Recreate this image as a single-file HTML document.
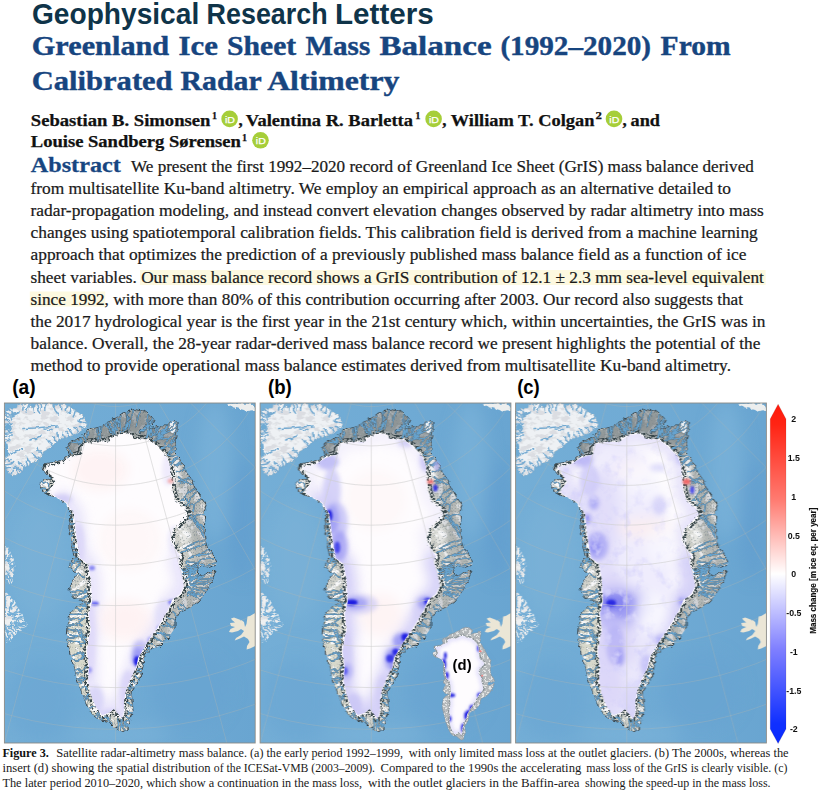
<!DOCTYPE html>
<html lang="en"><head><meta charset="utf-8"><title>Greenland Ice Sheet Mass Balance</title>
<style>html,body{margin:0;padding:0;background:#fff}body{width:820px;height:793px;overflow:hidden}svg{display:block}</style>
</head><body>
<svg width="820" height="793" viewBox="0 0 820 793">

<defs>
<linearGradient id="ocean" x1="0" y1="0" x2="1" y2="0"><stop offset="0" stop-color="#74aed6"/><stop offset="0.6" stop-color="#6faad4"/><stop offset="1" stop-color="#69a5d1"/></linearGradient>
<linearGradient id="cbar" x1="0" y1="0" x2="0" y2="1">
<stop offset="0" stop-color="#ff1a0a"/><stop offset="0.06" stop-color="#ff2414"/><stop offset="0.28" stop-color="#ff7a70"/><stop offset="0.5" stop-color="#ffffff"/><stop offset="0.72" stop-color="#8080ff"/><stop offset="0.94" stop-color="#1030ff"/><stop offset="1" stop-color="#0a2cff"/></linearGradient>
<filter id="blur3" x="-50%" y="-50%" width="200%" height="200%"><feGaussianBlur stdDeviation="2.2"/></filter>
<filter id="blur1" x="-50%" y="-50%" width="200%" height="200%"><feGaussianBlur stdDeviation="0.9"/></filter>
<filter id="blur4" x="-50%" y="-50%" width="200%" height="200%"><feGaussianBlur stdDeviation="3.2"/></filter>
<filter id="blur6" x="-50%" y="-50%" width="200%" height="200%"><feGaussianBlur stdDeviation="6"/></filter>
<filter id="mottle" x="0" y="0" width="100%" height="100%"><feTurbulence type="fractalNoise" baseFrequency="0.09" numOctaves="3" seed="8"/><feColorMatrix type="matrix" values="0 0 0 0 0.66  0 0 0 0 0.64  0 0 0 0 0.96  3.4 0 0 0 -1.75"/></filter>
<filter id="blur8" x="-50%" y="-50%" width="200%" height="200%"><feGaussianBlur stdDeviation="8"/></filter>
<filter id="rough" x="-5%" y="-5%" width="110%" height="110%"><feTurbulence type="fractalNoise" baseFrequency="0.25" numOctaves="2" seed="3" result="n"/><feDisplacementMap in="SourceGraphic" in2="n" scale="5" xChannelSelector="R" yChannelSelector="G"/></filter>
<filter id="veins" x="0" y="0" width="100%" height="100%"><feTurbulence type="turbulence" baseFrequency="0.33" numOctaves="2" seed="7"/><feColorMatrix type="matrix" values="0 0 0 0 0.2  0 0 0 0 0.25  0 0 0 0 0.28  -9 0 0 0 1.3"/></filter>
<filter id="patches" x="0" y="0" width="100%" height="100%"><feTurbulence type="fractalNoise" baseFrequency="0.16" numOctaves="3" seed="11"/><feColorMatrix type="matrix" values="0 0 0 0 0.95  0 0 0 0 0.95  0 0 0 0 0.96  8 0 0 0 -4.1"/></filter>
<filter id="roughice" x="-5%" y="-5%" width="110%" height="110%"><feTurbulence type="fractalNoise" baseFrequency="0.3" numOctaves="2" seed="9" result="n"/><feDisplacementMap in="SourceGraphic" in2="n" scale="6" xChannelSelector="R" yChannelSelector="G"/><feGaussianBlur stdDeviation="0.45"/></filter>
<filter id="rough3" x="-10%" y="-10%" width="120%" height="120%"><feTurbulence type="fractalNoise" baseFrequency="0.4" numOctaves="1" seed="2" result="n"/><feDisplacementMap in="SourceGraphic" in2="n" scale="1.5" xChannelSelector="R" yChannelSelector="G"/></filter>
<filter id="rough2" x="-5%" y="-5%" width="110%" height="110%"><feTurbulence type="fractalNoise" baseFrequency="0.2" numOctaves="2" seed="21" result="n"/><feDisplacementMap in="SourceGraphic" in2="n" scale="4" xChannelSelector="R" yChannelSelector="G"/></filter>
<filter id="speckle" x="-5%" y="-5%" width="110%" height="110%"><feTurbulence type="fractalNoise" baseFrequency="0.45" numOctaves="2" seed="5" result="n"/><feColorMatrix in="n" type="matrix" values="0 0 0 0 0  0 0 0 0 0  0 0 0 0 0  12 0 0 0 -5.6" result="m"/><feComposite in="SourceGraphic" in2="m" operator="in"/></filter>
<filter id="shade" x="0" y="0" width="100%" height="100%"><feTurbulence type="fractalNoise" baseFrequency="0.12 0.2" numOctaves="3" seed="4"/><feColorMatrix type="matrix" values="0 0 0 0 0.68  0 0 0 0 0.70  0 0 0 0 0.73  7 0 0 0 -3.3"/></filter>
<filter id="iceblur" x="-5%" y="-5%" width="110%" height="110%"><feGaussianBlur stdDeviation="0.8"/></filter>
<linearGradient id="mgrad" x1="0" y1="1" x2="1" y2="0"><stop offset="0" stop-color="#fff"/><stop offset="0.45" stop-color="#ddd"/><stop offset="0.75" stop-color="#555"/><stop offset="1" stop-color="#333"/></linearGradient>
<mask id="mmask" maskUnits="userSpaceOnUse" x="40" y="430" width="150" height="300"><rect x="40" y="430" width="150" height="300" fill="url(#mgrad)"/></mask>
<clipPath id="clipa"><rect x="4.4" y="403.0" width="250.8" height="340.0"/></clipPath>
<clipPath id="clipb"><rect x="260.1" y="403.0" width="250.8" height="340.0"/></clipPath>
<clipPath id="clipc"><rect x="515.6" y="403.0" width="250.8" height="340.0"/></clipPath>
<clipPath id="outerclip"><path d="M75.0 558.0 L72.0 548.0 L70.4 536.0 L70.0 524.0 L71.0 514.0 L67.0 504.0 L60.0 498.0 L50.0 496.0 L43.0 492.0 L40.0 484.0 L43.0 480.0 L52.0 479.0 L48.0 475.0 L43.0 469.0 L44.0 464.0 L54.0 462.4 L64.0 460.0 L70.0 455.0 L67.0 448.0 L69.0 443.0 L78.0 439.0 L84.0 436.0 L88.0 430.0 L100.0 427.0 L108.0 422.0 L116.0 419.0 L124.0 413.0 L134.0 409.6 L144.0 411.0 L152.0 417.0 L154.0 420.0 L152.0 424.0 L146.0 430.0 L153.0 428.0 L160.0 426.0 L168.0 426.0 L170.0 421.0 L177.0 422.0 L177.0 430.0 L175.0 440.0 L176.0 448.0 L174.0 453.0 L179.0 458.0 L183.0 466.0 L188.0 474.0 L192.0 482.0 L198.0 494.0 L206.0 504.0 L204.0 512.0 L205.0 520.0 L204.0 530.0 L205.0 540.0 L208.0 550.0 L212.0 552.0 L217.0 564.0 L208.0 567.0 L200.0 565.0 L196.0 572.0 L200.0 576.0 L216.0 571.0 L212.0 580.0 L206.0 592.0 L198.0 602.0 L188.0 609.0 L180.0 612.0 L175.0 620.0 L175.0 628.0 L168.0 638.0 L160.0 646.0 L152.0 649.0 L144.0 655.0 L143.0 666.0 L141.0 676.0 L136.0 684.0 L131.0 692.0 L132.0 701.0 L133.0 711.0 L129.0 721.0 L128.0 729.0 L122.0 732.0 L114.0 727.0 L108.0 721.0 L100.0 720.0 L93.0 715.0 L87.0 705.0 L82.0 693.0 L77.0 679.0 L74.0 665.0 L70.0 651.0 L67.0 640.0 L68.0 626.0 L70.0 614.0 L76.0 607.0 L86.0 602.0 L75.0 598.0 L69.0 590.0 L73.0 580.0 L78.0 574.0 L70.0 568.0 L72.0 560.0 Z"/></clipPath>
<clipPath id="bafclip"><path d="M4.4 546.0 L8.0 548.0 L11.0 553.0 L14.0 560.0 L14.4 570.0 L12.0 576.0 L13.0 583.0 L9.0 584.0 L6.0 580.0 L4.4 578.0 Z M4.4 592.0 L7.0 593.0 L11.0 598.0 L16.0 604.0 L20.0 612.0 L25.0 620.0 L28.0 625.0 L23.0 628.0 L18.0 631.0 L14.0 636.0 L10.0 641.0 L7.6 643.0 L5.5 638.0 L4.4 636.0 Z"/></clipPath>
<clipPath id="ellclip"><path d="M4.4 411.0 L9.0 410.0 L16.0 409.0 L18.0 405.0 L24.0 404.0 L30.0 404.0 L31.0 408.0 L35.0 407.0 L37.0 404.0 L52.0 404.0 L54.0 408.0 L56.0 404.5 L67.0 405.0 L70.0 408.0 L75.0 410.0 L80.0 414.0 L84.0 418.0 L87.0 424.0 L85.0 428.0 L78.0 433.0 L68.0 437.0 L58.0 440.0 L51.0 447.0 L43.0 452.0 L40.0 458.0 L34.0 462.0 L24.0 466.0 L22.0 472.0 L16.0 475.0 L11.0 475.0 L7.0 469.0 L5.0 463.0 L4.4 460.0 Z"/></clipPath>
<clipPath id="iceclip"><path d="M80.0 558.0 L77.0 540.0 L75.0 524.0 L74.0 514.0 L66.0 502.0 L56.0 497.0 L49.0 492.0 L56.0 482.0 L50.0 472.0 L46.0 467.0 L60.0 464.0 L70.0 458.0 L82.0 454.0 L83.0 444.0 L96.0 442.0 L108.0 442.0 L118.0 435.0 L128.0 434.0 L136.0 439.0 L148.0 440.0 L156.0 446.0 L166.0 456.0 L170.0 466.0 L171.0 480.0 L172.0 492.0 L176.0 502.0 L184.0 508.0 L188.0 514.0 L180.0 522.0 L172.0 530.0 L170.0 540.0 L176.0 550.0 L180.0 556.0 L178.0 562.0 L182.0 574.0 L184.0 586.0 L180.0 594.0 L172.0 600.0 L168.0 610.0 L162.0 620.0 L156.0 630.0 L150.0 638.0 L144.0 648.0 L138.0 658.0 L136.0 668.0 L130.0 680.0 L126.0 690.0 L124.0 701.0 L124.0 711.0 L122.0 719.0 L119.0 715.0 L114.0 709.0 L108.0 713.0 L102.0 715.0 L96.0 707.0 L91.0 695.0 L88.0 681.0 L89.0 667.0 L87.0 651.0 L89.0 638.0 L91.0 630.0 L89.0 614.0 L92.0 602.0 L91.0 580.0 L88.0 564.0 Z"/></clipPath>
<g id="oceanfx" filter="url(#blur8)">
<ellipse cx="40" cy="560" rx="30" ry="60" fill="#82b8db" opacity="0.35"/>
<ellipse cx="215" cy="470" rx="18" ry="70" fill="#7fb5da" opacity="0.6"/>
<ellipse cx="242" cy="520" rx="14" ry="60" fill="#609dce" opacity="0.6"/>
<ellipse cx="190" cy="690" rx="40" ry="40" fill="#68a4d1" opacity="0.6"/>
<ellipse cx="40" cy="700" rx="35" ry="40" fill="#69a5d2" opacity="0.6"/>
<ellipse cx="120" cy="735" rx="50" ry="10" fill="#7fb5da" opacity="0.6"/>
</g>
<g id="lands">
<g filter="url(#rough)">
<path d="M4.4 411.0 L9.0 410.0 L16.0 409.0 L18.0 405.0 L24.0 404.0 L30.0 404.0 L31.0 408.0 L35.0 407.0 L37.0 404.0 L52.0 404.0 L54.0 408.0 L56.0 404.5 L67.0 405.0 L70.0 408.0 L75.0 410.0 L80.0 414.0 L84.0 418.0 L87.0 424.0 L85.0 428.0 L78.0 433.0 L68.0 437.0 L58.0 440.0 L51.0 447.0 L43.0 452.0 L40.0 458.0 L34.0 462.0 L24.0 466.0 L22.0 472.0 L16.0 475.0 L11.0 475.0 L7.0 469.0 L5.0 463.0 L4.4 460.0 Z" fill="#eef1f4" stroke="#b4bcc3" stroke-width="0.6"/>
<path d="M4.4 546.0 L8.0 548.0 L11.0 553.0 L14.0 560.0 L14.4 570.0 L12.0 576.0 L13.0 583.0 L9.0 584.0 L6.0 580.0 L4.4 578.0 Z" fill="#eceeef"/><path d="M4.4 592.0 L7.0 593.0 L11.0 598.0 L16.0 604.0 L20.0 612.0 L25.0 620.0 L28.0 625.0 L23.0 628.0 L18.0 631.0 L14.0 636.0 L10.0 641.0 L7.6 643.0 L5.5 638.0 L4.4 636.0 Z" fill="#eef0f1"/>
<path d="M228.0 404.0 L240.0 403.6 L254.0 404.0 L255.0 410.0 L248.0 411.0 L240.0 409.0 L232.0 407.0 Z" fill="#eceeee"/>
</g>
<path d="M231.0 618.5 L234.0 617.5 L238.0 619.0 L242.0 620.5 L244.0 622.0 L245.0 627.0 L246.5 624.0 L247.5 616.5 L250.0 616.0 L252.5 614.5 L255.2 613.0 L255.2 646.0 L250.0 648.5 L246.6 649.5 L247.0 646.0 L249.5 642.0 L248.0 639.0 L244.0 636.5 L240.0 638.5 L234.7 640.5 L236.0 638.0 L241.0 635.0 L244.0 631.0 L241.0 629.0 L238.0 631.0 L232.0 632.5 L229.0 632.0 L230.5 629.0 L235.0 627.0 L231.0 626.0 L230.0 623.0 L235.0 622.5 L232.0 620.0 Z" fill="#ebe6d6" filter="url(#rough3)"/>
<g clip-path="url(#ellclip)"><rect x="0" y="400" width="95" height="80" filter="url(#shade)" opacity="0.85"/></g>
<g clip-path="url(#bafclip)"><rect x="0" y="540" width="32" height="108" filter="url(#shade)" opacity="0.7"/></g>
<g filter="url(#rough2)">
<path d="M7.9 408.8 L10.5 410.9 L11.9 412.1 L12.3 413.7 M22.1 402.8 L21.8 406.3 L23.1 408.1 L22.8 410.1 M30.4 402.7 L28.5 406.6 L27.5 409.4 L26.2 412.0 M33.6 405.8 L33.0 409.2 L33.3 410.8 L33.8 412.3 M36.3 402.7 L37.6 407.2 L37.9 410.6 L39.8 413.1 M40.8 402.5 L41.6 405.9 L41.3 407.9 L40.6 409.9 M46.0 402.5 L46.8 405.8 L44.7 407.5 L44.9 409.3 M53.3 406.4 L55.2 410.4 L56.9 412.5 L58.4 414.9 M60.2 403.2 L59.7 406.4 L61.8 407.9 L61.6 409.6 M68.1 404.1 L66.5 407.6 L65.3 409.5 L65.7 412.3 M71.5 407.0 L70.6 410.1 L70.5 411.9 L67.8 412.7 M75.9 408.8 L74.8 412.6 L74.1 414.8 L73.2 416.9 M83.5 415.4 L81.9 418.5 L79.8 419.1 L79.0 421.0 M87.6 422.0 L83.8 421.5 L81.7 422.4 L79.4 421.3 M85.6 429.3 L82.7 427.8 L81.4 426.8 L79.5 426.6 M79.1 434.1 L77.2 430.8 L76.4 428.6 L73.9 427.5 M74.0 436.2 L71.5 433.2 L71.0 431.0 L69.1 429.3 M68.9 438.3 L67.3 435.7 L68.0 433.7 L66.9 432.5 M64.5 439.6 L63.8 436.3 L62.9 434.6 L62.7 432.6 M59.9 441.0 L58.8 437.3 L58.0 435.0 L58.1 432.5 M57.5 442.6 L54.7 440.0 L54.4 437.1 L52.4 435.8 M52.9 447.2 L50.9 443.4 L48.7 441.9 L47.3 439.7 M43.6 454.1 L40.8 451.1 L38.2 450.9 L36.9 448.3 M40.0 459.8 L36.2 457.6 L34.6 455.5 L32.4 454.0 M30.5 465.0 L29.8 461.6 L28.0 460.2 L27.4 458.4 M27.5 466.2 L26.3 462.2 L26.8 459.1 L26.4 456.4 M25.4 466.6 L22.1 464.8 L19.9 464.2 L18.5 461.9 M23.3 472.3 L20.0 469.8 L17.7 468.4 L14.8 467.7 M18.7 475.3 L17.5 471.0 L17.2 467.9 L15.6 465.3 M10.9 476.4 L11.8 472.1 L12.5 469.3 L14.6 467.0 M5.2 468.3 L9.0 467.5 L11.4 467.4 L13.6 466.6 M4.1 465.0 L8.6 464.6 L11.4 463.8 L13.7 461.6 M3.2 461.7 L6.7 459.9 L9.2 461.3 L11.1 459.5 M2.9 454.1 L6.1 454.2 L7.9 453.0 L9.6 454.7 M2.9 440.4 L6.2 440.0 L8.0 440.8 L9.8 439.2 M2.9 436.6 L6.8 435.2 L9.1 435.9 L11.5 436.0 M2.9 433.3 L6.5 433.3 L8.7 433.0 L10.8 432.6 M2.9 429.7 L6.7 429.2 L8.9 430.6 L11.2 428.8 M2.9 424.4 L7.0 423.9 L9.6 423.8 L12.3 423.1 M2.9 420.1 L6.4 419.4 L8.4 419.9 L10.4 421.7 M3.1 413.1 L5.9 415.3 L7.4 417.0 L9.8 416.8 M3.2 410.0 L7.1 413.3 L10.0 415.3 L11.6 418.9 M10.0 415.3 L15.1 413.6" fill="none" stroke="#74aad1" stroke-width="1.5" stroke-linecap="round"/>
<path d="M10.3 549.6 L8.6 553.1 L9.0 555.9 L8.7 558.3 M11.8 551.9 L9.8 556.0 L8.9 558.9 L7.7 561.7 M8.9 558.9 L9.1 562.3 M13.5 555.5 L10.1 557.7 L8.4 559.4 L6.1 560.6 M15.4 560.3 L12.9 561.9 L11.6 562.6 L10.4 563.5 M15.7 565.4 L12.0 565.6 L9.8 564.7 L7.5 563.0 M15.8 568.0 L13.0 567.4 L11.8 566.3 L10.5 565.8 M14.8 572.9 L12.1 570.4 L10.7 568.7 L9.8 566.2 M13.4 582.1 L11.4 577.5 L8.5 575.1 L6.4 572.2 M8.5 575.1 L10.5 568.4 M13.7 584.3 L12.3 580.6 L10.7 578.6 L10.3 576.1 M10.9 585.1 L9.8 580.7 L8.2 578.0 L6.7 575.4 M8.2 578.0 L4.7 576.0 M8.8 584.7 L6.9 580.0 L4.3 576.9 L2.9 573.5 M7.0 582.6 L5.5 579.3 L5.2 577.4 L5.5 575.3 M4.4 578.8 L4.7 575.7 L4.2 574.0 L4.0 572.4 M4.4 574.4 L4.6 571.8 L3.4 570.7 L2.9 569.6 M4.4 560.0 L4.5 562.1 L4.6 562.7 L3.5 563.3 M4.4 557.5 L4.0 560.0 L5.0 561.0 L3.6 562.0 M4.4 554.1 L4.4 557.3 L5.3 559.1 L5.3 560.8 M4.4 551.8 L4.1 555.2 L5.9 557.0 L5.9 558.9 M4.4 549.7 L4.5 554.4 L3.8 557.6 L4.0 560.8 M4.4 545.7 L5.1 549.5 L4.6 551.9 L4.7 554.2 M4.4 544.5 L4.9 549.6 L3.8 553.1 L4.3 556.7 M8.2 592.7 L6.0 599.4 L5.3 604.8 L3.1 610.0 M5.3 604.8 L1.7 609.5 M12.3 597.6 L11.3 603.1 L9.6 606.9 L9.3 611.1 M13.9 599.4 L12.4 603.4 L11.1 605.7 L10.7 608.6 M17.0 603.0 L14.5 605.9 L12.7 607.4 L10.4 608.5 M19.4 607.6 L16.5 611.2 L14.1 613.0 L12.0 615.4 M14.1 613.0 L14.1 619.5 M21.0 610.7 L16.3 613.0 L12.3 613.3 L8.6 614.3 M12.3 613.3 L8.3 612.2 M23.4 614.7 L17.9 614.7 L13.8 614.2 L10.0 614.4 M24.7 617.0 L20.8 616.7 L18.4 617.7 L16.1 618.5 M26.7 620.4 L21.4 619.1 L17.5 618.5 L13.6 617.9 M17.5 618.5 L13.8 623.2 M28.1 623.0 L22.5 623.5 L18.5 623.2 L14.3 623.8 M18.5 623.2 L15.0 617.5 M29.4 625.5 L24.8 624.3 L21.4 624.8 L18.4 623.7 M21.4 624.8 L16.0 626.3 M26.5 627.3 L21.9 626.1 L18.5 625.9 L15.6 624.5 M22.6 629.8 L17.7 627.4 L13.8 626.3 L10.5 624.1 M13.8 626.3 L6.8 626.4 M18.9 632.2 L15.3 628.6 L12.9 625.9 L10.3 623.4 M12.9 625.9 L11.8 622.4 M17.3 634.2 L13.8 631.2 L11.1 629.4 L8.8 627.4 M11.1 629.4 L12.0 624.0 M14.9 637.1 L12.3 633.8 L9.9 632.1 L7.6 630.3 M11.9 640.6 L9.0 635.3 L7.9 631.0 L5.1 627.2 M7.9 631.0 L3.9 629.2 M9.1 643.4 L8.3 638.4 L8.7 634.6 L6.9 631.3 M7.5 643.9 L6.8 639.0 L5.3 635.8 L3.4 632.6 M5.3 635.8 L2.3 632.3 M6.6 641.8 L5.2 636.0 L2.6 631.8 L2.0 627.4 M2.6 631.8 L6.3 627.1 M5.3 639.0 L4.8 634.7 L4.5 632.0 L3.2 629.2 M4.4 636.7 L4.1 632.8 L4.0 630.5 L4.3 628.2 M4.4 633.5 L4.0 630.3 L4.9 628.6 L4.2 626.9 M4.4 630.4 L4.6 626.7 L3.2 624.5 L2.6 622.2 M4.4 627.1 L4.9 624.3 L3.4 623.0 L4.2 621.8 M4.4 611.5 L4.0 614.2 L4.6 615.5 L4.6 616.7 M4.4 608.5 L4.5 611.4 L5.3 612.9 L5.2 614.3 M4.4 604.1 L4.6 607.3 L3.9 608.9 L3.8 610.6 M4.4 599.7 L4.4 603.4 L5.1 605.6 L5.8 607.8 M4.4 596.8 L2.6 602.5 L2.2 606.7 L1.6 610.9 M2.2 606.7 L-1.9 610.0 M4.4 592.6 L4.8 598.1 L3.6 602.1 L3.4 606.1 M3.6 602.1 L0.5 604.0 M4.4 590.5 L3.6 597.0 L2.6 602.1 L-0.1 607.1" fill="none" stroke="#74aed6" stroke-width="1.3" stroke-linecap="round"/>
<path d="M23 428.5 L35 428 L46 427 L57 426 M44 429 L52 430.5 M11 453 L22 449 M12 416 L20 412 M30 440 L42 436" fill="none" stroke="#74aad1" stroke-width="1.7" stroke-linecap="round"/>
<ellipse cx="8" cy="427" rx="3.5" ry="2.2" fill="#6eaad3"/><ellipse cx="6" cy="450" rx="2" ry="8" fill="#6eaad3"/>
</g>
</g>
<g id="gl">
<path d="M75.0 558.0 L72.0 548.0 L70.4 536.0 L70.0 524.0 L71.0 514.0 L67.0 504.0 L60.0 498.0 L50.0 496.0 L43.0 492.0 L40.0 484.0 L43.0 480.0 L52.0 479.0 L48.0 475.0 L43.0 469.0 L44.0 464.0 L54.0 462.4 L64.0 460.0 L70.0 455.0 L67.0 448.0 L69.0 443.0 L78.0 439.0 L84.0 436.0 L88.0 430.0 L100.0 427.0 L108.0 422.0 L116.0 419.0 L124.0 413.0 L134.0 409.6 L144.0 411.0 L152.0 417.0 L154.0 420.0 L152.0 424.0 L146.0 430.0 L153.0 428.0 L160.0 426.0 L168.0 426.0 L170.0 421.0 L177.0 422.0 L177.0 430.0 L175.0 440.0 L176.0 448.0 L174.0 453.0 L179.0 458.0 L183.0 466.0 L188.0 474.0 L192.0 482.0 L198.0 494.0 L206.0 504.0 L204.0 512.0 L205.0 520.0 L204.0 530.0 L205.0 540.0 L208.0 550.0 L212.0 552.0 L217.0 564.0 L208.0 567.0 L200.0 565.0 L196.0 572.0 L200.0 576.0 L216.0 571.0 L212.0 580.0 L206.0 592.0 L198.0 602.0 L188.0 609.0 L180.0 612.0 L175.0 620.0 L175.0 628.0 L168.0 638.0 L160.0 646.0 L152.0 649.0 L144.0 655.0 L143.0 666.0 L141.0 676.0 L136.0 684.0 L131.0 692.0 L132.0 701.0 L133.0 711.0 L129.0 721.0 L128.0 729.0 L122.0 732.0 L114.0 727.0 L108.0 721.0 L100.0 720.0 L93.0 715.0 L87.0 705.0 L82.0 693.0 L77.0 679.0 L74.0 665.0 L70.0 651.0 L67.0 640.0 L68.0 626.0 L70.0 614.0 L76.0 607.0 L86.0 602.0 L75.0 598.0 L69.0 590.0 L73.0 580.0 L78.0 574.0 L70.0 568.0 L72.0 560.0 Z" fill="#d0d1ca" stroke="#35424a" stroke-width="1.0" stroke-linejoin="round" filter="url(#rough)"/>
<g clip-path="url(#outerclip)">
<rect x="60" y="600" width="40" height="125" fill="#dcdccc" opacity="0.6" filter="url(#blur3)"/>
<rect x="30" y="400" width="200" height="340" filter="url(#patches)"/>
<g filter="url(#blur6)"><path d="M60 470 L60 440 L100 420 L135 405 L180 415 L185 450 L165 450 L130 440 L90 450 Z" fill="#59656b" opacity="0.55"/><path d="M185 450 L195 470 L215 560 L215 600 L190 615 L165 650 L150 640 L185 590 L195 560 L180 500 L165 450 Z" fill="#59656b" opacity="0.28"/></g>
<g filter="url(#blur3)"><ellipse cx="176" cy="470" rx="4" ry="14" fill="#fff" opacity="0.85"/><ellipse cx="182" cy="505" rx="4" ry="8" fill="#fff" opacity="0.7"/><ellipse cx="190" cy="585" rx="6" ry="6" fill="#fff" opacity="0.8"/><ellipse cx="185" cy="535" rx="5" ry="9" fill="#fff" opacity="0.6"/></g>
<rect x="30" y="400" width="200" height="340" filter="url(#veins)" opacity="0.55"/>
<path d="M77.3 561.6 L83.9 566.5 L86.5 580.5 L87.5 601.5 L84.6 612.9 L84.6 613.3 L84.5 613.7 L84.5 614.1 L84.5 614.6 L86.4 629.7 L84.6 636.9 L84.6 637.3 L82.6 650.3 L82.5 650.7 L82.5 651.1 L82.5 651.6 L84.5 667.1 L83.5 680.7 L83.5 681.1 L83.5 681.5 L83.6 681.9 L86.6 695.9 L86.7 696.3 L86.8 696.7 L91.8 708.7 L92.0 709.1 L92.2 709.4 L92.4 709.7 L98.4 717.7 L98.7 718.0 L99.0 718.3 L99.3 718.6 L99.7 718.9 L100.1 719.1 L100.5 719.2 L100.9 719.4 L101.3 719.4 L101.7 719.5 L102.2 719.5 L102.6 719.5 L103.0 719.4 L103.4 719.3 L109.4 717.3 L109.8 717.1 L110.2 717.0 L110.5 716.7 L113.1 715.0 L115.5 717.8 L118.4 721.7 L118.7 722.0 L119.0 722.3 L119.3 722.6 L119.7 722.9 L120.1 723.1 L120.5 723.2 L120.9 723.4 L121.4 723.5 L121.8 723.5 L122.2 723.5 L122.7 723.4 L123.1 723.4 L123.5 723.2 L123.9 723.1 L124.3 722.9 L124.7 722.6 L125.0 722.3 L125.3 722.0 L125.6 721.7 L125.9 721.3 L126.1 720.9 L126.2 720.5 L126.4 720.1 L128.4 712.1 L128.5 711.5 L128.5 711.0 L128.5 701.4 L130.3 691.3 L134.1 681.8 L140.0 670.0 L140.2 669.6 L140.3 669.3 L140.4 668.9 L142.3 659.6 L153.7 640.5 L159.6 632.7 L159.9 632.3 L171.9 612.3 L172.0 612.0 L172.2 611.7 L175.7 602.8 L182.7 597.6 L183.0 597.3 L183.3 597.0 L183.6 596.7 L183.8 596.4 L184.0 596.0 L188.0 588.0 L188.2 587.6 L188.4 587.1 L188.4 586.7 L188.5 586.2 L188.5 585.7 L188.4 585.3 L186.4 573.3 L186.4 572.9 L186.3 572.6 L182.7 562.0 L184.3 557.4 L184.4 557.0 L184.5 556.5 L184.5 556.1 L184.5 555.6 L184.4 555.2 L184.3 554.7 L184.2 554.3 L184.0 553.9 L183.7 553.5 L179.8 547.6 L174.8 539.2 L176.1 532.2 L191.2 517.2 L191.5 516.9 L191.7 516.5 L192.0 516.1 L192.2 515.7 L192.3 515.3 L192.4 514.9 L192.5 514.4 L192.5 514.0 L192.5 513.6 L192.4 513.1 L192.3 512.7 L192.2 512.3 L192.0 511.9 L191.7 511.5 L187.7 505.5 L187.4 505.1 L187.1 504.7 L186.7 504.4 L179.7 499.2 L176.4 491.0 L175.5 479.7 L174.5 465.7 L174.4 465.2 L174.3 464.8 L174.2 464.3 L170.2 454.3 L170.0 453.9 L169.8 453.5 L169.5 453.2 L169.2 452.8 L159.2 442.8 L158.7 442.4 L150.7 436.4 L150.4 436.2 L150.0 436.0 L149.6 435.8 L149.2 435.7 L148.8 435.6 L148.4 435.5 L137.5 434.6 L130.4 430.2 L130.0 430.0 L129.6 429.8 L129.2 429.7 L128.8 429.6 L128.4 429.5 L128.0 429.5 L127.6 429.5 L117.6 430.5 L117.1 430.6 L116.7 430.7 L116.2 430.9 L115.8 431.1 L115.4 431.3 L106.6 437.5 L96.0 437.5 L95.7 437.5 L95.3 437.6 L82.3 439.6 L81.9 439.6 L81.4 439.8 L81.0 440.0 L80.6 440.2 L80.2 440.4 L79.9 440.7 L79.6 441.1 L79.3 441.4 L79.1 441.8 L78.9 442.2 L78.7 442.7 L78.6 443.1 L78.5 443.6 L77.8 450.7 L68.6 453.7 L68.1 453.9 L67.7 454.1 L58.3 459.8 L45.1 462.6 L44.6 462.7 L44.2 462.9 L43.8 463.1 L43.5 463.3 L43.1 463.5 L42.8 463.8 L42.5 464.2 L42.2 464.5 L42.0 464.9 L41.8 465.3 L41.7 465.7 L41.6 466.1 L41.5 466.5 L41.5 467.0 L41.5 467.4 L41.6 467.9 L41.7 468.3 L41.8 468.7 L42.0 469.1 L42.2 469.5 L42.5 469.8 L46.3 474.6 L50.6 481.8 L45.3 489.4 L45.1 489.8 L44.9 490.2 L44.7 490.6 L44.6 491.0 L44.5 491.4 L44.5 491.9 L44.5 492.3 L44.6 492.8 L44.7 493.2 L44.8 493.6 L45.0 494.0 L45.2 494.4 L45.4 494.8 L45.7 495.1 L46.0 495.4 L46.4 495.7 L53.4 500.7 L53.7 500.9 L54.0 501.0 L62.9 505.5 L69.6 515.6 L70.5 524.4 L70.5 524.6 L72.5 540.6 L72.6 540.7 L75.6 558.7 L75.7 559.2 L75.8 559.6 L75.9 560.0 L76.2 560.3 L76.4 560.7 L76.7 561.0 L77.0 561.3 Z" fill="#39464c" filter="url(#speckle)"/>
<g filter="url(#rough2)">
<path d="M155.5 417 L148 425 L140.2 432.4 M163 421.5 L158 428 L155.6 433 M106 421.5 L108 427 L111 432.5 M98.4 426.5 L100 431 L101 435 M117 418 L119 426 M127 412 L128 420 L126 428 M198 563 L190 568 L184 571 L178 569 M183 571 L180 577" fill="none" stroke="#3f4c53" stroke-width="3.0" stroke-linecap="round" stroke-linejoin="round"/>
<path d="M155.5 417 L148 425 L140.2 432.4 M163 421.5 L158 428 L155.6 433 M106 421.5 L108 427 L111 432.5 M98.4 426.5 L100 431 L101 435 M117 418 L119 426 M127 412 L128 420 L126 428 M198 563 L190 568 L184 571 L178 569 M183 571 L180 577" fill="none" stroke="#6aa6d2" stroke-width="1.9" stroke-linecap="round" stroke-linejoin="round"/>
</g>
<ellipse cx="172.5" cy="427" rx="3.6" ry="6.5" fill="#eef3f8" stroke="#5a676e" stroke-width="0.5"/>
<g filter="url(#rough2)">
<path d="M72.3 554.3 L74.9 552.0 L76.5 552.6 L77.8 551.7 M70.8 549.2 L73.9 549.3 L75.1 547.5 L76.8 548.2 M70.3 546.3 L72.5 544.7 L73.8 546.7 L74.7 545.6 M69.8 542.5 L72.3 543.1 L73.0 541.5 L73.6 539.8 M69.0 536.5 L71.3 535.0 L72.4 535.4 L73.5 536.2 M68.8 533.5 L71.3 534.0 L72.1 532.4 L73.0 532.2 M68.7 529.0 L71.4 529.0 L72.6 529.3 L73.7 528.9 M68.5 524.2 L71.1 524.6 L72.0 522.8 L73.1 523.2 M68.9 520.5 L71.4 518.7 L72.9 521.1 L74.0 519.7 M42.0 492.3 L45.2 493.2 L46.8 491.0 L48.5 490.0 M40.1 487.0 L42.2 489.0 L44.1 488.3 L45.5 488.5 M40.6 480.7 L45.8 482.4 L48.3 485.4 L50.5 488.8 M69.1 452.5 L69.5 455.2 L69.0 456.8 L69.2 458.0 M67.0 447.8 L66.8 451.8 L67.7 453.9 L68.6 456.0 M67.4 444.3 L69.0 448.5 L70.2 451.3 L72.3 453.7 M70.0 441.6 L74.2 442.5 L77.0 442.6 L79.6 444.4 M73.3 439.9 L76.7 441.8 L79.5 441.3 L81.2 443.5 M78.3 437.2 L80.4 439.1 L80.2 440.8 L82.5 440.8 M81.3 435.7 L81.2 439.2 L80.4 441.2 L82.3 442.7 M83.6 434.6 L83.9 437.8 L85.5 439.3 L86.4 440.9 M85.6 431.7 L86.9 434.6 L87.5 436.1 L87.2 437.7 M87.4 429.0 L88.8 433.3 L88.0 436.4 L87.6 439.5 M96.6 426.4 L97.1 431.9 L97.1 436.0 L98.9 440.1 M101.1 424.8 L101.1 430.1 L99.5 433.9 L100.4 437.7 M99.5 433.9 L96.7 436.3 M103.7 422.9 L106.4 426.4 L108.2 428.6 L109.8 431.0 M107.7 420.6 L110.3 426.2 L113.5 429.7 L115.2 434.1 M113.5 429.7 L112.7 435.1 M111.1 419.2 L113.6 423.5 L113.9 427.0 L117.3 429.1 M113.9 427.0 L113.3 431.0 M116.7 416.9 L115.9 422.8 L114.9 427.2 L114.9 431.6 M121.1 413.6 L119.8 421.0 L120.5 426.7 L121.8 432.4 M128.7 409.9 L127.1 418.5 L127.5 425.6 L123.2 432.5 M127.5 425.6 L123.8 428.7 M133.0 408.6 L130.9 416.7 L130.1 423.6 L128.2 430.3 M130.1 423.6 L127.2 424.7 M141.7 409.3 L138.5 415.6 L137.0 421.3 L136.2 427.3 M149.3 413.4 L148.0 419.5 L147.7 424.3 L147.2 429.0 M147.7 424.3 L151.4 428.1 M153.3 417.0 L151.8 423.3 L150.6 428.2 L150.1 433.2 M150.6 428.2 L143.9 430.1 M152.9 421.5 L150.7 426.3 L151.2 430.2 L150.5 433.9 M151.2 430.2 L152.7 434.8 M150.5 424.2 L148.8 428.4 L147.8 431.3 L147.4 434.2 M147.9 426.8 L148.7 431.3 L147.3 434.2 L147.1 437.2 M148.0 428.0 L148.5 432.3 L148.1 435.0 L146.0 437.5 M151.0 427.2 L151.3 431.6 L149.5 433.9 L150.1 436.9 M154.8 426.3 L150.1 430.3 L148.3 434.0 L147.0 438.0 M160.4 424.9 L155.6 428.9 L154.4 433.7 L150.9 436.8 M168.7 424.8 L162.7 430.6 L160.5 437.2 L155.6 441.8 M160.5 437.2 L156.0 438.7 M170.1 421.9 L166.6 427.3 L164.3 431.8 L162.2 436.4 M164.3 431.8 L157.7 432.8 M172.5 420.0 L166.6 425.2 L163.6 430.6 L158.6 434.4 M176.7 420.7 L170.3 427.6 L164.7 433.1 L159.6 439.2 M178.1 424.9 L169.9 431.6 L160.4 434.9 L153.4 440.7 M160.4 434.9 L154.1 435.1 M178.1 427.8 L173.8 434.8 L168.7 438.7 L165.3 444.5 M168.7 438.7 L162.0 438.2 M176.6 436.1 L171.5 441.7 L167.5 446.4 L161.4 449.0 M176.2 440.4 L171.9 442.8 L171.4 446.9 L167.9 448.0 M171.4 446.9 L171.3 450.0 M176.8 444.6 L173.1 447.4 L172.4 451.0 L170.7 453.7 M176.1 450.3 L172.6 452.1 L169.4 451.4 L168.4 454.6 M177.6 454.7 L174.0 456.3 L171.2 456.0 L168.1 455.1 M180.9 458.5 L176.0 458.8 L173.2 460.3 L170.4 462.0 M173.2 460.3 L171.3 466.3 M182.2 461.0 L178.8 461.7 L177.6 463.6 L176.4 465.7 M184.2 465.3 L179.9 463.8 L177.4 465.8 L174.7 464.8 M186.3 468.8 L181.9 470.5 L179.1 472.1 L176.0 471.5 M191.7 478.4 L186.2 478.9 L182.3 480.4 L178.3 481.3 M182.3 480.4 L178.5 476.9 M194.4 483.7 L188.6 483.8 L184.1 481.2 L179.9 483.4 M184.1 481.2 L182.6 484.2 M196.4 487.8 L189.2 491.8 L185.8 496.9 L180.9 500.8 M185.8 496.9 L187.5 500.8 M197.6 490.1 L192.5 496.0 L188.9 501.1 L184.7 505.6 M188.9 501.1 L190.2 505.9 M202.7 497.4 L197.9 501.6 L194.4 504.9 L189.3 505.8 M194.4 504.9 L193.4 510.7 M205.8 514.5 L200.6 514.8 L197.0 514.8 L193.2 517.9 M205.3 529.2 L199.4 525.3 L196.6 520.3 L193.6 515.3 M205.2 532.2 L200.2 525.3 L194.3 521.5 L188.5 517.5 M205.8 538.1 L200.0 529.3 L195.5 521.5 L190.6 514.0 M206.4 539.5 L198.0 542.4 L191.0 544.6 L184.9 548.4 M207.6 543.5 L197.4 546.4 L189.3 550.1 L180.7 552.8 M210.1 550.0 L201.9 552.9 L195.2 555.8 L188.6 558.5 M213.7 552.2 L207.1 554.3 L201.9 554.6 L196.8 555.8 M201.9 554.6 L198.7 557.1 M215.8 557.6 L205.0 558.8 L195.5 562.0 L186.2 562.4 M217.9 562.2 L205.4 565.5 L194.8 569.8 L184.1 573.7 M194.8 569.8 L190.7 568.4 M214.3 565.0 L206.3 569.2 L199.1 571.0 L192.4 574.4 M199.1 571.0 L193.9 567.2 M208.9 566.5 L200.3 567.5 L193.9 570.7 L186.3 569.5 M193.9 570.7 L187.3 568.4 M203.6 565.1 L197.0 566.6 L191.7 567.6 L186.1 567.3 M191.7 567.6 L186.2 563.5 M199.7 567.6 L195.1 570.7 L191.8 572.6 L188.6 574.9 M191.8 572.6 L189.5 576.3 M198.3 570.1 L194.4 573.0 L191.1 572.0 L188.6 574.1 M200.4 574.7 L194.8 577.7 L190.0 576.4 L185.8 578.8 M202.8 575.3 L197.2 578.3 L192.6 577.8 L188.5 580.7 M192.6 577.8 L190.8 582.7 M212.5 572.3 L205.2 574.2 L199.8 577.9 L194.0 578.9 M214.0 578.6 L205.0 579.0 L197.5 579.2 L189.6 577.7 M212.8 581.1 L205.0 582.1 L198.5 581.3 L192.4 583.4 M198.5 581.3 L195.0 577.3 M210.9 585.2 L202.9 583.7 L196.4 584.1 L190.0 585.4 M209.4 588.2 L202.2 588.2 L196.6 586.7 L191.0 585.3 M208.1 591.1 L199.6 590.5 L193.1 588.2 L186.2 587.7 M193.1 588.2 L188.7 593.1 M204.6 596.0 L198.9 594.4 L194.3 594.0 L191.0 590.7 M194.3 594.0 L190.8 596.0 M201.5 599.9 L196.2 597.0 L192.5 594.1 L188.6 591.6 M192.5 594.1 L187.7 595.9 M186.8 611.0 L185.1 607.3 L182.5 606.1 L180.4 604.5 M184.8 611.3 L181.4 609.2 L178.8 609.1 L177.0 607.1 M178.9 616.6 L175.8 614.9 L174.5 612.9 L172.9 611.7 M176.3 621.0 L172.5 619.2 L169.6 618.7 L167.5 617.0 M176.3 628.5 L171.4 626.8 L168.9 624.3 L166.1 622.0 M168.9 624.3 L163.1 626.5 M171.7 635.4 L166.0 634.7 L163.0 632.5 L158.8 632.3 M167.9 640.2 L164.3 635.7 L161.0 633.2 L157.0 631.8 M161.0 633.2 L155.7 633.0 M164.7 643.4 L160.9 640.2 L157.0 639.8 L154.2 637.8 M156.5 648.5 L153.5 645.4 L150.8 644.4 L147.7 644.1 M152.0 650.8 L149.0 650.5 L149.1 648.1 L147.3 648.9 M149.2 652.9 L146.5 651.0 L144.1 651.7 L143.4 649.6 M143.7 669.9 L141.2 668.7 L139.9 668.5 L138.5 669.2 M142.9 674.1 L139.8 672.3 L138.1 671.3 L135.8 671.5 M140.8 679.2 L137.9 678.2 L136.4 677.6 L135.2 676.5 M137.9 683.8 L135.0 683.5 L134.3 681.5 L132.4 682.7 M135.5 687.6 L132.3 687.5 L131.3 685.8 L130.4 684.2 M133.5 690.8 L131.2 688.7 L129.4 689.2 L128.8 686.9 M132.8 695.5 L129.7 694.8 L127.9 695.3 L126.3 694.7 M133.2 699.0 L130.0 698.2 L128.2 697.9 L126.3 698.4 M133.7 703.4 L130.5 704.6 L128.8 702.9 L127.1 702.5 M133.7 713.1 L130.5 712.6 L128.5 713.8 L127.2 711.7 M131.9 717.8 L128.5 718.3 L127.0 717.3 L125.5 716.3 M130.4 721.5 L127.9 720.0 L126.0 721.3 L124.5 721.5 M129.6 726.1 L127.2 724.0 L125.9 723.0 L124.2 722.4 M129.0 729.3 L127.8 725.3 L124.5 724.6 L124.2 721.9 M125.8 731.8 L123.6 728.5 L123.6 726.2 L121.9 724.4 M120.1 732.4 L121.6 727.8 L121.1 724.5 L122.0 721.3 M117.4 730.8 L118.5 726.1 L118.6 722.5 L122.2 720.3 M118.6 722.5 L117.6 719.0 M110.7 724.7 L110.1 721.6 L108.4 720.4 L108.8 718.6 M108.3 722.4 L107.9 719.0 L107.2 717.4 L105.0 716.2 M99.3 721.3 L101.7 719.8 L101.7 718.8 L101.1 717.7 M95.3 718.4 L98.7 717.3 L98.9 714.5 L100.2 713.1 M93.3 716.9 L96.4 715.9 L96.9 713.9 L97.9 712.6 M87.3 708.4 L90.4 707.3 L91.7 705.6 L94.0 706.5 M84.1 702.0 L86.0 699.4 L87.2 698.8 L88.9 699.6 M83.1 699.6 L85.7 697.6 L87.4 697.5 L88.6 696.3 M81.8 696.3 L85.5 695.8 L87.5 694.4 L89.7 693.9 M78.6 688.0 L82.3 687.2 L84.4 686.5 L87.2 688.9 M76.9 683.1 L80.9 682.2 L83.2 680.6 L85.4 678.6 M75.9 680.1 L79.2 680.0 L81.0 680.3 L82.6 682.3 M75.2 677.6 L78.8 678.3 L81.0 678.3 L83.1 678.6 M74.2 673.0 L77.9 672.8 L80.2 671.1 L82.2 672.6 M73.7 670.6 L78.8 670.0 L82.3 670.1 L86.1 666.9 M82.3 670.1 L85.0 668.2 M70.9 659.6 L77.1 660.1 L81.5 659.0 L85.8 656.5 M81.5 659.0 L83.9 653.6 M70.0 656.5 L75.6 654.6 L79.7 653.0 L84.0 653.0 M79.7 653.0 L83.5 655.6 M65.6 640.0 L72.8 641.7 L78.6 642.7 L84.6 642.0 M78.6 642.7 L81.4 645.5 M65.7 637.5 L73.3 638.1 L79.9 635.0 L86.0 635.4 M79.9 635.0 L83.6 640.6 M66.0 633.2 L73.5 635.9 L80.2 635.4 L86.1 638.5 M80.2 635.4 L82.6 632.6 M66.3 628.8 L72.7 630.3 L78.0 629.5 L82.7 631.4 M78.0 629.5 L79.2 632.8 M66.7 624.9 L73.3 625.1 L78.1 623.2 L83.4 625.4 M78.1 623.2 L80.7 621.0 M67.6 619.7 L74.2 618.5 L79.6 619.6 L84.6 618.2 M68.4 614.5 L75.4 614.2 L80.8 614.3 L86.3 614.0 M73.8 607.6 L77.8 608.4 L80.0 610.2 L82.9 609.2 M77.3 605.3 L80.9 605.7 L83.2 605.3 L85.3 605.7 M80.4 603.7 L83.5 604.2 L85.1 604.5 L86.2 606.7 M84.1 601.5 L86.6 602.6 L87.7 603.3 L89.0 603.3 M76.2 599.0 L81.0 599.0 L84.3 598.2 L87.6 595.6 M84.3 598.2 L87.1 595.1 M71.2 595.0 L77.6 594.8 L82.5 593.8 L87.2 590.5 M82.5 593.8 L85.9 589.2 M67.8 590.4 L73.6 592.1 L77.8 590.3 L82.1 591.2 M75.6 575.4 L79.2 574.0 L82.0 576.2 L84.3 576.3 M73.3 572.4 L76.1 568.9 L77.9 566.6 L79.8 564.4 M69.1 568.4 L72.2 564.3 L75.1 562.1 L77.0 559.0 M75.1 562.1 L80.6 562.8 M69.9 563.8 L74.4 563.2 L75.4 559.6 L79.3 561.0 M72.3 559.1 L75.4 559.6 L76.9 560.0 L77.9 556.9 M73.5 558.2 L75.9 558.3 L76.8 558.4 L77.5 557.6" fill="none" stroke="#56636a" stroke-width="1.6" stroke-linecap="round" stroke-linejoin="round"/>
<path d="M72.3 554.3 L74.9 552.0 L76.5 552.6 L77.8 551.7 M70.8 549.2 L73.9 549.3 L75.1 547.5 L76.8 548.2 M70.3 546.3 L72.5 544.7 L73.8 546.7 L74.7 545.6 M69.8 542.5 L72.3 543.1 L73.0 541.5 L73.6 539.8 M69.0 536.5 L71.3 535.0 L72.4 535.4 L73.5 536.2 M68.8 533.5 L71.3 534.0 L72.1 532.4 L73.0 532.2 M68.7 529.0 L71.4 529.0 L72.6 529.3 L73.7 528.9 M68.5 524.2 L71.1 524.6 L72.0 522.8 L73.1 523.2 M68.9 520.5 L71.4 518.7 L72.9 521.1 L74.0 519.7 M42.0 492.3 L45.2 493.2 L46.8 491.0 L48.5 490.0 M40.1 487.0 L42.2 489.0 L44.1 488.3 L45.5 488.5 M40.6 480.7 L45.8 482.4 L48.3 485.4 L50.5 488.8 M69.1 452.5 L69.5 455.2 L69.0 456.8 L69.2 458.0 M67.0 447.8 L66.8 451.8 L67.7 453.9 L68.6 456.0 M67.4 444.3 L69.0 448.5 L70.2 451.3 L72.3 453.7 M70.0 441.6 L74.2 442.5 L77.0 442.6 L79.6 444.4 M73.3 439.9 L76.7 441.8 L79.5 441.3 L81.2 443.5 M78.3 437.2 L80.4 439.1 L80.2 440.8 L82.5 440.8 M81.3 435.7 L81.2 439.2 L80.4 441.2 L82.3 442.7 M83.6 434.6 L83.9 437.8 L85.5 439.3 L86.4 440.9 M85.6 431.7 L86.9 434.6 L87.5 436.1 L87.2 437.7 M87.4 429.0 L88.8 433.3 L88.0 436.4 L87.6 439.5 M96.6 426.4 L97.1 431.9 L97.1 436.0 L98.9 440.1 M101.1 424.8 L101.1 430.1 L99.5 433.9 L100.4 437.7 M99.5 433.9 L96.7 436.3 M103.7 422.9 L106.4 426.4 L108.2 428.6 L109.8 431.0 M107.7 420.6 L110.3 426.2 L113.5 429.7 L115.2 434.1 M113.5 429.7 L112.7 435.1 M111.1 419.2 L113.6 423.5 L113.9 427.0 L117.3 429.1 M113.9 427.0 L113.3 431.0 M116.7 416.9 L115.9 422.8 L114.9 427.2 L114.9 431.6 M121.1 413.6 L119.8 421.0 L120.5 426.7 L121.8 432.4 M128.7 409.9 L127.1 418.5 L127.5 425.6 L123.2 432.5 M127.5 425.6 L123.8 428.7 M133.0 408.6 L130.9 416.7 L130.1 423.6 L128.2 430.3 M130.1 423.6 L127.2 424.7 M141.7 409.3 L138.5 415.6 L137.0 421.3 L136.2 427.3 M149.3 413.4 L148.0 419.5 L147.7 424.3 L147.2 429.0 M147.7 424.3 L151.4 428.1 M153.3 417.0 L151.8 423.3 L150.6 428.2 L150.1 433.2 M150.6 428.2 L143.9 430.1 M152.9 421.5 L150.7 426.3 L151.2 430.2 L150.5 433.9 M151.2 430.2 L152.7 434.8 M150.5 424.2 L148.8 428.4 L147.8 431.3 L147.4 434.2 M147.9 426.8 L148.7 431.3 L147.3 434.2 L147.1 437.2 M148.0 428.0 L148.5 432.3 L148.1 435.0 L146.0 437.5 M151.0 427.2 L151.3 431.6 L149.5 433.9 L150.1 436.9 M154.8 426.3 L150.1 430.3 L148.3 434.0 L147.0 438.0 M160.4 424.9 L155.6 428.9 L154.4 433.7 L150.9 436.8 M168.7 424.8 L162.7 430.6 L160.5 437.2 L155.6 441.8 M160.5 437.2 L156.0 438.7 M170.1 421.9 L166.6 427.3 L164.3 431.8 L162.2 436.4 M164.3 431.8 L157.7 432.8 M172.5 420.0 L166.6 425.2 L163.6 430.6 L158.6 434.4 M176.7 420.7 L170.3 427.6 L164.7 433.1 L159.6 439.2 M178.1 424.9 L169.9 431.6 L160.4 434.9 L153.4 440.7 M160.4 434.9 L154.1 435.1 M178.1 427.8 L173.8 434.8 L168.7 438.7 L165.3 444.5 M168.7 438.7 L162.0 438.2 M176.6 436.1 L171.5 441.7 L167.5 446.4 L161.4 449.0 M176.2 440.4 L171.9 442.8 L171.4 446.9 L167.9 448.0 M171.4 446.9 L171.3 450.0 M176.8 444.6 L173.1 447.4 L172.4 451.0 L170.7 453.7 M176.1 450.3 L172.6 452.1 L169.4 451.4 L168.4 454.6 M177.6 454.7 L174.0 456.3 L171.2 456.0 L168.1 455.1 M180.9 458.5 L176.0 458.8 L173.2 460.3 L170.4 462.0 M173.2 460.3 L171.3 466.3 M182.2 461.0 L178.8 461.7 L177.6 463.6 L176.4 465.7 M184.2 465.3 L179.9 463.8 L177.4 465.8 L174.7 464.8 M186.3 468.8 L181.9 470.5 L179.1 472.1 L176.0 471.5 M191.7 478.4 L186.2 478.9 L182.3 480.4 L178.3 481.3 M182.3 480.4 L178.5 476.9 M194.4 483.7 L188.6 483.8 L184.1 481.2 L179.9 483.4 M184.1 481.2 L182.6 484.2 M196.4 487.8 L189.2 491.8 L185.8 496.9 L180.9 500.8 M185.8 496.9 L187.5 500.8 M197.6 490.1 L192.5 496.0 L188.9 501.1 L184.7 505.6 M188.9 501.1 L190.2 505.9 M202.7 497.4 L197.9 501.6 L194.4 504.9 L189.3 505.8 M194.4 504.9 L193.4 510.7 M205.8 514.5 L200.6 514.8 L197.0 514.8 L193.2 517.9 M205.3 529.2 L199.4 525.3 L196.6 520.3 L193.6 515.3 M205.2 532.2 L200.2 525.3 L194.3 521.5 L188.5 517.5 M205.8 538.1 L200.0 529.3 L195.5 521.5 L190.6 514.0 M206.4 539.5 L198.0 542.4 L191.0 544.6 L184.9 548.4 M207.6 543.5 L197.4 546.4 L189.3 550.1 L180.7 552.8 M210.1 550.0 L201.9 552.9 L195.2 555.8 L188.6 558.5 M213.7 552.2 L207.1 554.3 L201.9 554.6 L196.8 555.8 M201.9 554.6 L198.7 557.1 M215.8 557.6 L205.0 558.8 L195.5 562.0 L186.2 562.4 M217.9 562.2 L205.4 565.5 L194.8 569.8 L184.1 573.7 M194.8 569.8 L190.7 568.4 M214.3 565.0 L206.3 569.2 L199.1 571.0 L192.4 574.4 M199.1 571.0 L193.9 567.2 M208.9 566.5 L200.3 567.5 L193.9 570.7 L186.3 569.5 M193.9 570.7 L187.3 568.4 M203.6 565.1 L197.0 566.6 L191.7 567.6 L186.1 567.3 M191.7 567.6 L186.2 563.5 M199.7 567.6 L195.1 570.7 L191.8 572.6 L188.6 574.9 M191.8 572.6 L189.5 576.3 M198.3 570.1 L194.4 573.0 L191.1 572.0 L188.6 574.1 M200.4 574.7 L194.8 577.7 L190.0 576.4 L185.8 578.8 M202.8 575.3 L197.2 578.3 L192.6 577.8 L188.5 580.7 M192.6 577.8 L190.8 582.7 M212.5 572.3 L205.2 574.2 L199.8 577.9 L194.0 578.9 M214.0 578.6 L205.0 579.0 L197.5 579.2 L189.6 577.7 M212.8 581.1 L205.0 582.1 L198.5 581.3 L192.4 583.4 M198.5 581.3 L195.0 577.3 M210.9 585.2 L202.9 583.7 L196.4 584.1 L190.0 585.4 M209.4 588.2 L202.2 588.2 L196.6 586.7 L191.0 585.3 M208.1 591.1 L199.6 590.5 L193.1 588.2 L186.2 587.7 M193.1 588.2 L188.7 593.1 M204.6 596.0 L198.9 594.4 L194.3 594.0 L191.0 590.7 M194.3 594.0 L190.8 596.0 M201.5 599.9 L196.2 597.0 L192.5 594.1 L188.6 591.6 M192.5 594.1 L187.7 595.9 M186.8 611.0 L185.1 607.3 L182.5 606.1 L180.4 604.5 M184.8 611.3 L181.4 609.2 L178.8 609.1 L177.0 607.1 M178.9 616.6 L175.8 614.9 L174.5 612.9 L172.9 611.7 M176.3 621.0 L172.5 619.2 L169.6 618.7 L167.5 617.0 M176.3 628.5 L171.4 626.8 L168.9 624.3 L166.1 622.0 M168.9 624.3 L163.1 626.5 M171.7 635.4 L166.0 634.7 L163.0 632.5 L158.8 632.3 M167.9 640.2 L164.3 635.7 L161.0 633.2 L157.0 631.8 M161.0 633.2 L155.7 633.0 M164.7 643.4 L160.9 640.2 L157.0 639.8 L154.2 637.8 M156.5 648.5 L153.5 645.4 L150.8 644.4 L147.7 644.1 M152.0 650.8 L149.0 650.5 L149.1 648.1 L147.3 648.9 M149.2 652.9 L146.5 651.0 L144.1 651.7 L143.4 649.6 M143.7 669.9 L141.2 668.7 L139.9 668.5 L138.5 669.2 M142.9 674.1 L139.8 672.3 L138.1 671.3 L135.8 671.5 M140.8 679.2 L137.9 678.2 L136.4 677.6 L135.2 676.5 M137.9 683.8 L135.0 683.5 L134.3 681.5 L132.4 682.7 M135.5 687.6 L132.3 687.5 L131.3 685.8 L130.4 684.2 M133.5 690.8 L131.2 688.7 L129.4 689.2 L128.8 686.9 M132.8 695.5 L129.7 694.8 L127.9 695.3 L126.3 694.7 M133.2 699.0 L130.0 698.2 L128.2 697.9 L126.3 698.4 M133.7 703.4 L130.5 704.6 L128.8 702.9 L127.1 702.5 M133.7 713.1 L130.5 712.6 L128.5 713.8 L127.2 711.7 M131.9 717.8 L128.5 718.3 L127.0 717.3 L125.5 716.3 M130.4 721.5 L127.9 720.0 L126.0 721.3 L124.5 721.5 M129.6 726.1 L127.2 724.0 L125.9 723.0 L124.2 722.4 M129.0 729.3 L127.8 725.3 L124.5 724.6 L124.2 721.9 M125.8 731.8 L123.6 728.5 L123.6 726.2 L121.9 724.4 M120.1 732.4 L121.6 727.8 L121.1 724.5 L122.0 721.3 M117.4 730.8 L118.5 726.1 L118.6 722.5 L122.2 720.3 M118.6 722.5 L117.6 719.0 M110.7 724.7 L110.1 721.6 L108.4 720.4 L108.8 718.6 M108.3 722.4 L107.9 719.0 L107.2 717.4 L105.0 716.2 M99.3 721.3 L101.7 719.8 L101.7 718.8 L101.1 717.7 M95.3 718.4 L98.7 717.3 L98.9 714.5 L100.2 713.1 M93.3 716.9 L96.4 715.9 L96.9 713.9 L97.9 712.6 M87.3 708.4 L90.4 707.3 L91.7 705.6 L94.0 706.5 M84.1 702.0 L86.0 699.4 L87.2 698.8 L88.9 699.6 M83.1 699.6 L85.7 697.6 L87.4 697.5 L88.6 696.3 M81.8 696.3 L85.5 695.8 L87.5 694.4 L89.7 693.9 M78.6 688.0 L82.3 687.2 L84.4 686.5 L87.2 688.9 M76.9 683.1 L80.9 682.2 L83.2 680.6 L85.4 678.6 M75.9 680.1 L79.2 680.0 L81.0 680.3 L82.6 682.3 M75.2 677.6 L78.8 678.3 L81.0 678.3 L83.1 678.6 M74.2 673.0 L77.9 672.8 L80.2 671.1 L82.2 672.6 M73.7 670.6 L78.8 670.0 L82.3 670.1 L86.1 666.9 M82.3 670.1 L85.0 668.2 M70.9 659.6 L77.1 660.1 L81.5 659.0 L85.8 656.5 M81.5 659.0 L83.9 653.6 M70.0 656.5 L75.6 654.6 L79.7 653.0 L84.0 653.0 M79.7 653.0 L83.5 655.6 M65.6 640.0 L72.8 641.7 L78.6 642.7 L84.6 642.0 M78.6 642.7 L81.4 645.5 M65.7 637.5 L73.3 638.1 L79.9 635.0 L86.0 635.4 M79.9 635.0 L83.6 640.6 M66.0 633.2 L73.5 635.9 L80.2 635.4 L86.1 638.5 M80.2 635.4 L82.6 632.6 M66.3 628.8 L72.7 630.3 L78.0 629.5 L82.7 631.4 M78.0 629.5 L79.2 632.8 M66.7 624.9 L73.3 625.1 L78.1 623.2 L83.4 625.4 M78.1 623.2 L80.7 621.0 M67.6 619.7 L74.2 618.5 L79.6 619.6 L84.6 618.2 M68.4 614.5 L75.4 614.2 L80.8 614.3 L86.3 614.0 M73.8 607.6 L77.8 608.4 L80.0 610.2 L82.9 609.2 M77.3 605.3 L80.9 605.7 L83.2 605.3 L85.3 605.7 M80.4 603.7 L83.5 604.2 L85.1 604.5 L86.2 606.7 M84.1 601.5 L86.6 602.6 L87.7 603.3 L89.0 603.3 M76.2 599.0 L81.0 599.0 L84.3 598.2 L87.6 595.6 M84.3 598.2 L87.1 595.1 M71.2 595.0 L77.6 594.8 L82.5 593.8 L87.2 590.5 M82.5 593.8 L85.9 589.2 M67.8 590.4 L73.6 592.1 L77.8 590.3 L82.1 591.2 M75.6 575.4 L79.2 574.0 L82.0 576.2 L84.3 576.3 M73.3 572.4 L76.1 568.9 L77.9 566.6 L79.8 564.4 M69.1 568.4 L72.2 564.3 L75.1 562.1 L77.0 559.0 M75.1 562.1 L80.6 562.8 M69.9 563.8 L74.4 563.2 L75.4 559.6 L79.3 561.0 M72.3 559.1 L75.4 559.6 L76.9 560.0 L77.9 556.9 M73.5 558.2 L75.9 558.3 L76.8 558.4 L77.5 557.6" fill="none" stroke="#66a3cf" stroke-width="1.1" stroke-linecap="round" stroke-linejoin="round"/>
</g>
</g>
<path d="M80.0 558.0 L77.0 540.0 L75.0 524.0 L74.0 514.0 L66.0 502.0 L56.0 497.0 L49.0 492.0 L56.0 482.0 L50.0 472.0 L46.0 467.0 L60.0 464.0 L70.0 458.0 L82.0 454.0 L83.0 444.0 L96.0 442.0 L108.0 442.0 L118.0 435.0 L128.0 434.0 L136.0 439.0 L148.0 440.0 L156.0 446.0 L166.0 456.0 L170.0 466.0 L171.0 480.0 L172.0 492.0 L176.0 502.0 L184.0 508.0 L188.0 514.0 L180.0 522.0 L172.0 530.0 L170.0 540.0 L176.0 550.0 L180.0 556.0 L178.0 562.0 L182.0 574.0 L184.0 586.0 L180.0 594.0 L172.0 600.0 L168.0 610.0 L162.0 620.0 L156.0 630.0 L150.0 638.0 L144.0 648.0 L138.0 658.0 L136.0 668.0 L130.0 680.0 L126.0 690.0 L124.0 701.0 L124.0 711.0 L122.0 719.0 L119.0 715.0 L114.0 709.0 L108.0 713.0 L102.0 715.0 L96.0 707.0 L91.0 695.0 L88.0 681.0 L89.0 667.0 L87.0 651.0 L89.0 638.0 L91.0 630.0 L89.0 614.0 L92.0 602.0 L91.0 580.0 L88.0 564.0 Z" fill="#fefcfe" stroke="#fbf9fd" stroke-width="1.2" stroke-linejoin="round" filter="url(#roughice)"/>
</g>
</defs>

<rect width="820" height="793" fill="#fff"/>
<rect x="140" y="270" width="625.6" height="15" fill="#fdf9e0"/><rect x="29.8" y="291.5" width="75.4" height="15" fill="#fdf9e0"/>
<text x="32" y="23.8" textLength="167.2" lengthAdjust="spacingAndGlyphs" font-family="'Liberation Sans', sans-serif" font-size="29.5" font-weight="bold" fill="#0f3449" >Geophysical</text><text x="206.6" y="23.8" textLength="121.0" lengthAdjust="spacingAndGlyphs" font-family="'Liberation Sans', sans-serif" font-size="29.5" font-weight="bold" fill="#0f3449" >Research</text><text x="335" y="23.8" textLength="98.8" lengthAdjust="spacingAndGlyphs" font-family="'Liberation Sans', sans-serif" font-size="29.5" font-weight="bold" fill="#0f3449" >Letters</text><text x="31.8" y="54.8" textLength="137.4" lengthAdjust="spacingAndGlyphs" font-family="'Liberation Serif', serif" font-size="27" font-weight="bold" fill="#17457f" stroke="#17457f" stroke-width="0.4">Greenland</text><text x="178.6" y="54.8" textLength="39.4" lengthAdjust="spacingAndGlyphs" font-family="'Liberation Serif', serif" font-size="27" font-weight="bold" fill="#17457f" stroke="#17457f" stroke-width="0.4">Ice</text><text x="227" y="54.8" textLength="69.2" lengthAdjust="spacingAndGlyphs" font-family="'Liberation Serif', serif" font-size="27" font-weight="bold" fill="#17457f" stroke="#17457f" stroke-width="0.4">Sheet</text><text x="305.6" y="54.8" textLength="64.6" lengthAdjust="spacingAndGlyphs" font-family="'Liberation Serif', serif" font-size="27" font-weight="bold" fill="#17457f" stroke="#17457f" stroke-width="0.4">Mass</text><text x="379.4" y="54.8" textLength="112.2" lengthAdjust="spacingAndGlyphs" font-family="'Liberation Serif', serif" font-size="27" font-weight="bold" fill="#17457f" stroke="#17457f" stroke-width="0.4">Balance</text><text x="500.4" y="54.8" textLength="150.6" lengthAdjust="spacingAndGlyphs" font-family="'Liberation Serif', serif" font-size="27" font-weight="bold" fill="#17457f" stroke="#17457f" stroke-width="0.4">(1992–2020)</text><text x="660.6" y="54.8" textLength="70.0" lengthAdjust="spacingAndGlyphs" font-family="'Liberation Serif', serif" font-size="27" font-weight="bold" fill="#17457f" stroke="#17457f" stroke-width="0.4">From</text><text x="31.8" y="89.8" textLength="140.8" lengthAdjust="spacingAndGlyphs" font-family="'Liberation Serif', serif" font-size="27" font-weight="bold" fill="#17457f" stroke="#17457f" stroke-width="0.4">Calibrated</text><text x="180.6" y="89.8" textLength="81.0" lengthAdjust="spacingAndGlyphs" font-family="'Liberation Serif', serif" font-size="27" font-weight="bold" fill="#17457f" stroke="#17457f" stroke-width="0.4">Radar</text><text x="267.2" y="89.8" textLength="132.2" lengthAdjust="spacingAndGlyphs" font-family="'Liberation Serif', serif" font-size="27" font-weight="bold" fill="#17457f" stroke="#17457f" stroke-width="0.4">Altimetry</text><text x="30.8" y="125.9" textLength="179.6" lengthAdjust="spacingAndGlyphs" font-family="'Liberation Serif', serif" font-size="16.2" font-weight="bold" fill="#111" stroke="#111" stroke-width="0.25">Sebastian B. Simonsen</text><text x="212" y="119.0" textLength="5.0" lengthAdjust="spacingAndGlyphs" font-family="'Liberation Serif', serif" font-size="10" font-weight="bold" fill="#111" stroke="#111" stroke-width="0.25">1</text><text x="238.4" y="125.9" textLength="4.2" lengthAdjust="spacingAndGlyphs" font-family="'Liberation Serif', serif" font-size="16.2" font-weight="bold" fill="#111" stroke="#111" stroke-width="0.25">,</text><text x="245.8" y="125.9" textLength="167.2" lengthAdjust="spacingAndGlyphs" font-family="'Liberation Serif', serif" font-size="16.2" font-weight="bold" fill="#111" stroke="#111" stroke-width="0.25">Valentina R. Barletta</text><text x="415.2" y="119.0" textLength="5.2" lengthAdjust="spacingAndGlyphs" font-family="'Liberation Serif', serif" font-size="10" font-weight="bold" fill="#111" stroke="#111" stroke-width="0.25">1</text><text x="442.2" y="125.9" textLength="4.2" lengthAdjust="spacingAndGlyphs" font-family="'Liberation Serif', serif" font-size="16.2" font-weight="bold" fill="#111" stroke="#111" stroke-width="0.25">,</text><text x="450.8" y="125.9" textLength="143.6" lengthAdjust="spacingAndGlyphs" font-family="'Liberation Serif', serif" font-size="16.2" font-weight="bold" fill="#111" stroke="#111" stroke-width="0.25">William T. Colgan</text><text x="595.6" y="119.0" textLength="6.4" lengthAdjust="spacingAndGlyphs" font-family="'Liberation Serif', serif" font-size="10" font-weight="bold" fill="#111" stroke="#111" stroke-width="0.25">2</text><text x="622.4" y="125.9" textLength="4.2" lengthAdjust="spacingAndGlyphs" font-family="'Liberation Serif', serif" font-size="16.2" font-weight="bold" fill="#111" stroke="#111" stroke-width="0.25">,</text><text x="630.6" y="125.9" textLength="29.4" lengthAdjust="spacingAndGlyphs" font-family="'Liberation Serif', serif" font-size="16.2" font-weight="bold" fill="#111" stroke="#111" stroke-width="0.25">and</text><text x="30.8" y="147.4" textLength="210.0" lengthAdjust="spacingAndGlyphs" font-family="'Liberation Serif', serif" font-size="16.2" font-weight="bold" fill="#111" stroke="#111" stroke-width="0.25">Louise Sandberg Sørensen</text><text x="242" y="140.5" textLength="5.0" lengthAdjust="spacingAndGlyphs" font-family="'Liberation Serif', serif" font-size="10" font-weight="bold" fill="#111" stroke="#111" stroke-width="0.25">1</text><text x="30.8" y="172.0" textLength="90.0" lengthAdjust="spacingAndGlyphs" font-family="'Liberation Serif', serif" font-size="21" font-weight="bold" fill="#17457f" stroke="#1c4e8a" stroke-width="0.3">Abstract</text><text x="131" y="172.0" textLength="622.8" lengthAdjust="spacingAndGlyphs" font-family="'Liberation Serif', serif" font-size="16.4" font-weight="normal" fill="#1a1a1a" stroke="#1a1a1a" stroke-width="0.22">We present the first 1992–2020 record of Greenland Ice Sheet (GrIS) mass balance derived</text><text x="30.5" y="194.1" textLength="700.5" lengthAdjust="spacingAndGlyphs" font-family="'Liberation Serif', serif" font-size="16.4" font-weight="normal" fill="#1a1a1a" stroke="#1a1a1a" stroke-width="0.22">from multisatellite Ku-band altimetry. We employ an empirical approach as an alternative detailed to</text><text x="30.5" y="216.2" textLength="733.3" lengthAdjust="spacingAndGlyphs" font-family="'Liberation Serif', serif" font-size="16.4" font-weight="normal" fill="#1a1a1a" stroke="#1a1a1a" stroke-width="0.22">radar-propagation modeling, and instead convert elevation changes observed by radar altimetry into mass</text><text x="30.5" y="238.3" textLength="727.3" lengthAdjust="spacingAndGlyphs" font-family="'Liberation Serif', serif" font-size="16.4" font-weight="normal" fill="#1a1a1a" stroke="#1a1a1a" stroke-width="0.22">changes using spatiotemporal calibration fields. This calibration field is derived from a machine learning</text><text x="30.5" y="260.4" textLength="715.9" lengthAdjust="spacingAndGlyphs" font-family="'Liberation Serif', serif" font-size="16.4" font-weight="normal" fill="#1a1a1a" stroke="#1a1a1a" stroke-width="0.22">approach that optimizes the prediction of a previously published mass balance field as a function of ice</text><text x="30.5" y="282.5" textLength="733.3" lengthAdjust="spacingAndGlyphs" font-family="'Liberation Serif', serif" font-size="16.4" font-weight="normal" fill="#1a1a1a" stroke="#1a1a1a" stroke-width="0.22">sheet variables. Our mass balance record shows a GrIS contribution of 12.1 ± 2.3 mm sea-level equivalent</text><text x="30.5" y="304.6" textLength="712.5" lengthAdjust="spacingAndGlyphs" font-family="'Liberation Serif', serif" font-size="16.4" font-weight="normal" fill="#1a1a1a" stroke="#1a1a1a" stroke-width="0.22">since 1992, with more than 80% of this contribution occurring after 2003. Our record also suggests that</text><text x="30.5" y="326.7" textLength="734.9" lengthAdjust="spacingAndGlyphs" font-family="'Liberation Serif', serif" font-size="16.4" font-weight="normal" fill="#1a1a1a" stroke="#1a1a1a" stroke-width="0.22">the 2017 hydrological year is the first year in the 21st century which, within uncertainties, the GrIS was in</text><text x="30.5" y="348.8" textLength="729.9" lengthAdjust="spacingAndGlyphs" font-family="'Liberation Serif', serif" font-size="16.4" font-weight="normal" fill="#1a1a1a" stroke="#1a1a1a" stroke-width="0.22">balance. Overall, the 28-year radar-derived mass balance record we present highlights the potential of the</text><text x="30.5" y="370.9" textLength="700.5" lengthAdjust="spacingAndGlyphs" font-family="'Liberation Serif', serif" font-size="16.4" font-weight="normal" fill="#1a1a1a" stroke="#1a1a1a" stroke-width="0.22">method to provide operational mass balance estimates derived from multisatellite Ku-band altimetry.</text><text x="12.2" y="393.8" textLength="23.4" lengthAdjust="spacingAndGlyphs" font-family="'Liberation Sans', sans-serif" font-size="20" font-weight="bold" fill="#000" >(a)</text><text x="268" y="393.8" textLength="23.8" lengthAdjust="spacingAndGlyphs" font-family="'Liberation Sans', sans-serif" font-size="20" font-weight="bold" fill="#000" >(b)</text><text x="517.2" y="393.8" textLength="22.6" lengthAdjust="spacingAndGlyphs" font-family="'Liberation Sans', sans-serif" font-size="20" font-weight="bold" fill="#000" >(c)</text><text x="2.4" y="756.8" textLength="46.4" lengthAdjust="spacingAndGlyphs" font-family="'Liberation Serif', serif" font-size="12.4" font-weight="bold" fill="#111" >Figure 3.</text><text x="56.2" y="756.8" textLength="147.6" lengthAdjust="spacingAndGlyphs" font-family="'Liberation Serif', serif" font-size="12.4" font-weight="normal" fill="#1a1a1a" >Satellite radar-altimetry mass</text><text x="207" y="756.8" textLength="196.0" lengthAdjust="spacingAndGlyphs" font-family="'Liberation Serif', serif" font-size="12.4" font-weight="normal" fill="#1a1a1a" >balance. (a) the early period 1992–1999,</text><text x="408.8" y="756.8" textLength="198.0" lengthAdjust="spacingAndGlyphs" font-family="'Liberation Serif', serif" font-size="12.4" font-weight="normal" fill="#1a1a1a" >with only limited mass loss at the outlet</text><text x="610" y="756.8" textLength="178.6" lengthAdjust="spacingAndGlyphs" font-family="'Liberation Serif', serif" font-size="12.4" font-weight="normal" fill="#1a1a1a" >glaciers. (b) The 2000s, whereas the</text><text x="2.4" y="771.8" textLength="208.2" lengthAdjust="spacingAndGlyphs" font-family="'Liberation Serif', serif" font-size="12.4" font-weight="normal" fill="#1a1a1a" >insert (d) showing the spatial distribution</text><text x="213.8" y="771.8" textLength="161.2" lengthAdjust="spacingAndGlyphs" font-family="'Liberation Serif', serif" font-size="12.4" font-weight="normal" fill="#1a1a1a" >of the ICESat-VMB (2003–2009).</text><text x="380.5" y="771.8" textLength="200.8" lengthAdjust="spacingAndGlyphs" font-family="'Liberation Serif', serif" font-size="12.4" font-weight="normal" fill="#1a1a1a" >Compared to the 1990s the accelerating</text><text x="586.3" y="771.8" textLength="201.1" lengthAdjust="spacingAndGlyphs" font-family="'Liberation Serif', serif" font-size="12.4" font-weight="normal" fill="#1a1a1a" >mass loss of the GrIS is clearly visible. (c)</text><text x="2.4" y="786.8" textLength="203.2" lengthAdjust="spacingAndGlyphs" font-family="'Liberation Serif', serif" font-size="12.4" font-weight="normal" fill="#1a1a1a" >The later period 2010–2020, which show</text><text x="208.8" y="786.8" textLength="153.2" lengthAdjust="spacingAndGlyphs" font-family="'Liberation Serif', serif" font-size="12.4" font-weight="normal" fill="#1a1a1a" >a continuation in the mass loss,</text><text x="368" y="786.8" textLength="211.5" lengthAdjust="spacingAndGlyphs" font-family="'Liberation Serif', serif" font-size="12.4" font-weight="normal" fill="#1a1a1a" >with the outlet glaciers in the Baffin-area</text><text x="585" y="786.8" textLength="185.6" lengthAdjust="spacingAndGlyphs" font-family="'Liberation Serif', serif" font-size="12.4" font-weight="normal" fill="#1a1a1a" >showing the speed-up in the mass loss.</text>
<g><circle cx="229.6" cy="118.9" r="8.3" fill="#a6ce39"/><text x="224.9" y="122.7" font-family="'Liberation Sans', sans-serif" font-size="9.8" font-weight="normal" fill="#fff" stroke="#fff" stroke-width="0.25" textLength="10" lengthAdjust="spacingAndGlyphs">iD</text></g><g><circle cx="433.6" cy="118.9" r="8.3" fill="#a6ce39"/><text x="428.90000000000003" y="122.7" font-family="'Liberation Sans', sans-serif" font-size="9.8" font-weight="normal" fill="#fff" stroke="#fff" stroke-width="0.25" textLength="10" lengthAdjust="spacingAndGlyphs">iD</text></g><g><circle cx="614" cy="118.9" r="8.3" fill="#a6ce39"/><text x="609.3" y="122.7" font-family="'Liberation Sans', sans-serif" font-size="9.8" font-weight="normal" fill="#fff" stroke="#fff" stroke-width="0.25" textLength="10" lengthAdjust="spacingAndGlyphs">iD</text></g><g><circle cx="260.5" cy="140.3" r="8.3" fill="#a6ce39"/><text x="255.8" y="144.10000000000002" font-family="'Liberation Sans', sans-serif" font-size="9.8" font-weight="normal" fill="#fff" stroke="#fff" stroke-width="0.25" textLength="10" lengthAdjust="spacingAndGlyphs">iD</text></g>
<g clip-path="url(#clipa)"><rect x="4.4" y="403.0" width="250.8" height="340.0" fill="url(#ocean)"/><g transform="translate(0.0 0)"><use href="#oceanfx"/><path d="M76.4 328.0 L-429.6 328.0 M77.7 338.2 L-411.0 469.1 M81.6 347.6 L-356.6 600.6 M87.9 355.7 L-269.9 713.5 M96.0 362.0 L-157.0 800.2 M105.4 365.9 L-25.5 854.6 M115.6 367.2 L115.6 873.2 M125.8 365.9 L256.7 854.6 M135.2 362.0 L388.2 800.2 M143.3 355.7 L501.1 713.5 M149.6 347.6 L587.8 600.6 M153.5 338.2 L642.2 469.1 M154.8 328.0 L660.8 328.0 M37.1 328.0 L37.2 332.1 L37.5 336.2 L38.1 340.3 L38.8 344.3 L39.8 348.3 L40.9 352.3 L42.3 356.1 L43.9 359.9 L45.6 363.6 L47.6 367.3 L49.8 370.8 L52.1 374.1 L54.6 377.4 L57.3 380.5 L60.1 383.5 L63.1 386.3 L66.2 389.0 L69.5 391.5 L72.8 393.8 L76.3 396.0 L80.0 398.0 L83.7 399.7 L87.5 401.3 L91.3 402.7 L95.3 403.8 L99.3 404.8 L103.3 405.5 L107.4 406.1 L111.5 406.4 L115.6 406.5 L119.7 406.4 L123.8 406.1 L127.9 405.5 L131.9 404.8 L135.9 403.8 L139.9 402.7 L143.7 401.3 L147.5 399.7 L151.2 398.0 L154.9 396.0 L158.4 393.8 L161.7 391.5 L165.0 389.0 L168.1 386.3 L171.1 383.5 L173.9 380.5 L176.6 377.4 L179.1 374.1 L181.4 370.8 L183.6 367.3 L185.6 363.6 L187.3 359.9 L188.9 356.1 L190.3 352.3 L191.4 348.3 L192.4 344.3 L193.1 340.3 L193.7 336.2 L194.0 332.1 L194.1 328.0 M-2.3 328.0 L-2.1 334.2 L-1.6 340.3 L-0.8 346.4 L0.3 352.5 L1.7 358.5 L3.5 364.4 L5.5 370.2 L7.9 376.0 L10.6 381.5 L13.5 386.9 L16.7 392.2 L20.2 397.3 L24.0 402.2 L28.0 406.9 L32.2 411.4 L36.7 415.6 L41.4 419.6 L46.3 423.4 L51.4 426.9 L56.7 430.1 L62.1 433.0 L67.6 435.7 L73.4 438.1 L79.2 440.1 L85.1 441.9 L91.1 443.3 L97.2 444.4 L103.3 445.2 L109.4 445.7 L115.6 445.9 L121.8 445.7 L127.9 445.2 L134.0 444.4 L140.1 443.3 L146.1 441.9 L152.0 440.1 L157.8 438.1 L163.6 435.7 L169.1 433.0 L174.5 430.1 L179.8 426.9 L184.9 423.4 L189.8 419.6 L194.5 415.6 L199.0 411.4 L203.2 406.9 L207.2 402.2 L211.0 397.3 L214.5 392.2 L217.7 386.9 L220.6 381.5 L223.3 376.0 L225.7 370.2 L227.7 364.4 L229.5 358.5 L230.9 352.5 L232.0 346.4 L232.8 340.3 L233.3 334.2 L233.5 328.0 M-41.8 328.0 L-41.6 336.2 L-41.0 344.5 L-39.9 352.6 L-38.4 360.7 L-36.5 368.8 L-34.1 376.7 L-31.4 384.4 L-28.2 392.0 L-24.7 399.5 L-20.8 406.7 L-16.4 413.8 L-11.8 420.5 L-6.8 427.1 L-1.4 433.4 L4.3 439.3 L10.2 445.0 L16.5 450.4 L23.1 455.4 L29.8 460.0 L36.9 464.4 L44.1 468.3 L51.6 471.8 L59.2 475.0 L66.9 477.7 L74.8 480.1 L82.9 482.0 L91.0 483.5 L99.1 484.6 L107.4 485.2 L115.6 485.4 L123.8 485.2 L132.1 484.6 L140.2 483.5 L148.3 482.0 L156.4 480.1 L164.3 477.7 L172.0 475.0 L179.6 471.8 L187.1 468.3 L194.3 464.4 L201.4 460.0 L208.1 455.4 L214.7 450.4 L221.0 445.0 L226.9 439.3 L232.6 433.4 L238.0 427.1 L243.0 420.5 L247.6 413.8 L252.0 406.7 L255.9 399.5 L259.4 392.0 L262.6 384.4 L265.3 376.7 L267.7 368.8 L269.6 360.7 L271.1 352.6 L272.2 344.5 L272.8 336.2 L273.0 328.0 M-81.6 328.0 L-81.3 338.3 L-80.5 348.6 L-79.2 358.9 L-77.3 369.0 L-74.9 379.0 L-72.0 388.9 L-68.5 398.7 L-64.6 408.2 L-60.1 417.5 L-55.2 426.6 L-49.8 435.4 L-44.0 443.9 L-37.7 452.1 L-31.0 460.0 L-23.9 467.5 L-16.4 474.6 L-8.5 481.3 L-0.3 487.6 L8.2 493.4 L17.0 498.8 L26.1 503.7 L35.4 508.2 L44.9 512.1 L54.7 515.6 L64.6 518.5 L74.6 520.9 L84.7 522.8 L95.0 524.1 L105.3 524.9 L115.6 525.2 L125.9 524.9 L136.2 524.1 L146.5 522.8 L156.6 520.9 L166.6 518.5 L176.5 515.6 L186.3 512.1 L195.8 508.2 L205.1 503.7 L214.2 498.8 L223.0 493.4 L231.5 487.6 L239.7 481.3 L247.6 474.6 L255.1 467.5 L262.2 460.0 L268.9 452.1 L275.2 443.9 L281.0 435.4 L286.4 426.6 L291.3 417.5 L295.8 408.2 L299.7 398.7 L303.2 388.9 L306.1 379.0 L308.5 369.0 L310.4 358.9 L311.7 348.6 L312.5 338.3 L312.8 328.0 M-121.7 328.0 L-121.3 340.4 L-120.4 352.8 L-118.7 365.1 L-116.5 377.3 L-113.6 389.4 L-110.0 401.3 L-105.9 413.0 L-101.1 424.5 L-95.8 435.7 L-89.9 446.6 L-83.4 457.2 L-76.3 467.5 L-68.8 477.3 L-60.7 486.8 L-52.2 495.8 L-43.2 504.3 L-33.7 512.4 L-23.9 519.9 L-13.6 527.0 L-3.0 533.5 L7.9 539.4 L19.1 544.7 L30.6 549.5 L42.3 553.6 L54.2 557.2 L66.3 560.1 L78.5 562.3 L90.8 564.0 L103.2 564.9 L115.6 565.3 L128.0 564.9 L140.4 564.0 L152.7 562.3 L164.9 560.1 L177.0 557.2 L188.9 553.6 L200.6 549.5 L212.1 544.7 L223.3 539.4 L234.2 533.5 L244.8 527.0 L255.1 519.9 L264.9 512.4 L274.4 504.3 L283.4 495.8 L291.9 486.8 L300.0 477.3 L307.5 467.5 L314.6 457.2 L321.1 446.6 L327.0 435.7 L332.3 424.5 L337.1 413.0 L341.2 401.3 L344.8 389.4 L347.7 377.3 L349.9 365.1 L351.6 352.8 L352.5 340.4 L352.9 328.0 M-162.0 328.0 L-161.7 342.5 L-160.5 357.0 L-158.6 371.4 L-156.0 385.7 L-152.6 399.9 L-148.4 413.8 L-143.6 427.5 L-138.0 440.9 L-131.8 454.0 L-124.8 466.8 L-117.2 479.2 L-109.0 491.2 L-100.2 502.7 L-90.7 513.8 L-80.7 524.3 L-70.2 534.3 L-59.1 543.8 L-47.6 552.6 L-35.6 560.8 L-23.2 568.4 L-10.4 575.4 L2.7 581.6 L16.1 587.2 L29.8 592.0 L43.7 596.2 L57.9 599.6 L72.2 602.2 L86.6 604.1 L101.1 605.3 L115.6 605.6 L130.1 605.3 L144.6 604.1 L159.0 602.2 L173.3 599.6 L187.5 596.2 L201.4 592.0 L215.1 587.2 L228.5 581.6 L241.6 575.4 L254.4 568.4 L266.8 560.8 L278.8 552.6 L290.3 543.8 L301.4 534.3 L311.9 524.3 L321.9 513.8 L331.4 502.7 L340.2 491.2 L348.4 479.2 L356.0 466.8 L363.0 454.0 L369.2 440.9 L374.8 427.5 L379.6 413.8 L383.8 399.9 L387.2 385.7 L389.8 371.4 L391.7 357.0 L392.9 342.5 L393.2 328.0 M-202.8 328.0 L-202.4 344.7 L-201.1 361.3 L-198.9 377.8 L-195.9 394.2 L-192.0 410.4 L-187.2 426.4 L-181.7 442.1 L-175.3 457.5 L-168.1 472.6 L-160.2 487.2 L-151.4 501.4 L-142.0 515.2 L-131.9 528.4 L-121.0 541.1 L-109.5 553.1 L-97.5 564.6 L-84.8 575.5 L-71.6 585.6 L-57.8 595.0 L-43.6 603.8 L-29.0 611.7 L-13.9 618.9 L1.5 625.3 L17.2 630.8 L33.2 635.6 L49.4 639.5 L65.8 642.5 L82.3 644.7 L98.9 646.0 L115.6 646.4 L132.3 646.0 L148.9 644.7 L165.4 642.5 L181.8 639.5 L198.0 635.6 L214.0 630.8 L229.7 625.3 L245.1 618.9 L260.2 611.7 L274.8 603.8 L289.0 595.0 L302.8 585.6 L316.0 575.5 L328.7 564.6 L340.7 553.1 L352.2 541.1 L363.1 528.4 L373.2 515.2 L382.6 501.4 L391.4 487.2 L399.3 472.6 L406.5 457.5 L412.9 442.1 L418.4 426.4 L423.2 410.4 L427.1 394.2 L430.1 377.8 L432.3 361.3 L433.6 344.7 L434.0 328.0 M-244.0 328.0 L-243.5 346.8 L-242.1 365.6 L-239.6 384.3 L-236.2 402.8 L-231.8 421.1 L-226.4 439.1 L-220.2 456.9 L-212.9 474.3 L-204.8 491.3 L-195.9 507.8 L-186.0 523.9 L-175.4 539.4 L-163.9 554.3 L-151.7 568.6 L-138.7 582.3 L-125.0 595.3 L-110.7 607.5 L-95.8 619.0 L-80.3 629.6 L-64.2 639.5 L-47.7 648.4 L-30.7 656.5 L-13.3 663.8 L4.5 670.0 L22.5 675.4 L40.8 679.8 L59.3 683.2 L78.0 685.7 L96.8 687.1 L115.6 687.6 L134.4 687.1 L153.2 685.7 L171.9 683.2 L190.4 679.8 L208.7 675.4 L226.7 670.0 L244.5 663.8 L261.9 656.5 L278.9 648.4 L295.4 639.5 L311.5 629.6 L327.0 619.0 L341.9 607.5 L356.2 595.3 L369.9 582.3 L382.9 568.6 L395.1 554.3 L406.6 539.4 L417.2 523.9 L427.1 507.8 L436.0 491.3 L444.1 474.3 L451.4 456.9 L457.6 439.1 L463.0 421.1 L467.4 402.8 L470.8 384.3 L473.3 365.6 L474.7 346.8 L475.2 328.0 M-285.8 328.0 L-285.2 349.0 L-283.6 370.0 L-280.8 390.8 L-277.0 411.5 L-272.1 431.9 L-266.1 452.0 L-259.1 471.8 L-251.1 491.3 L-242.0 510.2 L-232.0 528.7 L-221.0 546.6 L-209.1 563.9 L-196.3 580.6 L-182.7 596.6 L-168.2 611.8 L-153.0 626.3 L-137.0 639.9 L-120.3 652.7 L-103.0 664.6 L-85.1 675.6 L-66.6 685.6 L-47.7 694.7 L-28.2 702.7 L-8.4 709.7 L11.7 715.7 L32.1 720.6 L52.8 724.4 L73.6 727.2 L94.6 728.8 L115.6 729.4 L136.6 728.8 L157.6 727.2 L178.4 724.4 L199.1 720.6 L219.5 715.7 L239.6 709.7 L259.4 702.7 L278.9 694.7 L297.8 685.6 L316.3 675.6 L334.2 664.6 L351.5 652.7 L368.2 639.9 L384.2 626.3 L399.4 611.8 L413.9 596.6 L427.5 580.6 L440.3 563.9 L452.2 546.6 L463.2 528.7 L473.2 510.2 L482.3 491.3 L490.3 471.8 L497.3 452.0 L503.3 431.9 L508.2 411.5 L512.0 390.8 L514.8 370.0 L516.4 349.0 L517.0 328.0 M-328.1 328.0 L-327.5 351.2 L-325.7 374.4 L-322.7 397.4 L-318.4 420.3 L-313.0 442.8 L-306.4 465.1 L-298.7 487.0 L-289.8 508.5 L-279.8 529.4 L-268.7 549.9 L-256.5 569.7 L-243.4 588.8 L-229.2 607.2 L-214.2 624.9 L-198.2 641.8 L-181.3 657.8 L-163.6 672.8 L-145.2 687.0 L-126.1 700.1 L-106.3 712.3 L-85.8 723.4 L-64.9 733.4 L-43.4 742.3 L-21.5 750.0 L0.8 756.6 L23.3 762.0 L46.2 766.3 L69.2 769.3 L92.4 771.1 L115.6 771.7 L138.8 771.1 L162.0 769.3 L185.0 766.3 L207.9 762.0 L230.4 756.6 L252.7 750.0 L274.6 742.3 L296.1 733.4 L317.0 723.4 L337.5 712.3 L357.3 700.1 L376.4 687.0 L394.8 672.8 L412.5 657.8 L429.4 641.8 L445.4 624.9 L460.4 607.2 L474.6 588.8 L487.7 569.7 L499.9 549.9 L511.0 529.4 L521.0 508.5 L529.9 487.0 L537.6 465.1 L544.2 442.8 L549.6 420.3 L553.9 397.4 L556.9 374.4 L558.7 351.2 L559.3 328.0 M-371.1 328.0 L-370.5 353.5 L-368.5 378.9 L-365.1 404.1 L-360.5 429.2 L-354.5 454.0 L-347.3 478.4 L-338.8 502.4 L-329.0 526.0 L-318.1 549.0 L-305.9 571.4 L-292.6 593.1 L-278.2 614.1 L-262.7 634.3 L-246.1 653.7 L-228.6 672.2 L-210.1 689.7 L-190.7 706.3 L-170.5 721.8 L-149.5 736.2 L-127.8 749.5 L-105.4 761.7 L-82.4 772.6 L-58.8 782.4 L-34.8 790.9 L-10.4 798.1 L14.4 804.1 L39.5 808.7 L64.7 812.1 L90.1 814.1 L115.6 814.7 L141.1 814.1 L166.5 812.1 L191.7 808.7 L216.8 804.1 L241.6 798.1 L266.0 790.9 L290.0 782.4 L313.6 772.6 L336.6 761.7 L359.0 749.5 L380.7 736.2 L401.7 721.8 L421.9 706.3 L441.3 689.7 L459.8 672.2 L477.3 653.7 L493.9 634.3 L509.4 614.1 L523.8 593.1 L537.1 571.4 L549.3 549.0 L560.2 526.0 L570.0 502.4 L578.5 478.4 L585.7 454.0 L591.7 429.2 L596.3 404.1 L599.7 378.9 L601.7 353.5 L602.3 328.0 M-414.9 328.0 L-414.1 355.8 L-412.0 383.4 L-408.3 411.0 L-403.3 438.3 L-396.8 465.3 L-388.9 491.9 L-379.6 518.1 L-369.0 543.8 L-357.1 568.8 L-343.8 593.2 L-329.3 616.9 L-313.6 639.8 L-296.7 661.8 L-278.6 683.0 L-259.5 703.1 L-239.4 722.2 L-218.2 740.3 L-196.2 757.2 L-173.3 772.9 L-149.6 787.4 L-125.2 800.7 L-100.2 812.6 L-74.5 823.2 L-48.3 832.5 L-21.7 840.4 L5.3 846.9 L32.6 851.9 L60.2 855.6 L87.8 857.7 L115.6 858.5 L143.4 857.7 L171.0 855.6 L198.6 851.9 L225.9 846.9 L252.9 840.4 L279.5 832.5 L305.7 823.2 L331.4 812.6 L356.4 800.7 L380.8 787.4 L404.5 772.9 L427.4 757.2 L449.4 740.3 L470.6 722.2 L490.7 703.1 L509.8 683.0 L527.9 661.8 L544.8 639.8 L560.5 616.9 L575.0 593.2 L588.3 568.8 L600.2 543.8 L610.8 518.1 L620.1 491.9 L628.0 465.3 L634.5 438.3 L639.5 411.0 L643.2 383.4 L645.3 355.8 L646.1 328.0" fill="none" stroke="#c2bcae" stroke-width="0.6" opacity="0.45"/><use href="#lands"/><use href="#gl"/><g clip-path="url(#iceclip)"><path d="M176.0 550.0 L180.0 556.0 L178.0 562.0 L182.0 574.0 L184.0 586.0 L180.0 594.0 L172.0 600.0 L168.0 610.0 L162.0 620.0 L156.0 630.0 L150.0 638.0 L144.0 648.0 L138.0 658.0 L136.0 668.0 L130.0 680.0 L126.0 690.0 L124.0 701.0 L124.0 711.0 L122.0 719.0 L119.0 715.0 L114.0 709.0 L108.0 713.0 L102.0 715.0 L96.0 707.0 L91.0 695.0 L88.0 681.0 L89.0 667.0 L87.0 651.0 L89.0 638.0 L91.0 630.0 L89.0 614.0 L92.0 602.0 L91.0 580.0 L88.0 564.0 L80.0 558.0 L77.0 540.0 L75.0 524.0 L74.0 514.0 L66.0 502.0 L56.0 497.0" fill="none" stroke="#dcd7f9" stroke-width="18" opacity="0.65" filter="url(#blur6)"/><g filter="url(#blur6)"><ellipse cx="125" cy="620" rx="26" ry="20" fill="#fdeeee" opacity="0.7"/><ellipse cx="100" cy="470" rx="28" ry="20" fill="#fdf0f0" opacity="0.7"/><ellipse cx="130" cy="540" rx="30" ry="30" fill="#fef4f4" opacity="0.6"/></g><g filter="url(#blur3)"><ellipse cx="62" cy="499" rx="10" ry="5" fill="#cdc8f5" opacity="0.8"/><ellipse cx="79" cy="545" rx="6" ry="22" fill="#d9d4f8" opacity="0.8"/><ellipse cx="90" cy="640" rx="6" ry="40" fill="#dcd6f8" opacity="0.75"/><ellipse cx="96" cy="700" rx="8" ry="14" fill="#d4d0f7" opacity="0.75"/><ellipse cx="128" cy="692" rx="8" ry="22" fill="#d6d0f7" opacity="0.75"/><ellipse cx="165" cy="615" rx="10" ry="16" fill="#dcd8f8" opacity="0.6"/><ellipse cx="174" cy="540" rx="6" ry="14" fill="#e0dcf8" opacity="0.6"/><ellipse cx="168" cy="470" rx="6" ry="16" fill="#e4e0fa" opacity="0.6"/><ellipse cx="110" cy="715" rx="10" ry="6" fill="#d0ccf6" opacity="0.7"/><ellipse cx="138" cy="657" rx="6" ry="10" fill="#6a6af0" opacity="0.75"/><ellipse cx="140" cy="650" rx="8" ry="10" fill="#aaa8f4" opacity="0.6"/></g><g filter="url(#blur1)"><ellipse cx="137" cy="661" rx="3" ry="5" fill="#2222e2" opacity="1"/><ellipse cx="95" cy="603.6" rx="4" ry="2.2" fill="#5a5af0" opacity="0.9"/><ellipse cx="92" cy="568" rx="3" ry="2.5" fill="#7070f0" opacity="0.8"/><ellipse cx="89" cy="670" rx="3" ry="3" fill="#8080f0" opacity="0.7"/><ellipse cx="171" cy="602" rx="3" ry="2.5" fill="#6a6af0" opacity="0.8"/><ellipse cx="151" cy="640" rx="4" ry="3.5" fill="#9a9af5" opacity="0.7"/><ellipse cx="160" cy="628" rx="4" ry="3" fill="#a4a2f4" opacity="0.6"/></g><path d="M76.4 328.0 L-429.6 328.0 M77.7 338.2 L-411.0 469.1 M81.6 347.6 L-356.6 600.6 M87.9 355.7 L-269.9 713.5 M96.0 362.0 L-157.0 800.2 M105.4 365.9 L-25.5 854.6 M115.6 367.2 L115.6 873.2 M125.8 365.9 L256.7 854.6 M135.2 362.0 L388.2 800.2 M143.3 355.7 L501.1 713.5 M149.6 347.6 L587.8 600.6 M153.5 338.2 L642.2 469.1 M154.8 328.0 L660.8 328.0 M37.1 328.0 L37.2 332.1 L37.5 336.2 L38.1 340.3 L38.8 344.3 L39.8 348.3 L40.9 352.3 L42.3 356.1 L43.9 359.9 L45.6 363.6 L47.6 367.3 L49.8 370.8 L52.1 374.1 L54.6 377.4 L57.3 380.5 L60.1 383.5 L63.1 386.3 L66.2 389.0 L69.5 391.5 L72.8 393.8 L76.3 396.0 L80.0 398.0 L83.7 399.7 L87.5 401.3 L91.3 402.7 L95.3 403.8 L99.3 404.8 L103.3 405.5 L107.4 406.1 L111.5 406.4 L115.6 406.5 L119.7 406.4 L123.8 406.1 L127.9 405.5 L131.9 404.8 L135.9 403.8 L139.9 402.7 L143.7 401.3 L147.5 399.7 L151.2 398.0 L154.9 396.0 L158.4 393.8 L161.7 391.5 L165.0 389.0 L168.1 386.3 L171.1 383.5 L173.9 380.5 L176.6 377.4 L179.1 374.1 L181.4 370.8 L183.6 367.3 L185.6 363.6 L187.3 359.9 L188.9 356.1 L190.3 352.3 L191.4 348.3 L192.4 344.3 L193.1 340.3 L193.7 336.2 L194.0 332.1 L194.1 328.0 M-2.3 328.0 L-2.1 334.2 L-1.6 340.3 L-0.8 346.4 L0.3 352.5 L1.7 358.5 L3.5 364.4 L5.5 370.2 L7.9 376.0 L10.6 381.5 L13.5 386.9 L16.7 392.2 L20.2 397.3 L24.0 402.2 L28.0 406.9 L32.2 411.4 L36.7 415.6 L41.4 419.6 L46.3 423.4 L51.4 426.9 L56.7 430.1 L62.1 433.0 L67.6 435.7 L73.4 438.1 L79.2 440.1 L85.1 441.9 L91.1 443.3 L97.2 444.4 L103.3 445.2 L109.4 445.7 L115.6 445.9 L121.8 445.7 L127.9 445.2 L134.0 444.4 L140.1 443.3 L146.1 441.9 L152.0 440.1 L157.8 438.1 L163.6 435.7 L169.1 433.0 L174.5 430.1 L179.8 426.9 L184.9 423.4 L189.8 419.6 L194.5 415.6 L199.0 411.4 L203.2 406.9 L207.2 402.2 L211.0 397.3 L214.5 392.2 L217.7 386.9 L220.6 381.5 L223.3 376.0 L225.7 370.2 L227.7 364.4 L229.5 358.5 L230.9 352.5 L232.0 346.4 L232.8 340.3 L233.3 334.2 L233.5 328.0 M-41.8 328.0 L-41.6 336.2 L-41.0 344.5 L-39.9 352.6 L-38.4 360.7 L-36.5 368.8 L-34.1 376.7 L-31.4 384.4 L-28.2 392.0 L-24.7 399.5 L-20.8 406.7 L-16.4 413.8 L-11.8 420.5 L-6.8 427.1 L-1.4 433.4 L4.3 439.3 L10.2 445.0 L16.5 450.4 L23.1 455.4 L29.8 460.0 L36.9 464.4 L44.1 468.3 L51.6 471.8 L59.2 475.0 L66.9 477.7 L74.8 480.1 L82.9 482.0 L91.0 483.5 L99.1 484.6 L107.4 485.2 L115.6 485.4 L123.8 485.2 L132.1 484.6 L140.2 483.5 L148.3 482.0 L156.4 480.1 L164.3 477.7 L172.0 475.0 L179.6 471.8 L187.1 468.3 L194.3 464.4 L201.4 460.0 L208.1 455.4 L214.7 450.4 L221.0 445.0 L226.9 439.3 L232.6 433.4 L238.0 427.1 L243.0 420.5 L247.6 413.8 L252.0 406.7 L255.9 399.5 L259.4 392.0 L262.6 384.4 L265.3 376.7 L267.7 368.8 L269.6 360.7 L271.1 352.6 L272.2 344.5 L272.8 336.2 L273.0 328.0 M-81.6 328.0 L-81.3 338.3 L-80.5 348.6 L-79.2 358.9 L-77.3 369.0 L-74.9 379.0 L-72.0 388.9 L-68.5 398.7 L-64.6 408.2 L-60.1 417.5 L-55.2 426.6 L-49.8 435.4 L-44.0 443.9 L-37.7 452.1 L-31.0 460.0 L-23.9 467.5 L-16.4 474.6 L-8.5 481.3 L-0.3 487.6 L8.2 493.4 L17.0 498.8 L26.1 503.7 L35.4 508.2 L44.9 512.1 L54.7 515.6 L64.6 518.5 L74.6 520.9 L84.7 522.8 L95.0 524.1 L105.3 524.9 L115.6 525.2 L125.9 524.9 L136.2 524.1 L146.5 522.8 L156.6 520.9 L166.6 518.5 L176.5 515.6 L186.3 512.1 L195.8 508.2 L205.1 503.7 L214.2 498.8 L223.0 493.4 L231.5 487.6 L239.7 481.3 L247.6 474.6 L255.1 467.5 L262.2 460.0 L268.9 452.1 L275.2 443.9 L281.0 435.4 L286.4 426.6 L291.3 417.5 L295.8 408.2 L299.7 398.7 L303.2 388.9 L306.1 379.0 L308.5 369.0 L310.4 358.9 L311.7 348.6 L312.5 338.3 L312.8 328.0 M-121.7 328.0 L-121.3 340.4 L-120.4 352.8 L-118.7 365.1 L-116.5 377.3 L-113.6 389.4 L-110.0 401.3 L-105.9 413.0 L-101.1 424.5 L-95.8 435.7 L-89.9 446.6 L-83.4 457.2 L-76.3 467.5 L-68.8 477.3 L-60.7 486.8 L-52.2 495.8 L-43.2 504.3 L-33.7 512.4 L-23.9 519.9 L-13.6 527.0 L-3.0 533.5 L7.9 539.4 L19.1 544.7 L30.6 549.5 L42.3 553.6 L54.2 557.2 L66.3 560.1 L78.5 562.3 L90.8 564.0 L103.2 564.9 L115.6 565.3 L128.0 564.9 L140.4 564.0 L152.7 562.3 L164.9 560.1 L177.0 557.2 L188.9 553.6 L200.6 549.5 L212.1 544.7 L223.3 539.4 L234.2 533.5 L244.8 527.0 L255.1 519.9 L264.9 512.4 L274.4 504.3 L283.4 495.8 L291.9 486.8 L300.0 477.3 L307.5 467.5 L314.6 457.2 L321.1 446.6 L327.0 435.7 L332.3 424.5 L337.1 413.0 L341.2 401.3 L344.8 389.4 L347.7 377.3 L349.9 365.1 L351.6 352.8 L352.5 340.4 L352.9 328.0 M-162.0 328.0 L-161.7 342.5 L-160.5 357.0 L-158.6 371.4 L-156.0 385.7 L-152.6 399.9 L-148.4 413.8 L-143.6 427.5 L-138.0 440.9 L-131.8 454.0 L-124.8 466.8 L-117.2 479.2 L-109.0 491.2 L-100.2 502.7 L-90.7 513.8 L-80.7 524.3 L-70.2 534.3 L-59.1 543.8 L-47.6 552.6 L-35.6 560.8 L-23.2 568.4 L-10.4 575.4 L2.7 581.6 L16.1 587.2 L29.8 592.0 L43.7 596.2 L57.9 599.6 L72.2 602.2 L86.6 604.1 L101.1 605.3 L115.6 605.6 L130.1 605.3 L144.6 604.1 L159.0 602.2 L173.3 599.6 L187.5 596.2 L201.4 592.0 L215.1 587.2 L228.5 581.6 L241.6 575.4 L254.4 568.4 L266.8 560.8 L278.8 552.6 L290.3 543.8 L301.4 534.3 L311.9 524.3 L321.9 513.8 L331.4 502.7 L340.2 491.2 L348.4 479.2 L356.0 466.8 L363.0 454.0 L369.2 440.9 L374.8 427.5 L379.6 413.8 L383.8 399.9 L387.2 385.7 L389.8 371.4 L391.7 357.0 L392.9 342.5 L393.2 328.0 M-202.8 328.0 L-202.4 344.7 L-201.1 361.3 L-198.9 377.8 L-195.9 394.2 L-192.0 410.4 L-187.2 426.4 L-181.7 442.1 L-175.3 457.5 L-168.1 472.6 L-160.2 487.2 L-151.4 501.4 L-142.0 515.2 L-131.9 528.4 L-121.0 541.1 L-109.5 553.1 L-97.5 564.6 L-84.8 575.5 L-71.6 585.6 L-57.8 595.0 L-43.6 603.8 L-29.0 611.7 L-13.9 618.9 L1.5 625.3 L17.2 630.8 L33.2 635.6 L49.4 639.5 L65.8 642.5 L82.3 644.7 L98.9 646.0 L115.6 646.4 L132.3 646.0 L148.9 644.7 L165.4 642.5 L181.8 639.5 L198.0 635.6 L214.0 630.8 L229.7 625.3 L245.1 618.9 L260.2 611.7 L274.8 603.8 L289.0 595.0 L302.8 585.6 L316.0 575.5 L328.7 564.6 L340.7 553.1 L352.2 541.1 L363.1 528.4 L373.2 515.2 L382.6 501.4 L391.4 487.2 L399.3 472.6 L406.5 457.5 L412.9 442.1 L418.4 426.4 L423.2 410.4 L427.1 394.2 L430.1 377.8 L432.3 361.3 L433.6 344.7 L434.0 328.0 M-244.0 328.0 L-243.5 346.8 L-242.1 365.6 L-239.6 384.3 L-236.2 402.8 L-231.8 421.1 L-226.4 439.1 L-220.2 456.9 L-212.9 474.3 L-204.8 491.3 L-195.9 507.8 L-186.0 523.9 L-175.4 539.4 L-163.9 554.3 L-151.7 568.6 L-138.7 582.3 L-125.0 595.3 L-110.7 607.5 L-95.8 619.0 L-80.3 629.6 L-64.2 639.5 L-47.7 648.4 L-30.7 656.5 L-13.3 663.8 L4.5 670.0 L22.5 675.4 L40.8 679.8 L59.3 683.2 L78.0 685.7 L96.8 687.1 L115.6 687.6 L134.4 687.1 L153.2 685.7 L171.9 683.2 L190.4 679.8 L208.7 675.4 L226.7 670.0 L244.5 663.8 L261.9 656.5 L278.9 648.4 L295.4 639.5 L311.5 629.6 L327.0 619.0 L341.9 607.5 L356.2 595.3 L369.9 582.3 L382.9 568.6 L395.1 554.3 L406.6 539.4 L417.2 523.9 L427.1 507.8 L436.0 491.3 L444.1 474.3 L451.4 456.9 L457.6 439.1 L463.0 421.1 L467.4 402.8 L470.8 384.3 L473.3 365.6 L474.7 346.8 L475.2 328.0 M-285.8 328.0 L-285.2 349.0 L-283.6 370.0 L-280.8 390.8 L-277.0 411.5 L-272.1 431.9 L-266.1 452.0 L-259.1 471.8 L-251.1 491.3 L-242.0 510.2 L-232.0 528.7 L-221.0 546.6 L-209.1 563.9 L-196.3 580.6 L-182.7 596.6 L-168.2 611.8 L-153.0 626.3 L-137.0 639.9 L-120.3 652.7 L-103.0 664.6 L-85.1 675.6 L-66.6 685.6 L-47.7 694.7 L-28.2 702.7 L-8.4 709.7 L11.7 715.7 L32.1 720.6 L52.8 724.4 L73.6 727.2 L94.6 728.8 L115.6 729.4 L136.6 728.8 L157.6 727.2 L178.4 724.4 L199.1 720.6 L219.5 715.7 L239.6 709.7 L259.4 702.7 L278.9 694.7 L297.8 685.6 L316.3 675.6 L334.2 664.6 L351.5 652.7 L368.2 639.9 L384.2 626.3 L399.4 611.8 L413.9 596.6 L427.5 580.6 L440.3 563.9 L452.2 546.6 L463.2 528.7 L473.2 510.2 L482.3 491.3 L490.3 471.8 L497.3 452.0 L503.3 431.9 L508.2 411.5 L512.0 390.8 L514.8 370.0 L516.4 349.0 L517.0 328.0 M-328.1 328.0 L-327.5 351.2 L-325.7 374.4 L-322.7 397.4 L-318.4 420.3 L-313.0 442.8 L-306.4 465.1 L-298.7 487.0 L-289.8 508.5 L-279.8 529.4 L-268.7 549.9 L-256.5 569.7 L-243.4 588.8 L-229.2 607.2 L-214.2 624.9 L-198.2 641.8 L-181.3 657.8 L-163.6 672.8 L-145.2 687.0 L-126.1 700.1 L-106.3 712.3 L-85.8 723.4 L-64.9 733.4 L-43.4 742.3 L-21.5 750.0 L0.8 756.6 L23.3 762.0 L46.2 766.3 L69.2 769.3 L92.4 771.1 L115.6 771.7 L138.8 771.1 L162.0 769.3 L185.0 766.3 L207.9 762.0 L230.4 756.6 L252.7 750.0 L274.6 742.3 L296.1 733.4 L317.0 723.4 L337.5 712.3 L357.3 700.1 L376.4 687.0 L394.8 672.8 L412.5 657.8 L429.4 641.8 L445.4 624.9 L460.4 607.2 L474.6 588.8 L487.7 569.7 L499.9 549.9 L511.0 529.4 L521.0 508.5 L529.9 487.0 L537.6 465.1 L544.2 442.8 L549.6 420.3 L553.9 397.4 L556.9 374.4 L558.7 351.2 L559.3 328.0 M-371.1 328.0 L-370.5 353.5 L-368.5 378.9 L-365.1 404.1 L-360.5 429.2 L-354.5 454.0 L-347.3 478.4 L-338.8 502.4 L-329.0 526.0 L-318.1 549.0 L-305.9 571.4 L-292.6 593.1 L-278.2 614.1 L-262.7 634.3 L-246.1 653.7 L-228.6 672.2 L-210.1 689.7 L-190.7 706.3 L-170.5 721.8 L-149.5 736.2 L-127.8 749.5 L-105.4 761.7 L-82.4 772.6 L-58.8 782.4 L-34.8 790.9 L-10.4 798.1 L14.4 804.1 L39.5 808.7 L64.7 812.1 L90.1 814.1 L115.6 814.7 L141.1 814.1 L166.5 812.1 L191.7 808.7 L216.8 804.1 L241.6 798.1 L266.0 790.9 L290.0 782.4 L313.6 772.6 L336.6 761.7 L359.0 749.5 L380.7 736.2 L401.7 721.8 L421.9 706.3 L441.3 689.7 L459.8 672.2 L477.3 653.7 L493.9 634.3 L509.4 614.1 L523.8 593.1 L537.1 571.4 L549.3 549.0 L560.2 526.0 L570.0 502.4 L578.5 478.4 L585.7 454.0 L591.7 429.2 L596.3 404.1 L599.7 378.9 L601.7 353.5 L602.3 328.0 M-414.9 328.0 L-414.1 355.8 L-412.0 383.4 L-408.3 411.0 L-403.3 438.3 L-396.8 465.3 L-388.9 491.9 L-379.6 518.1 L-369.0 543.8 L-357.1 568.8 L-343.8 593.2 L-329.3 616.9 L-313.6 639.8 L-296.7 661.8 L-278.6 683.0 L-259.5 703.1 L-239.4 722.2 L-218.2 740.3 L-196.2 757.2 L-173.3 772.9 L-149.6 787.4 L-125.2 800.7 L-100.2 812.6 L-74.5 823.2 L-48.3 832.5 L-21.7 840.4 L5.3 846.9 L32.6 851.9 L60.2 855.6 L87.8 857.7 L115.6 858.5 L143.4 857.7 L171.0 855.6 L198.6 851.9 L225.9 846.9 L252.9 840.4 L279.5 832.5 L305.7 823.2 L331.4 812.6 L356.4 800.7 L380.8 787.4 L404.5 772.9 L427.4 757.2 L449.4 740.3 L470.6 722.2 L490.7 703.1 L509.8 683.0 L527.9 661.8 L544.8 639.8 L560.5 616.9 L575.0 593.2 L588.3 568.8 L600.2 543.8 L610.8 518.1 L620.1 491.9 L628.0 465.3 L634.5 438.3 L639.5 411.0 L643.2 383.4 L645.3 355.8 L646.1 328.0" fill="none" stroke="#cfcfcf" stroke-width="0.6"/></g><g filter="url(#blur1)"><ellipse cx="170.5" cy="481" rx="3" ry="2.5" fill="#f5a6a6" opacity="0.8"/></g></g></g><rect x="4.4" y="403.0" width="250.8" height="340.0" fill="none" stroke="#8a8a86" stroke-width="0.9"/>
<g clip-path="url(#clipb)"><rect x="260.1" y="403.0" width="250.8" height="340.0" fill="url(#ocean)"/><g transform="translate(255.7 0)"><use href="#oceanfx"/><path d="M76.4 328.0 L-429.6 328.0 M77.7 338.2 L-411.0 469.1 M81.6 347.6 L-356.6 600.6 M87.9 355.7 L-269.9 713.5 M96.0 362.0 L-157.0 800.2 M105.4 365.9 L-25.5 854.6 M115.6 367.2 L115.6 873.2 M125.8 365.9 L256.7 854.6 M135.2 362.0 L388.2 800.2 M143.3 355.7 L501.1 713.5 M149.6 347.6 L587.8 600.6 M153.5 338.2 L642.2 469.1 M154.8 328.0 L660.8 328.0 M37.1 328.0 L37.2 332.1 L37.5 336.2 L38.1 340.3 L38.8 344.3 L39.8 348.3 L40.9 352.3 L42.3 356.1 L43.9 359.9 L45.6 363.6 L47.6 367.3 L49.8 370.8 L52.1 374.1 L54.6 377.4 L57.3 380.5 L60.1 383.5 L63.1 386.3 L66.2 389.0 L69.5 391.5 L72.8 393.8 L76.3 396.0 L80.0 398.0 L83.7 399.7 L87.5 401.3 L91.3 402.7 L95.3 403.8 L99.3 404.8 L103.3 405.5 L107.4 406.1 L111.5 406.4 L115.6 406.5 L119.7 406.4 L123.8 406.1 L127.9 405.5 L131.9 404.8 L135.9 403.8 L139.9 402.7 L143.7 401.3 L147.5 399.7 L151.2 398.0 L154.9 396.0 L158.4 393.8 L161.7 391.5 L165.0 389.0 L168.1 386.3 L171.1 383.5 L173.9 380.5 L176.6 377.4 L179.1 374.1 L181.4 370.8 L183.6 367.3 L185.6 363.6 L187.3 359.9 L188.9 356.1 L190.3 352.3 L191.4 348.3 L192.4 344.3 L193.1 340.3 L193.7 336.2 L194.0 332.1 L194.1 328.0 M-2.3 328.0 L-2.1 334.2 L-1.6 340.3 L-0.8 346.4 L0.3 352.5 L1.7 358.5 L3.5 364.4 L5.5 370.2 L7.9 376.0 L10.6 381.5 L13.5 386.9 L16.7 392.2 L20.2 397.3 L24.0 402.2 L28.0 406.9 L32.2 411.4 L36.7 415.6 L41.4 419.6 L46.3 423.4 L51.4 426.9 L56.7 430.1 L62.1 433.0 L67.6 435.7 L73.4 438.1 L79.2 440.1 L85.1 441.9 L91.1 443.3 L97.2 444.4 L103.3 445.2 L109.4 445.7 L115.6 445.9 L121.8 445.7 L127.9 445.2 L134.0 444.4 L140.1 443.3 L146.1 441.9 L152.0 440.1 L157.8 438.1 L163.6 435.7 L169.1 433.0 L174.5 430.1 L179.8 426.9 L184.9 423.4 L189.8 419.6 L194.5 415.6 L199.0 411.4 L203.2 406.9 L207.2 402.2 L211.0 397.3 L214.5 392.2 L217.7 386.9 L220.6 381.5 L223.3 376.0 L225.7 370.2 L227.7 364.4 L229.5 358.5 L230.9 352.5 L232.0 346.4 L232.8 340.3 L233.3 334.2 L233.5 328.0 M-41.8 328.0 L-41.6 336.2 L-41.0 344.5 L-39.9 352.6 L-38.4 360.7 L-36.5 368.8 L-34.1 376.7 L-31.4 384.4 L-28.2 392.0 L-24.7 399.5 L-20.8 406.7 L-16.4 413.8 L-11.8 420.5 L-6.8 427.1 L-1.4 433.4 L4.3 439.3 L10.2 445.0 L16.5 450.4 L23.1 455.4 L29.8 460.0 L36.9 464.4 L44.1 468.3 L51.6 471.8 L59.2 475.0 L66.9 477.7 L74.8 480.1 L82.9 482.0 L91.0 483.5 L99.1 484.6 L107.4 485.2 L115.6 485.4 L123.8 485.2 L132.1 484.6 L140.2 483.5 L148.3 482.0 L156.4 480.1 L164.3 477.7 L172.0 475.0 L179.6 471.8 L187.1 468.3 L194.3 464.4 L201.4 460.0 L208.1 455.4 L214.7 450.4 L221.0 445.0 L226.9 439.3 L232.6 433.4 L238.0 427.1 L243.0 420.5 L247.6 413.8 L252.0 406.7 L255.9 399.5 L259.4 392.0 L262.6 384.4 L265.3 376.7 L267.7 368.8 L269.6 360.7 L271.1 352.6 L272.2 344.5 L272.8 336.2 L273.0 328.0 M-81.6 328.0 L-81.3 338.3 L-80.5 348.6 L-79.2 358.9 L-77.3 369.0 L-74.9 379.0 L-72.0 388.9 L-68.5 398.7 L-64.6 408.2 L-60.1 417.5 L-55.2 426.6 L-49.8 435.4 L-44.0 443.9 L-37.7 452.1 L-31.0 460.0 L-23.9 467.5 L-16.4 474.6 L-8.5 481.3 L-0.3 487.6 L8.2 493.4 L17.0 498.8 L26.1 503.7 L35.4 508.2 L44.9 512.1 L54.7 515.6 L64.6 518.5 L74.6 520.9 L84.7 522.8 L95.0 524.1 L105.3 524.9 L115.6 525.2 L125.9 524.9 L136.2 524.1 L146.5 522.8 L156.6 520.9 L166.6 518.5 L176.5 515.6 L186.3 512.1 L195.8 508.2 L205.1 503.7 L214.2 498.8 L223.0 493.4 L231.5 487.6 L239.7 481.3 L247.6 474.6 L255.1 467.5 L262.2 460.0 L268.9 452.1 L275.2 443.9 L281.0 435.4 L286.4 426.6 L291.3 417.5 L295.8 408.2 L299.7 398.7 L303.2 388.9 L306.1 379.0 L308.5 369.0 L310.4 358.9 L311.7 348.6 L312.5 338.3 L312.8 328.0 M-121.7 328.0 L-121.3 340.4 L-120.4 352.8 L-118.7 365.1 L-116.5 377.3 L-113.6 389.4 L-110.0 401.3 L-105.9 413.0 L-101.1 424.5 L-95.8 435.7 L-89.9 446.6 L-83.4 457.2 L-76.3 467.5 L-68.8 477.3 L-60.7 486.8 L-52.2 495.8 L-43.2 504.3 L-33.7 512.4 L-23.9 519.9 L-13.6 527.0 L-3.0 533.5 L7.9 539.4 L19.1 544.7 L30.6 549.5 L42.3 553.6 L54.2 557.2 L66.3 560.1 L78.5 562.3 L90.8 564.0 L103.2 564.9 L115.6 565.3 L128.0 564.9 L140.4 564.0 L152.7 562.3 L164.9 560.1 L177.0 557.2 L188.9 553.6 L200.6 549.5 L212.1 544.7 L223.3 539.4 L234.2 533.5 L244.8 527.0 L255.1 519.9 L264.9 512.4 L274.4 504.3 L283.4 495.8 L291.9 486.8 L300.0 477.3 L307.5 467.5 L314.6 457.2 L321.1 446.6 L327.0 435.7 L332.3 424.5 L337.1 413.0 L341.2 401.3 L344.8 389.4 L347.7 377.3 L349.9 365.1 L351.6 352.8 L352.5 340.4 L352.9 328.0 M-162.0 328.0 L-161.7 342.5 L-160.5 357.0 L-158.6 371.4 L-156.0 385.7 L-152.6 399.9 L-148.4 413.8 L-143.6 427.5 L-138.0 440.9 L-131.8 454.0 L-124.8 466.8 L-117.2 479.2 L-109.0 491.2 L-100.2 502.7 L-90.7 513.8 L-80.7 524.3 L-70.2 534.3 L-59.1 543.8 L-47.6 552.6 L-35.6 560.8 L-23.2 568.4 L-10.4 575.4 L2.7 581.6 L16.1 587.2 L29.8 592.0 L43.7 596.2 L57.9 599.6 L72.2 602.2 L86.6 604.1 L101.1 605.3 L115.6 605.6 L130.1 605.3 L144.6 604.1 L159.0 602.2 L173.3 599.6 L187.5 596.2 L201.4 592.0 L215.1 587.2 L228.5 581.6 L241.6 575.4 L254.4 568.4 L266.8 560.8 L278.8 552.6 L290.3 543.8 L301.4 534.3 L311.9 524.3 L321.9 513.8 L331.4 502.7 L340.2 491.2 L348.4 479.2 L356.0 466.8 L363.0 454.0 L369.2 440.9 L374.8 427.5 L379.6 413.8 L383.8 399.9 L387.2 385.7 L389.8 371.4 L391.7 357.0 L392.9 342.5 L393.2 328.0 M-202.8 328.0 L-202.4 344.7 L-201.1 361.3 L-198.9 377.8 L-195.9 394.2 L-192.0 410.4 L-187.2 426.4 L-181.7 442.1 L-175.3 457.5 L-168.1 472.6 L-160.2 487.2 L-151.4 501.4 L-142.0 515.2 L-131.9 528.4 L-121.0 541.1 L-109.5 553.1 L-97.5 564.6 L-84.8 575.5 L-71.6 585.6 L-57.8 595.0 L-43.6 603.8 L-29.0 611.7 L-13.9 618.9 L1.5 625.3 L17.2 630.8 L33.2 635.6 L49.4 639.5 L65.8 642.5 L82.3 644.7 L98.9 646.0 L115.6 646.4 L132.3 646.0 L148.9 644.7 L165.4 642.5 L181.8 639.5 L198.0 635.6 L214.0 630.8 L229.7 625.3 L245.1 618.9 L260.2 611.7 L274.8 603.8 L289.0 595.0 L302.8 585.6 L316.0 575.5 L328.7 564.6 L340.7 553.1 L352.2 541.1 L363.1 528.4 L373.2 515.2 L382.6 501.4 L391.4 487.2 L399.3 472.6 L406.5 457.5 L412.9 442.1 L418.4 426.4 L423.2 410.4 L427.1 394.2 L430.1 377.8 L432.3 361.3 L433.6 344.7 L434.0 328.0 M-244.0 328.0 L-243.5 346.8 L-242.1 365.6 L-239.6 384.3 L-236.2 402.8 L-231.8 421.1 L-226.4 439.1 L-220.2 456.9 L-212.9 474.3 L-204.8 491.3 L-195.9 507.8 L-186.0 523.9 L-175.4 539.4 L-163.9 554.3 L-151.7 568.6 L-138.7 582.3 L-125.0 595.3 L-110.7 607.5 L-95.8 619.0 L-80.3 629.6 L-64.2 639.5 L-47.7 648.4 L-30.7 656.5 L-13.3 663.8 L4.5 670.0 L22.5 675.4 L40.8 679.8 L59.3 683.2 L78.0 685.7 L96.8 687.1 L115.6 687.6 L134.4 687.1 L153.2 685.7 L171.9 683.2 L190.4 679.8 L208.7 675.4 L226.7 670.0 L244.5 663.8 L261.9 656.5 L278.9 648.4 L295.4 639.5 L311.5 629.6 L327.0 619.0 L341.9 607.5 L356.2 595.3 L369.9 582.3 L382.9 568.6 L395.1 554.3 L406.6 539.4 L417.2 523.9 L427.1 507.8 L436.0 491.3 L444.1 474.3 L451.4 456.9 L457.6 439.1 L463.0 421.1 L467.4 402.8 L470.8 384.3 L473.3 365.6 L474.7 346.8 L475.2 328.0 M-285.8 328.0 L-285.2 349.0 L-283.6 370.0 L-280.8 390.8 L-277.0 411.5 L-272.1 431.9 L-266.1 452.0 L-259.1 471.8 L-251.1 491.3 L-242.0 510.2 L-232.0 528.7 L-221.0 546.6 L-209.1 563.9 L-196.3 580.6 L-182.7 596.6 L-168.2 611.8 L-153.0 626.3 L-137.0 639.9 L-120.3 652.7 L-103.0 664.6 L-85.1 675.6 L-66.6 685.6 L-47.7 694.7 L-28.2 702.7 L-8.4 709.7 L11.7 715.7 L32.1 720.6 L52.8 724.4 L73.6 727.2 L94.6 728.8 L115.6 729.4 L136.6 728.8 L157.6 727.2 L178.4 724.4 L199.1 720.6 L219.5 715.7 L239.6 709.7 L259.4 702.7 L278.9 694.7 L297.8 685.6 L316.3 675.6 L334.2 664.6 L351.5 652.7 L368.2 639.9 L384.2 626.3 L399.4 611.8 L413.9 596.6 L427.5 580.6 L440.3 563.9 L452.2 546.6 L463.2 528.7 L473.2 510.2 L482.3 491.3 L490.3 471.8 L497.3 452.0 L503.3 431.9 L508.2 411.5 L512.0 390.8 L514.8 370.0 L516.4 349.0 L517.0 328.0 M-328.1 328.0 L-327.5 351.2 L-325.7 374.4 L-322.7 397.4 L-318.4 420.3 L-313.0 442.8 L-306.4 465.1 L-298.7 487.0 L-289.8 508.5 L-279.8 529.4 L-268.7 549.9 L-256.5 569.7 L-243.4 588.8 L-229.2 607.2 L-214.2 624.9 L-198.2 641.8 L-181.3 657.8 L-163.6 672.8 L-145.2 687.0 L-126.1 700.1 L-106.3 712.3 L-85.8 723.4 L-64.9 733.4 L-43.4 742.3 L-21.5 750.0 L0.8 756.6 L23.3 762.0 L46.2 766.3 L69.2 769.3 L92.4 771.1 L115.6 771.7 L138.8 771.1 L162.0 769.3 L185.0 766.3 L207.9 762.0 L230.4 756.6 L252.7 750.0 L274.6 742.3 L296.1 733.4 L317.0 723.4 L337.5 712.3 L357.3 700.1 L376.4 687.0 L394.8 672.8 L412.5 657.8 L429.4 641.8 L445.4 624.9 L460.4 607.2 L474.6 588.8 L487.7 569.7 L499.9 549.9 L511.0 529.4 L521.0 508.5 L529.9 487.0 L537.6 465.1 L544.2 442.8 L549.6 420.3 L553.9 397.4 L556.9 374.4 L558.7 351.2 L559.3 328.0 M-371.1 328.0 L-370.5 353.5 L-368.5 378.9 L-365.1 404.1 L-360.5 429.2 L-354.5 454.0 L-347.3 478.4 L-338.8 502.4 L-329.0 526.0 L-318.1 549.0 L-305.9 571.4 L-292.6 593.1 L-278.2 614.1 L-262.7 634.3 L-246.1 653.7 L-228.6 672.2 L-210.1 689.7 L-190.7 706.3 L-170.5 721.8 L-149.5 736.2 L-127.8 749.5 L-105.4 761.7 L-82.4 772.6 L-58.8 782.4 L-34.8 790.9 L-10.4 798.1 L14.4 804.1 L39.5 808.7 L64.7 812.1 L90.1 814.1 L115.6 814.7 L141.1 814.1 L166.5 812.1 L191.7 808.7 L216.8 804.1 L241.6 798.1 L266.0 790.9 L290.0 782.4 L313.6 772.6 L336.6 761.7 L359.0 749.5 L380.7 736.2 L401.7 721.8 L421.9 706.3 L441.3 689.7 L459.8 672.2 L477.3 653.7 L493.9 634.3 L509.4 614.1 L523.8 593.1 L537.1 571.4 L549.3 549.0 L560.2 526.0 L570.0 502.4 L578.5 478.4 L585.7 454.0 L591.7 429.2 L596.3 404.1 L599.7 378.9 L601.7 353.5 L602.3 328.0 M-414.9 328.0 L-414.1 355.8 L-412.0 383.4 L-408.3 411.0 L-403.3 438.3 L-396.8 465.3 L-388.9 491.9 L-379.6 518.1 L-369.0 543.8 L-357.1 568.8 L-343.8 593.2 L-329.3 616.9 L-313.6 639.8 L-296.7 661.8 L-278.6 683.0 L-259.5 703.1 L-239.4 722.2 L-218.2 740.3 L-196.2 757.2 L-173.3 772.9 L-149.6 787.4 L-125.2 800.7 L-100.2 812.6 L-74.5 823.2 L-48.3 832.5 L-21.7 840.4 L5.3 846.9 L32.6 851.9 L60.2 855.6 L87.8 857.7 L115.6 858.5 L143.4 857.7 L171.0 855.6 L198.6 851.9 L225.9 846.9 L252.9 840.4 L279.5 832.5 L305.7 823.2 L331.4 812.6 L356.4 800.7 L380.8 787.4 L404.5 772.9 L427.4 757.2 L449.4 740.3 L470.6 722.2 L490.7 703.1 L509.8 683.0 L527.9 661.8 L544.8 639.8 L560.5 616.9 L575.0 593.2 L588.3 568.8 L600.2 543.8 L610.8 518.1 L620.1 491.9 L628.0 465.3 L634.5 438.3 L639.5 411.0 L643.2 383.4 L645.3 355.8 L646.1 328.0" fill="none" stroke="#c2bcae" stroke-width="0.6" opacity="0.45"/><use href="#lands"/><use href="#gl"/><g clip-path="url(#iceclip)"><path d="M176.0 550.0 L180.0 556.0 L178.0 562.0 L182.0 574.0 L184.0 586.0 L180.0 594.0 L172.0 600.0 L168.0 610.0 L162.0 620.0 L156.0 630.0 L150.0 638.0 L144.0 648.0 L138.0 658.0 L136.0 668.0 L130.0 680.0 L126.0 690.0 L124.0 701.0 L124.0 711.0 L122.0 719.0 L119.0 715.0 L114.0 709.0 L108.0 713.0 L102.0 715.0 L96.0 707.0 L91.0 695.0 L88.0 681.0 L89.0 667.0 L87.0 651.0 L89.0 638.0 L91.0 630.0 L89.0 614.0 L92.0 602.0 L91.0 580.0 L88.0 564.0 L80.0 558.0 L77.0 540.0 L75.0 524.0 L74.0 514.0 L66.0 502.0 L56.0 497.0" fill="none" stroke="#d0ccf7" stroke-width="20" opacity="0.85" filter="url(#blur6)"/><path d="M56.0 497.0 L49.0 492.0 L56.0 482.0 L50.0 472.0 L46.0 467.0 L60.0 464.0 L70.0 458.0 L82.0 454.0 L83.0 444.0 L96.0 442.0 L108.0 442.0 L118.0 435.0 L128.0 434.0 L136.0 439.0 L148.0 440.0 L156.0 446.0 L166.0 456.0 L170.0 466.0 L171.0 480.0 L172.0 492.0 L176.0 502.0 L184.0 508.0 L188.0 514.0 L180.0 522.0 L172.0 530.0 L170.0 540.0 L176.0 550.0" fill="none" stroke="#dcd8f9" stroke-width="12" opacity="0.35" filter="url(#blur6)"/><g filter="url(#blur6)"><ellipse cx="125" cy="615" rx="22" ry="22" fill="#fdeeee" opacity="0.6"/><ellipse cx="120" cy="500" rx="30" ry="30" fill="#fef4f4" opacity="0.5"/></g><g filter="url(#blur3)"><ellipse cx="72" cy="462" rx="11" ry="8" fill="#b9b6f5" opacity="0.85"/><ellipse cx="76" cy="490" rx="9" ry="22" fill="#cfcbf7" opacity="0.85"/><ellipse cx="84" cy="580" rx="7" ry="24" fill="#cfcbf7" opacity="0.85"/><ellipse cx="90" cy="660" rx="7" ry="30" fill="#d0ccf6" opacity="0.8"/><ellipse cx="98" cy="705" rx="8" ry="12" fill="#c8c4f5" opacity="0.8"/><ellipse cx="127" cy="695" rx="7" ry="20" fill="#d0ccf6" opacity="0.75"/><ellipse cx="171" cy="460" rx="7" ry="12" fill="#c4c0f5" opacity="0.8"/><ellipse cx="150" cy="443" rx="8" ry="4" fill="#c4c0f5" opacity="0.7"/><ellipse cx="165" cy="610" rx="8" ry="14" fill="#d4d0f7" opacity="0.7"/><ellipse cx="112" cy="716" rx="10" ry="6" fill="#ccc8f6" opacity="0.7"/><ellipse cx="76" cy="519" rx="7" ry="14" fill="#7a7af0" opacity="0.8"/><ellipse cx="80" cy="522" rx="12" ry="20" fill="#b4b2f5" opacity="0.6"/><ellipse cx="84" cy="546" rx="8" ry="15" fill="#9c9af3" opacity="0.75"/><ellipse cx="100" cy="603" rx="12" ry="6" fill="#7c7cf0" opacity="0.8"/><ellipse cx="104" cy="604" rx="18" ry="10" fill="#bcbaf6" opacity="0.5"/><ellipse cx="170" cy="603" rx="8" ry="7" fill="#9090f2" opacity="0.75"/><ellipse cx="146" cy="641" rx="9" ry="8" fill="#8888f1" opacity="0.75"/><ellipse cx="137" cy="659" rx="8" ry="11" fill="#8e8ef2" opacity="0.75"/><ellipse cx="91" cy="671" rx="6" ry="8" fill="#aaa8f4" opacity="0.7"/></g><g filter="url(#blur1)"><ellipse cx="73.5" cy="515.7" rx="3" ry="6" fill="#1a1ade" opacity="1"/><ellipse cx="81.5" cy="547.4" rx="3" ry="6" fill="#4a4aea" opacity="1"/><ellipse cx="96" cy="602.4" rx="6" ry="3" fill="#1e1ee0" opacity="1"/><ellipse cx="172" cy="601.5" rx="3.5" ry="3.5" fill="#2424e2" opacity="1"/><ellipse cx="149.6" cy="637.3" rx="4" ry="4" fill="#2424e2" opacity="1"/><ellipse cx="140" cy="652" rx="3.5" ry="3.5" fill="#2a2ae4" opacity="1"/><ellipse cx="134.5" cy="658.5" rx="4" ry="4" fill="#3a3ae6" opacity="1"/><ellipse cx="138.5" cy="668" rx="2.5" ry="3.5" fill="#4a4ae8" opacity="1"/><ellipse cx="89" cy="671" rx="3" ry="4" fill="#5a5aec" opacity="0.9"/><ellipse cx="104.9" cy="439.6" rx="2" ry="2" fill="#6a6aee" opacity="0.9"/></g><path d="M76.4 328.0 L-429.6 328.0 M77.7 338.2 L-411.0 469.1 M81.6 347.6 L-356.6 600.6 M87.9 355.7 L-269.9 713.5 M96.0 362.0 L-157.0 800.2 M105.4 365.9 L-25.5 854.6 M115.6 367.2 L115.6 873.2 M125.8 365.9 L256.7 854.6 M135.2 362.0 L388.2 800.2 M143.3 355.7 L501.1 713.5 M149.6 347.6 L587.8 600.6 M153.5 338.2 L642.2 469.1 M154.8 328.0 L660.8 328.0 M37.1 328.0 L37.2 332.1 L37.5 336.2 L38.1 340.3 L38.8 344.3 L39.8 348.3 L40.9 352.3 L42.3 356.1 L43.9 359.9 L45.6 363.6 L47.6 367.3 L49.8 370.8 L52.1 374.1 L54.6 377.4 L57.3 380.5 L60.1 383.5 L63.1 386.3 L66.2 389.0 L69.5 391.5 L72.8 393.8 L76.3 396.0 L80.0 398.0 L83.7 399.7 L87.5 401.3 L91.3 402.7 L95.3 403.8 L99.3 404.8 L103.3 405.5 L107.4 406.1 L111.5 406.4 L115.6 406.5 L119.7 406.4 L123.8 406.1 L127.9 405.5 L131.9 404.8 L135.9 403.8 L139.9 402.7 L143.7 401.3 L147.5 399.7 L151.2 398.0 L154.9 396.0 L158.4 393.8 L161.7 391.5 L165.0 389.0 L168.1 386.3 L171.1 383.5 L173.9 380.5 L176.6 377.4 L179.1 374.1 L181.4 370.8 L183.6 367.3 L185.6 363.6 L187.3 359.9 L188.9 356.1 L190.3 352.3 L191.4 348.3 L192.4 344.3 L193.1 340.3 L193.7 336.2 L194.0 332.1 L194.1 328.0 M-2.3 328.0 L-2.1 334.2 L-1.6 340.3 L-0.8 346.4 L0.3 352.5 L1.7 358.5 L3.5 364.4 L5.5 370.2 L7.9 376.0 L10.6 381.5 L13.5 386.9 L16.7 392.2 L20.2 397.3 L24.0 402.2 L28.0 406.9 L32.2 411.4 L36.7 415.6 L41.4 419.6 L46.3 423.4 L51.4 426.9 L56.7 430.1 L62.1 433.0 L67.6 435.7 L73.4 438.1 L79.2 440.1 L85.1 441.9 L91.1 443.3 L97.2 444.4 L103.3 445.2 L109.4 445.7 L115.6 445.9 L121.8 445.7 L127.9 445.2 L134.0 444.4 L140.1 443.3 L146.1 441.9 L152.0 440.1 L157.8 438.1 L163.6 435.7 L169.1 433.0 L174.5 430.1 L179.8 426.9 L184.9 423.4 L189.8 419.6 L194.5 415.6 L199.0 411.4 L203.2 406.9 L207.2 402.2 L211.0 397.3 L214.5 392.2 L217.7 386.9 L220.6 381.5 L223.3 376.0 L225.7 370.2 L227.7 364.4 L229.5 358.5 L230.9 352.5 L232.0 346.4 L232.8 340.3 L233.3 334.2 L233.5 328.0 M-41.8 328.0 L-41.6 336.2 L-41.0 344.5 L-39.9 352.6 L-38.4 360.7 L-36.5 368.8 L-34.1 376.7 L-31.4 384.4 L-28.2 392.0 L-24.7 399.5 L-20.8 406.7 L-16.4 413.8 L-11.8 420.5 L-6.8 427.1 L-1.4 433.4 L4.3 439.3 L10.2 445.0 L16.5 450.4 L23.1 455.4 L29.8 460.0 L36.9 464.4 L44.1 468.3 L51.6 471.8 L59.2 475.0 L66.9 477.7 L74.8 480.1 L82.9 482.0 L91.0 483.5 L99.1 484.6 L107.4 485.2 L115.6 485.4 L123.8 485.2 L132.1 484.6 L140.2 483.5 L148.3 482.0 L156.4 480.1 L164.3 477.7 L172.0 475.0 L179.6 471.8 L187.1 468.3 L194.3 464.4 L201.4 460.0 L208.1 455.4 L214.7 450.4 L221.0 445.0 L226.9 439.3 L232.6 433.4 L238.0 427.1 L243.0 420.5 L247.6 413.8 L252.0 406.7 L255.9 399.5 L259.4 392.0 L262.6 384.4 L265.3 376.7 L267.7 368.8 L269.6 360.7 L271.1 352.6 L272.2 344.5 L272.8 336.2 L273.0 328.0 M-81.6 328.0 L-81.3 338.3 L-80.5 348.6 L-79.2 358.9 L-77.3 369.0 L-74.9 379.0 L-72.0 388.9 L-68.5 398.7 L-64.6 408.2 L-60.1 417.5 L-55.2 426.6 L-49.8 435.4 L-44.0 443.9 L-37.7 452.1 L-31.0 460.0 L-23.9 467.5 L-16.4 474.6 L-8.5 481.3 L-0.3 487.6 L8.2 493.4 L17.0 498.8 L26.1 503.7 L35.4 508.2 L44.9 512.1 L54.7 515.6 L64.6 518.5 L74.6 520.9 L84.7 522.8 L95.0 524.1 L105.3 524.9 L115.6 525.2 L125.9 524.9 L136.2 524.1 L146.5 522.8 L156.6 520.9 L166.6 518.5 L176.5 515.6 L186.3 512.1 L195.8 508.2 L205.1 503.7 L214.2 498.8 L223.0 493.4 L231.5 487.6 L239.7 481.3 L247.6 474.6 L255.1 467.5 L262.2 460.0 L268.9 452.1 L275.2 443.9 L281.0 435.4 L286.4 426.6 L291.3 417.5 L295.8 408.2 L299.7 398.7 L303.2 388.9 L306.1 379.0 L308.5 369.0 L310.4 358.9 L311.7 348.6 L312.5 338.3 L312.8 328.0 M-121.7 328.0 L-121.3 340.4 L-120.4 352.8 L-118.7 365.1 L-116.5 377.3 L-113.6 389.4 L-110.0 401.3 L-105.9 413.0 L-101.1 424.5 L-95.8 435.7 L-89.9 446.6 L-83.4 457.2 L-76.3 467.5 L-68.8 477.3 L-60.7 486.8 L-52.2 495.8 L-43.2 504.3 L-33.7 512.4 L-23.9 519.9 L-13.6 527.0 L-3.0 533.5 L7.9 539.4 L19.1 544.7 L30.6 549.5 L42.3 553.6 L54.2 557.2 L66.3 560.1 L78.5 562.3 L90.8 564.0 L103.2 564.9 L115.6 565.3 L128.0 564.9 L140.4 564.0 L152.7 562.3 L164.9 560.1 L177.0 557.2 L188.9 553.6 L200.6 549.5 L212.1 544.7 L223.3 539.4 L234.2 533.5 L244.8 527.0 L255.1 519.9 L264.9 512.4 L274.4 504.3 L283.4 495.8 L291.9 486.8 L300.0 477.3 L307.5 467.5 L314.6 457.2 L321.1 446.6 L327.0 435.7 L332.3 424.5 L337.1 413.0 L341.2 401.3 L344.8 389.4 L347.7 377.3 L349.9 365.1 L351.6 352.8 L352.5 340.4 L352.9 328.0 M-162.0 328.0 L-161.7 342.5 L-160.5 357.0 L-158.6 371.4 L-156.0 385.7 L-152.6 399.9 L-148.4 413.8 L-143.6 427.5 L-138.0 440.9 L-131.8 454.0 L-124.8 466.8 L-117.2 479.2 L-109.0 491.2 L-100.2 502.7 L-90.7 513.8 L-80.7 524.3 L-70.2 534.3 L-59.1 543.8 L-47.6 552.6 L-35.6 560.8 L-23.2 568.4 L-10.4 575.4 L2.7 581.6 L16.1 587.2 L29.8 592.0 L43.7 596.2 L57.9 599.6 L72.2 602.2 L86.6 604.1 L101.1 605.3 L115.6 605.6 L130.1 605.3 L144.6 604.1 L159.0 602.2 L173.3 599.6 L187.5 596.2 L201.4 592.0 L215.1 587.2 L228.5 581.6 L241.6 575.4 L254.4 568.4 L266.8 560.8 L278.8 552.6 L290.3 543.8 L301.4 534.3 L311.9 524.3 L321.9 513.8 L331.4 502.7 L340.2 491.2 L348.4 479.2 L356.0 466.8 L363.0 454.0 L369.2 440.9 L374.8 427.5 L379.6 413.8 L383.8 399.9 L387.2 385.7 L389.8 371.4 L391.7 357.0 L392.9 342.5 L393.2 328.0 M-202.8 328.0 L-202.4 344.7 L-201.1 361.3 L-198.9 377.8 L-195.9 394.2 L-192.0 410.4 L-187.2 426.4 L-181.7 442.1 L-175.3 457.5 L-168.1 472.6 L-160.2 487.2 L-151.4 501.4 L-142.0 515.2 L-131.9 528.4 L-121.0 541.1 L-109.5 553.1 L-97.5 564.6 L-84.8 575.5 L-71.6 585.6 L-57.8 595.0 L-43.6 603.8 L-29.0 611.7 L-13.9 618.9 L1.5 625.3 L17.2 630.8 L33.2 635.6 L49.4 639.5 L65.8 642.5 L82.3 644.7 L98.9 646.0 L115.6 646.4 L132.3 646.0 L148.9 644.7 L165.4 642.5 L181.8 639.5 L198.0 635.6 L214.0 630.8 L229.7 625.3 L245.1 618.9 L260.2 611.7 L274.8 603.8 L289.0 595.0 L302.8 585.6 L316.0 575.5 L328.7 564.6 L340.7 553.1 L352.2 541.1 L363.1 528.4 L373.2 515.2 L382.6 501.4 L391.4 487.2 L399.3 472.6 L406.5 457.5 L412.9 442.1 L418.4 426.4 L423.2 410.4 L427.1 394.2 L430.1 377.8 L432.3 361.3 L433.6 344.7 L434.0 328.0 M-244.0 328.0 L-243.5 346.8 L-242.1 365.6 L-239.6 384.3 L-236.2 402.8 L-231.8 421.1 L-226.4 439.1 L-220.2 456.9 L-212.9 474.3 L-204.8 491.3 L-195.9 507.8 L-186.0 523.9 L-175.4 539.4 L-163.9 554.3 L-151.7 568.6 L-138.7 582.3 L-125.0 595.3 L-110.7 607.5 L-95.8 619.0 L-80.3 629.6 L-64.2 639.5 L-47.7 648.4 L-30.7 656.5 L-13.3 663.8 L4.5 670.0 L22.5 675.4 L40.8 679.8 L59.3 683.2 L78.0 685.7 L96.8 687.1 L115.6 687.6 L134.4 687.1 L153.2 685.7 L171.9 683.2 L190.4 679.8 L208.7 675.4 L226.7 670.0 L244.5 663.8 L261.9 656.5 L278.9 648.4 L295.4 639.5 L311.5 629.6 L327.0 619.0 L341.9 607.5 L356.2 595.3 L369.9 582.3 L382.9 568.6 L395.1 554.3 L406.6 539.4 L417.2 523.9 L427.1 507.8 L436.0 491.3 L444.1 474.3 L451.4 456.9 L457.6 439.1 L463.0 421.1 L467.4 402.8 L470.8 384.3 L473.3 365.6 L474.7 346.8 L475.2 328.0 M-285.8 328.0 L-285.2 349.0 L-283.6 370.0 L-280.8 390.8 L-277.0 411.5 L-272.1 431.9 L-266.1 452.0 L-259.1 471.8 L-251.1 491.3 L-242.0 510.2 L-232.0 528.7 L-221.0 546.6 L-209.1 563.9 L-196.3 580.6 L-182.7 596.6 L-168.2 611.8 L-153.0 626.3 L-137.0 639.9 L-120.3 652.7 L-103.0 664.6 L-85.1 675.6 L-66.6 685.6 L-47.7 694.7 L-28.2 702.7 L-8.4 709.7 L11.7 715.7 L32.1 720.6 L52.8 724.4 L73.6 727.2 L94.6 728.8 L115.6 729.4 L136.6 728.8 L157.6 727.2 L178.4 724.4 L199.1 720.6 L219.5 715.7 L239.6 709.7 L259.4 702.7 L278.9 694.7 L297.8 685.6 L316.3 675.6 L334.2 664.6 L351.5 652.7 L368.2 639.9 L384.2 626.3 L399.4 611.8 L413.9 596.6 L427.5 580.6 L440.3 563.9 L452.2 546.6 L463.2 528.7 L473.2 510.2 L482.3 491.3 L490.3 471.8 L497.3 452.0 L503.3 431.9 L508.2 411.5 L512.0 390.8 L514.8 370.0 L516.4 349.0 L517.0 328.0 M-328.1 328.0 L-327.5 351.2 L-325.7 374.4 L-322.7 397.4 L-318.4 420.3 L-313.0 442.8 L-306.4 465.1 L-298.7 487.0 L-289.8 508.5 L-279.8 529.4 L-268.7 549.9 L-256.5 569.7 L-243.4 588.8 L-229.2 607.2 L-214.2 624.9 L-198.2 641.8 L-181.3 657.8 L-163.6 672.8 L-145.2 687.0 L-126.1 700.1 L-106.3 712.3 L-85.8 723.4 L-64.9 733.4 L-43.4 742.3 L-21.5 750.0 L0.8 756.6 L23.3 762.0 L46.2 766.3 L69.2 769.3 L92.4 771.1 L115.6 771.7 L138.8 771.1 L162.0 769.3 L185.0 766.3 L207.9 762.0 L230.4 756.6 L252.7 750.0 L274.6 742.3 L296.1 733.4 L317.0 723.4 L337.5 712.3 L357.3 700.1 L376.4 687.0 L394.8 672.8 L412.5 657.8 L429.4 641.8 L445.4 624.9 L460.4 607.2 L474.6 588.8 L487.7 569.7 L499.9 549.9 L511.0 529.4 L521.0 508.5 L529.9 487.0 L537.6 465.1 L544.2 442.8 L549.6 420.3 L553.9 397.4 L556.9 374.4 L558.7 351.2 L559.3 328.0 M-371.1 328.0 L-370.5 353.5 L-368.5 378.9 L-365.1 404.1 L-360.5 429.2 L-354.5 454.0 L-347.3 478.4 L-338.8 502.4 L-329.0 526.0 L-318.1 549.0 L-305.9 571.4 L-292.6 593.1 L-278.2 614.1 L-262.7 634.3 L-246.1 653.7 L-228.6 672.2 L-210.1 689.7 L-190.7 706.3 L-170.5 721.8 L-149.5 736.2 L-127.8 749.5 L-105.4 761.7 L-82.4 772.6 L-58.8 782.4 L-34.8 790.9 L-10.4 798.1 L14.4 804.1 L39.5 808.7 L64.7 812.1 L90.1 814.1 L115.6 814.7 L141.1 814.1 L166.5 812.1 L191.7 808.7 L216.8 804.1 L241.6 798.1 L266.0 790.9 L290.0 782.4 L313.6 772.6 L336.6 761.7 L359.0 749.5 L380.7 736.2 L401.7 721.8 L421.9 706.3 L441.3 689.7 L459.8 672.2 L477.3 653.7 L493.9 634.3 L509.4 614.1 L523.8 593.1 L537.1 571.4 L549.3 549.0 L560.2 526.0 L570.0 502.4 L578.5 478.4 L585.7 454.0 L591.7 429.2 L596.3 404.1 L599.7 378.9 L601.7 353.5 L602.3 328.0 M-414.9 328.0 L-414.1 355.8 L-412.0 383.4 L-408.3 411.0 L-403.3 438.3 L-396.8 465.3 L-388.9 491.9 L-379.6 518.1 L-369.0 543.8 L-357.1 568.8 L-343.8 593.2 L-329.3 616.9 L-313.6 639.8 L-296.7 661.8 L-278.6 683.0 L-259.5 703.1 L-239.4 722.2 L-218.2 740.3 L-196.2 757.2 L-173.3 772.9 L-149.6 787.4 L-125.2 800.7 L-100.2 812.6 L-74.5 823.2 L-48.3 832.5 L-21.7 840.4 L5.3 846.9 L32.6 851.9 L60.2 855.6 L87.8 857.7 L115.6 858.5 L143.4 857.7 L171.0 855.6 L198.6 851.9 L225.9 846.9 L252.9 840.4 L279.5 832.5 L305.7 823.2 L331.4 812.6 L356.4 800.7 L380.8 787.4 L404.5 772.9 L427.4 757.2 L449.4 740.3 L470.6 722.2 L490.7 703.1 L509.8 683.0 L527.9 661.8 L544.8 639.8 L560.5 616.9 L575.0 593.2 L588.3 568.8 L600.2 543.8 L610.8 518.1 L620.1 491.9 L628.0 465.3 L634.5 438.3 L639.5 411.0 L643.2 383.4 L645.3 355.8 L646.1 328.0" fill="none" stroke="#cfcfcf" stroke-width="0.6"/></g><g filter="url(#blur1)"><ellipse cx="179.6" cy="488" rx="2.2" ry="3.6" fill="#2a2ae0" opacity="1"/><ellipse cx="174.7" cy="481.8" rx="3.2" ry="2.3" fill="#f07070" opacity="0.95"/><ellipse cx="181" cy="466" rx="3" ry="5" fill="#b0aef4" opacity="0.7"/></g></g><g transform="translate(418.8 483.9) scale(0.35)"><path d="M75.0 558.0 L72.0 548.0 L70.4 536.0 L70.0 524.0 L71.0 514.0 L67.0 504.0 L60.0 498.0 L50.0 496.0 L43.0 492.0 L40.0 484.0 L43.0 480.0 L52.0 479.0 L48.0 475.0 L43.0 469.0 L44.0 464.0 L54.0 462.4 L64.0 460.0 L70.0 455.0 L67.0 448.0 L69.0 443.0 L78.0 439.0 L84.0 436.0 L88.0 430.0 L100.0 427.0 L108.0 422.0 L116.0 419.0 L124.0 413.0 L134.0 409.6 L144.0 411.0 L152.0 417.0 L154.0 420.0 L152.0 424.0 L146.0 430.0 L153.0 428.0 L160.0 426.0 L168.0 426.0 L170.0 421.0 L177.0 422.0 L177.0 430.0 L175.0 440.0 L176.0 448.0 L174.0 453.0 L179.0 458.0 L183.0 466.0 L188.0 474.0 L192.0 482.0 L198.0 494.0 L206.0 504.0 L204.0 512.0 L205.0 520.0 L204.0 530.0 L205.0 540.0 L208.0 550.0 L212.0 552.0 L217.0 564.0 L208.0 567.0 L200.0 565.0 L196.0 572.0 L200.0 576.0 L216.0 571.0 L212.0 580.0 L206.0 592.0 L198.0 602.0 L188.0 609.0 L180.0 612.0 L175.0 620.0 L175.0 628.0 L168.0 638.0 L160.0 646.0 L152.0 649.0 L144.0 655.0 L143.0 666.0 L141.0 676.0 L136.0 684.0 L131.0 692.0 L132.0 701.0 L133.0 711.0 L129.0 721.0 L128.0 729.0 L122.0 732.0 L114.0 727.0 L108.0 721.0 L100.0 720.0 L93.0 715.0 L87.0 705.0 L82.0 693.0 L77.0 679.0 L74.0 665.0 L70.0 651.0 L67.0 640.0 L68.0 626.0 L70.0 614.0 L76.0 607.0 L86.0 602.0 L75.0 598.0 L69.0 590.0 L73.0 580.0 L78.0 574.0 L70.0 568.0 L72.0 560.0 Z" fill="#b3b7b9" stroke="#8c9398" stroke-width="1.6" stroke-linejoin="round" filter="url(#rough)"/><g clip-path="url(#outerclip)"><rect x="30" y="400" width="200" height="340" filter="url(#patches)" opacity="0.7"/><path d="M77.3 561.6 L83.9 566.5 L86.5 580.5 L87.5 601.5 L84.6 612.9 L84.6 613.3 L84.5 613.7 L84.5 614.1 L84.5 614.6 L86.4 629.7 L84.6 636.9 L84.6 637.3 L82.6 650.3 L82.5 650.7 L82.5 651.1 L82.5 651.6 L84.5 667.1 L83.5 680.7 L83.5 681.1 L83.5 681.5 L83.6 681.9 L86.6 695.9 L86.7 696.3 L86.8 696.7 L91.8 708.7 L92.0 709.1 L92.2 709.4 L92.4 709.7 L98.4 717.7 L98.7 718.0 L99.0 718.3 L99.3 718.6 L99.7 718.9 L100.1 719.1 L100.5 719.2 L100.9 719.4 L101.3 719.4 L101.7 719.5 L102.2 719.5 L102.6 719.5 L103.0 719.4 L103.4 719.3 L109.4 717.3 L109.8 717.1 L110.2 717.0 L110.5 716.7 L113.1 715.0 L115.5 717.8 L118.4 721.7 L118.7 722.0 L119.0 722.3 L119.3 722.6 L119.7 722.9 L120.1 723.1 L120.5 723.2 L120.9 723.4 L121.4 723.5 L121.8 723.5 L122.2 723.5 L122.7 723.4 L123.1 723.4 L123.5 723.2 L123.9 723.1 L124.3 722.9 L124.7 722.6 L125.0 722.3 L125.3 722.0 L125.6 721.7 L125.9 721.3 L126.1 720.9 L126.2 720.5 L126.4 720.1 L128.4 712.1 L128.5 711.5 L128.5 711.0 L128.5 701.4 L130.3 691.3 L134.1 681.8 L140.0 670.0 L140.2 669.6 L140.3 669.3 L140.4 668.9 L142.3 659.6 L153.7 640.5 L159.6 632.7 L159.9 632.3 L171.9 612.3 L172.0 612.0 L172.2 611.7 L175.7 602.8 L182.7 597.6 L183.0 597.3 L183.3 597.0 L183.6 596.7 L183.8 596.4 L184.0 596.0 L188.0 588.0 L188.2 587.6 L188.4 587.1 L188.4 586.7 L188.5 586.2 L188.5 585.7 L188.4 585.3 L186.4 573.3 L186.4 572.9 L186.3 572.6 L182.7 562.0 L184.3 557.4 L184.4 557.0 L184.5 556.5 L184.5 556.1 L184.5 555.6 L184.4 555.2 L184.3 554.7 L184.2 554.3 L184.0 553.9 L183.7 553.5 L179.8 547.6 L174.8 539.2 L176.1 532.2 L191.2 517.2 L191.5 516.9 L191.7 516.5 L192.0 516.1 L192.2 515.7 L192.3 515.3 L192.4 514.9 L192.5 514.4 L192.5 514.0 L192.5 513.6 L192.4 513.1 L192.3 512.7 L192.2 512.3 L192.0 511.9 L191.7 511.5 L187.7 505.5 L187.4 505.1 L187.1 504.7 L186.7 504.4 L179.7 499.2 L176.4 491.0 L175.5 479.7 L174.5 465.7 L174.4 465.2 L174.3 464.8 L174.2 464.3 L170.2 454.3 L170.0 453.9 L169.8 453.5 L169.5 453.2 L169.2 452.8 L159.2 442.8 L158.7 442.4 L150.7 436.4 L150.4 436.2 L150.0 436.0 L149.6 435.8 L149.2 435.7 L148.8 435.6 L148.4 435.5 L137.5 434.6 L130.4 430.2 L130.0 430.0 L129.6 429.8 L129.2 429.7 L128.8 429.6 L128.4 429.5 L128.0 429.5 L127.6 429.5 L117.6 430.5 L117.1 430.6 L116.7 430.7 L116.2 430.9 L115.8 431.1 L115.4 431.3 L106.6 437.5 L96.0 437.5 L95.7 437.5 L95.3 437.6 L82.3 439.6 L81.9 439.6 L81.4 439.8 L81.0 440.0 L80.6 440.2 L80.2 440.4 L79.9 440.7 L79.6 441.1 L79.3 441.4 L79.1 441.8 L78.9 442.2 L78.7 442.7 L78.6 443.1 L78.5 443.6 L77.8 450.7 L68.6 453.7 L68.1 453.9 L67.7 454.1 L58.3 459.8 L45.1 462.6 L44.6 462.7 L44.2 462.9 L43.8 463.1 L43.5 463.3 L43.1 463.5 L42.8 463.8 L42.5 464.2 L42.2 464.5 L42.0 464.9 L41.8 465.3 L41.7 465.7 L41.6 466.1 L41.5 466.5 L41.5 467.0 L41.5 467.4 L41.6 467.9 L41.7 468.3 L41.8 468.7 L42.0 469.1 L42.2 469.5 L42.5 469.8 L46.3 474.6 L50.6 481.8 L45.3 489.4 L45.1 489.8 L44.9 490.2 L44.7 490.6 L44.6 491.0 L44.5 491.4 L44.5 491.9 L44.5 492.3 L44.6 492.8 L44.7 493.2 L44.8 493.6 L45.0 494.0 L45.2 494.4 L45.4 494.8 L45.7 495.1 L46.0 495.4 L46.4 495.7 L53.4 500.7 L53.7 500.9 L54.0 501.0 L62.9 505.5 L69.6 515.6 L70.5 524.4 L70.5 524.6 L72.5 540.6 L72.6 540.7 L75.6 558.7 L75.7 559.2 L75.8 559.6 L75.9 560.0 L76.2 560.3 L76.4 560.7 L76.7 561.0 L77.0 561.3 Z" fill="#7a858b" filter="url(#speckle)" opacity="0.7"/></g><path d="M80.0 558.0 L77.0 540.0 L75.0 524.0 L74.0 514.0 L66.0 502.0 L56.0 497.0 L49.0 492.0 L56.0 482.0 L50.0 472.0 L46.0 467.0 L60.0 464.0 L70.0 458.0 L82.0 454.0 L83.0 444.0 L96.0 442.0 L108.0 442.0 L118.0 435.0 L128.0 434.0 L136.0 439.0 L148.0 440.0 L156.0 446.0 L166.0 456.0 L170.0 466.0 L171.0 480.0 L172.0 492.0 L176.0 502.0 L184.0 508.0 L188.0 514.0 L180.0 522.0 L172.0 530.0 L170.0 540.0 L176.0 550.0 L180.0 556.0 L178.0 562.0 L182.0 574.0 L184.0 586.0 L180.0 594.0 L172.0 600.0 L168.0 610.0 L162.0 620.0 L156.0 630.0 L150.0 638.0 L144.0 648.0 L138.0 658.0 L136.0 668.0 L130.0 680.0 L126.0 690.0 L124.0 701.0 L124.0 711.0 L122.0 719.0 L119.0 715.0 L114.0 709.0 L108.0 713.0 L102.0 715.0 L96.0 707.0 L91.0 695.0 L88.0 681.0 L89.0 667.0 L87.0 651.0 L89.0 638.0 L91.0 630.0 L89.0 614.0 L92.0 602.0 L91.0 580.0 L88.0 564.0 Z" fill="#fefcfe" filter="url(#roughice)"/><g clip-path="url(#iceclip)"><path d="M80.0 558.0 L77.0 540.0 L75.0 524.0 L74.0 514.0 L66.0 502.0 L56.0 497.0 L49.0 492.0 L56.0 482.0 L50.0 472.0 L46.0 467.0 L60.0 464.0 L70.0 458.0 L82.0 454.0 L83.0 444.0 L96.0 442.0 L108.0 442.0 L118.0 435.0 L128.0 434.0 L136.0 439.0 L148.0 440.0 L156.0 446.0 L166.0 456.0 L170.0 466.0 L171.0 480.0 L172.0 492.0 L176.0 502.0 L184.0 508.0 L188.0 514.0 L180.0 522.0 L172.0 530.0 L170.0 540.0 L176.0 550.0 L180.0 556.0 L178.0 562.0 L182.0 574.0 L184.0 586.0 L180.0 594.0 L172.0 600.0 L168.0 610.0 L162.0 620.0 L156.0 630.0 L150.0 638.0 L144.0 648.0 L138.0 658.0 L136.0 668.0 L130.0 680.0 L126.0 690.0 L124.0 701.0 L124.0 711.0 L122.0 719.0 L119.0 715.0 L114.0 709.0 L108.0 713.0 L102.0 715.0 L96.0 707.0 L91.0 695.0 L88.0 681.0 L89.0 667.0 L87.0 651.0 L89.0 638.0 L91.0 630.0 L89.0 614.0 L92.0 602.0 L91.0 580.0 L88.0 564.0 Z" fill="none" stroke="#b5b3f6" stroke-width="8" filter="url(#blur6)" opacity="0.6"/><g filter="url(#blur4)"><ellipse cx="72" cy="515" rx="6" ry="16" fill="#1c1ce0"/><ellipse cx="80" cy="547" rx="5" ry="10" fill="#1c1ce0"/><ellipse cx="94" cy="604" rx="10" ry="5" fill="#1c1ce0"/><ellipse cx="174" cy="604" rx="7" ry="7" fill="#1c1ce0"/><ellipse cx="153" cy="640" rx="8" ry="8" fill="#1c1ce0"/><ellipse cx="137" cy="662" rx="7" ry="12" fill="#1c1ce0"/><ellipse cx="127" cy="697" rx="6" ry="12" fill="#1c1ce0"/><ellipse cx="88" cy="671" rx="5" ry="8" fill="#1c1ce0"/><ellipse cx="142" cy="652" rx="6" ry="6" fill="#1c1ce0"/><ellipse cx="172" cy="470" rx="5" ry="9" fill="#1c1ce0"/><ellipse cx="76" cy="490" rx="4" ry="10" fill="#1c1ce0"/></g></g><g filter="url(#blur1)"><ellipse cx="176" cy="478" rx="4" ry="3" fill="#f08080"/><ellipse cx="181" cy="548" rx="3" ry="3" fill="#f09090"/></g></g><text x="452.6" y="670" textLength="19" lengthAdjust="spacingAndGlyphs" font-family="'Liberation Sans', sans-serif" font-size="14.8" font-weight="bold" fill="#000">(d)</text></g><rect x="260.1" y="403.0" width="250.8" height="340.0" fill="none" stroke="#8a8a86" stroke-width="0.9"/>
<g clip-path="url(#clipc)"><rect x="515.6" y="403.0" width="250.8" height="340.0" fill="url(#ocean)"/><g transform="translate(511.2 0)"><use href="#oceanfx"/><path d="M76.4 328.0 L-429.6 328.0 M77.7 338.2 L-411.0 469.1 M81.6 347.6 L-356.6 600.6 M87.9 355.7 L-269.9 713.5 M96.0 362.0 L-157.0 800.2 M105.4 365.9 L-25.5 854.6 M115.6 367.2 L115.6 873.2 M125.8 365.9 L256.7 854.6 M135.2 362.0 L388.2 800.2 M143.3 355.7 L501.1 713.5 M149.6 347.6 L587.8 600.6 M153.5 338.2 L642.2 469.1 M154.8 328.0 L660.8 328.0 M37.1 328.0 L37.2 332.1 L37.5 336.2 L38.1 340.3 L38.8 344.3 L39.8 348.3 L40.9 352.3 L42.3 356.1 L43.9 359.9 L45.6 363.6 L47.6 367.3 L49.8 370.8 L52.1 374.1 L54.6 377.4 L57.3 380.5 L60.1 383.5 L63.1 386.3 L66.2 389.0 L69.5 391.5 L72.8 393.8 L76.3 396.0 L80.0 398.0 L83.7 399.7 L87.5 401.3 L91.3 402.7 L95.3 403.8 L99.3 404.8 L103.3 405.5 L107.4 406.1 L111.5 406.4 L115.6 406.5 L119.7 406.4 L123.8 406.1 L127.9 405.5 L131.9 404.8 L135.9 403.8 L139.9 402.7 L143.7 401.3 L147.5 399.7 L151.2 398.0 L154.9 396.0 L158.4 393.8 L161.7 391.5 L165.0 389.0 L168.1 386.3 L171.1 383.5 L173.9 380.5 L176.6 377.4 L179.1 374.1 L181.4 370.8 L183.6 367.3 L185.6 363.6 L187.3 359.9 L188.9 356.1 L190.3 352.3 L191.4 348.3 L192.4 344.3 L193.1 340.3 L193.7 336.2 L194.0 332.1 L194.1 328.0 M-2.3 328.0 L-2.1 334.2 L-1.6 340.3 L-0.8 346.4 L0.3 352.5 L1.7 358.5 L3.5 364.4 L5.5 370.2 L7.9 376.0 L10.6 381.5 L13.5 386.9 L16.7 392.2 L20.2 397.3 L24.0 402.2 L28.0 406.9 L32.2 411.4 L36.7 415.6 L41.4 419.6 L46.3 423.4 L51.4 426.9 L56.7 430.1 L62.1 433.0 L67.6 435.7 L73.4 438.1 L79.2 440.1 L85.1 441.9 L91.1 443.3 L97.2 444.4 L103.3 445.2 L109.4 445.7 L115.6 445.9 L121.8 445.7 L127.9 445.2 L134.0 444.4 L140.1 443.3 L146.1 441.9 L152.0 440.1 L157.8 438.1 L163.6 435.7 L169.1 433.0 L174.5 430.1 L179.8 426.9 L184.9 423.4 L189.8 419.6 L194.5 415.6 L199.0 411.4 L203.2 406.9 L207.2 402.2 L211.0 397.3 L214.5 392.2 L217.7 386.9 L220.6 381.5 L223.3 376.0 L225.7 370.2 L227.7 364.4 L229.5 358.5 L230.9 352.5 L232.0 346.4 L232.8 340.3 L233.3 334.2 L233.5 328.0 M-41.8 328.0 L-41.6 336.2 L-41.0 344.5 L-39.9 352.6 L-38.4 360.7 L-36.5 368.8 L-34.1 376.7 L-31.4 384.4 L-28.2 392.0 L-24.7 399.5 L-20.8 406.7 L-16.4 413.8 L-11.8 420.5 L-6.8 427.1 L-1.4 433.4 L4.3 439.3 L10.2 445.0 L16.5 450.4 L23.1 455.4 L29.8 460.0 L36.9 464.4 L44.1 468.3 L51.6 471.8 L59.2 475.0 L66.9 477.7 L74.8 480.1 L82.9 482.0 L91.0 483.5 L99.1 484.6 L107.4 485.2 L115.6 485.4 L123.8 485.2 L132.1 484.6 L140.2 483.5 L148.3 482.0 L156.4 480.1 L164.3 477.7 L172.0 475.0 L179.6 471.8 L187.1 468.3 L194.3 464.4 L201.4 460.0 L208.1 455.4 L214.7 450.4 L221.0 445.0 L226.9 439.3 L232.6 433.4 L238.0 427.1 L243.0 420.5 L247.6 413.8 L252.0 406.7 L255.9 399.5 L259.4 392.0 L262.6 384.4 L265.3 376.7 L267.7 368.8 L269.6 360.7 L271.1 352.6 L272.2 344.5 L272.8 336.2 L273.0 328.0 M-81.6 328.0 L-81.3 338.3 L-80.5 348.6 L-79.2 358.9 L-77.3 369.0 L-74.9 379.0 L-72.0 388.9 L-68.5 398.7 L-64.6 408.2 L-60.1 417.5 L-55.2 426.6 L-49.8 435.4 L-44.0 443.9 L-37.7 452.1 L-31.0 460.0 L-23.9 467.5 L-16.4 474.6 L-8.5 481.3 L-0.3 487.6 L8.2 493.4 L17.0 498.8 L26.1 503.7 L35.4 508.2 L44.9 512.1 L54.7 515.6 L64.6 518.5 L74.6 520.9 L84.7 522.8 L95.0 524.1 L105.3 524.9 L115.6 525.2 L125.9 524.9 L136.2 524.1 L146.5 522.8 L156.6 520.9 L166.6 518.5 L176.5 515.6 L186.3 512.1 L195.8 508.2 L205.1 503.7 L214.2 498.8 L223.0 493.4 L231.5 487.6 L239.7 481.3 L247.6 474.6 L255.1 467.5 L262.2 460.0 L268.9 452.1 L275.2 443.9 L281.0 435.4 L286.4 426.6 L291.3 417.5 L295.8 408.2 L299.7 398.7 L303.2 388.9 L306.1 379.0 L308.5 369.0 L310.4 358.9 L311.7 348.6 L312.5 338.3 L312.8 328.0 M-121.7 328.0 L-121.3 340.4 L-120.4 352.8 L-118.7 365.1 L-116.5 377.3 L-113.6 389.4 L-110.0 401.3 L-105.9 413.0 L-101.1 424.5 L-95.8 435.7 L-89.9 446.6 L-83.4 457.2 L-76.3 467.5 L-68.8 477.3 L-60.7 486.8 L-52.2 495.8 L-43.2 504.3 L-33.7 512.4 L-23.9 519.9 L-13.6 527.0 L-3.0 533.5 L7.9 539.4 L19.1 544.7 L30.6 549.5 L42.3 553.6 L54.2 557.2 L66.3 560.1 L78.5 562.3 L90.8 564.0 L103.2 564.9 L115.6 565.3 L128.0 564.9 L140.4 564.0 L152.7 562.3 L164.9 560.1 L177.0 557.2 L188.9 553.6 L200.6 549.5 L212.1 544.7 L223.3 539.4 L234.2 533.5 L244.8 527.0 L255.1 519.9 L264.9 512.4 L274.4 504.3 L283.4 495.8 L291.9 486.8 L300.0 477.3 L307.5 467.5 L314.6 457.2 L321.1 446.6 L327.0 435.7 L332.3 424.5 L337.1 413.0 L341.2 401.3 L344.8 389.4 L347.7 377.3 L349.9 365.1 L351.6 352.8 L352.5 340.4 L352.9 328.0 M-162.0 328.0 L-161.7 342.5 L-160.5 357.0 L-158.6 371.4 L-156.0 385.7 L-152.6 399.9 L-148.4 413.8 L-143.6 427.5 L-138.0 440.9 L-131.8 454.0 L-124.8 466.8 L-117.2 479.2 L-109.0 491.2 L-100.2 502.7 L-90.7 513.8 L-80.7 524.3 L-70.2 534.3 L-59.1 543.8 L-47.6 552.6 L-35.6 560.8 L-23.2 568.4 L-10.4 575.4 L2.7 581.6 L16.1 587.2 L29.8 592.0 L43.7 596.2 L57.9 599.6 L72.2 602.2 L86.6 604.1 L101.1 605.3 L115.6 605.6 L130.1 605.3 L144.6 604.1 L159.0 602.2 L173.3 599.6 L187.5 596.2 L201.4 592.0 L215.1 587.2 L228.5 581.6 L241.6 575.4 L254.4 568.4 L266.8 560.8 L278.8 552.6 L290.3 543.8 L301.4 534.3 L311.9 524.3 L321.9 513.8 L331.4 502.7 L340.2 491.2 L348.4 479.2 L356.0 466.8 L363.0 454.0 L369.2 440.9 L374.8 427.5 L379.6 413.8 L383.8 399.9 L387.2 385.7 L389.8 371.4 L391.7 357.0 L392.9 342.5 L393.2 328.0 M-202.8 328.0 L-202.4 344.7 L-201.1 361.3 L-198.9 377.8 L-195.9 394.2 L-192.0 410.4 L-187.2 426.4 L-181.7 442.1 L-175.3 457.5 L-168.1 472.6 L-160.2 487.2 L-151.4 501.4 L-142.0 515.2 L-131.9 528.4 L-121.0 541.1 L-109.5 553.1 L-97.5 564.6 L-84.8 575.5 L-71.6 585.6 L-57.8 595.0 L-43.6 603.8 L-29.0 611.7 L-13.9 618.9 L1.5 625.3 L17.2 630.8 L33.2 635.6 L49.4 639.5 L65.8 642.5 L82.3 644.7 L98.9 646.0 L115.6 646.4 L132.3 646.0 L148.9 644.7 L165.4 642.5 L181.8 639.5 L198.0 635.6 L214.0 630.8 L229.7 625.3 L245.1 618.9 L260.2 611.7 L274.8 603.8 L289.0 595.0 L302.8 585.6 L316.0 575.5 L328.7 564.6 L340.7 553.1 L352.2 541.1 L363.1 528.4 L373.2 515.2 L382.6 501.4 L391.4 487.2 L399.3 472.6 L406.5 457.5 L412.9 442.1 L418.4 426.4 L423.2 410.4 L427.1 394.2 L430.1 377.8 L432.3 361.3 L433.6 344.7 L434.0 328.0 M-244.0 328.0 L-243.5 346.8 L-242.1 365.6 L-239.6 384.3 L-236.2 402.8 L-231.8 421.1 L-226.4 439.1 L-220.2 456.9 L-212.9 474.3 L-204.8 491.3 L-195.9 507.8 L-186.0 523.9 L-175.4 539.4 L-163.9 554.3 L-151.7 568.6 L-138.7 582.3 L-125.0 595.3 L-110.7 607.5 L-95.8 619.0 L-80.3 629.6 L-64.2 639.5 L-47.7 648.4 L-30.7 656.5 L-13.3 663.8 L4.5 670.0 L22.5 675.4 L40.8 679.8 L59.3 683.2 L78.0 685.7 L96.8 687.1 L115.6 687.6 L134.4 687.1 L153.2 685.7 L171.9 683.2 L190.4 679.8 L208.7 675.4 L226.7 670.0 L244.5 663.8 L261.9 656.5 L278.9 648.4 L295.4 639.5 L311.5 629.6 L327.0 619.0 L341.9 607.5 L356.2 595.3 L369.9 582.3 L382.9 568.6 L395.1 554.3 L406.6 539.4 L417.2 523.9 L427.1 507.8 L436.0 491.3 L444.1 474.3 L451.4 456.9 L457.6 439.1 L463.0 421.1 L467.4 402.8 L470.8 384.3 L473.3 365.6 L474.7 346.8 L475.2 328.0 M-285.8 328.0 L-285.2 349.0 L-283.6 370.0 L-280.8 390.8 L-277.0 411.5 L-272.1 431.9 L-266.1 452.0 L-259.1 471.8 L-251.1 491.3 L-242.0 510.2 L-232.0 528.7 L-221.0 546.6 L-209.1 563.9 L-196.3 580.6 L-182.7 596.6 L-168.2 611.8 L-153.0 626.3 L-137.0 639.9 L-120.3 652.7 L-103.0 664.6 L-85.1 675.6 L-66.6 685.6 L-47.7 694.7 L-28.2 702.7 L-8.4 709.7 L11.7 715.7 L32.1 720.6 L52.8 724.4 L73.6 727.2 L94.6 728.8 L115.6 729.4 L136.6 728.8 L157.6 727.2 L178.4 724.4 L199.1 720.6 L219.5 715.7 L239.6 709.7 L259.4 702.7 L278.9 694.7 L297.8 685.6 L316.3 675.6 L334.2 664.6 L351.5 652.7 L368.2 639.9 L384.2 626.3 L399.4 611.8 L413.9 596.6 L427.5 580.6 L440.3 563.9 L452.2 546.6 L463.2 528.7 L473.2 510.2 L482.3 491.3 L490.3 471.8 L497.3 452.0 L503.3 431.9 L508.2 411.5 L512.0 390.8 L514.8 370.0 L516.4 349.0 L517.0 328.0 M-328.1 328.0 L-327.5 351.2 L-325.7 374.4 L-322.7 397.4 L-318.4 420.3 L-313.0 442.8 L-306.4 465.1 L-298.7 487.0 L-289.8 508.5 L-279.8 529.4 L-268.7 549.9 L-256.5 569.7 L-243.4 588.8 L-229.2 607.2 L-214.2 624.9 L-198.2 641.8 L-181.3 657.8 L-163.6 672.8 L-145.2 687.0 L-126.1 700.1 L-106.3 712.3 L-85.8 723.4 L-64.9 733.4 L-43.4 742.3 L-21.5 750.0 L0.8 756.6 L23.3 762.0 L46.2 766.3 L69.2 769.3 L92.4 771.1 L115.6 771.7 L138.8 771.1 L162.0 769.3 L185.0 766.3 L207.9 762.0 L230.4 756.6 L252.7 750.0 L274.6 742.3 L296.1 733.4 L317.0 723.4 L337.5 712.3 L357.3 700.1 L376.4 687.0 L394.8 672.8 L412.5 657.8 L429.4 641.8 L445.4 624.9 L460.4 607.2 L474.6 588.8 L487.7 569.7 L499.9 549.9 L511.0 529.4 L521.0 508.5 L529.9 487.0 L537.6 465.1 L544.2 442.8 L549.6 420.3 L553.9 397.4 L556.9 374.4 L558.7 351.2 L559.3 328.0 M-371.1 328.0 L-370.5 353.5 L-368.5 378.9 L-365.1 404.1 L-360.5 429.2 L-354.5 454.0 L-347.3 478.4 L-338.8 502.4 L-329.0 526.0 L-318.1 549.0 L-305.9 571.4 L-292.6 593.1 L-278.2 614.1 L-262.7 634.3 L-246.1 653.7 L-228.6 672.2 L-210.1 689.7 L-190.7 706.3 L-170.5 721.8 L-149.5 736.2 L-127.8 749.5 L-105.4 761.7 L-82.4 772.6 L-58.8 782.4 L-34.8 790.9 L-10.4 798.1 L14.4 804.1 L39.5 808.7 L64.7 812.1 L90.1 814.1 L115.6 814.7 L141.1 814.1 L166.5 812.1 L191.7 808.7 L216.8 804.1 L241.6 798.1 L266.0 790.9 L290.0 782.4 L313.6 772.6 L336.6 761.7 L359.0 749.5 L380.7 736.2 L401.7 721.8 L421.9 706.3 L441.3 689.7 L459.8 672.2 L477.3 653.7 L493.9 634.3 L509.4 614.1 L523.8 593.1 L537.1 571.4 L549.3 549.0 L560.2 526.0 L570.0 502.4 L578.5 478.4 L585.7 454.0 L591.7 429.2 L596.3 404.1 L599.7 378.9 L601.7 353.5 L602.3 328.0 M-414.9 328.0 L-414.1 355.8 L-412.0 383.4 L-408.3 411.0 L-403.3 438.3 L-396.8 465.3 L-388.9 491.9 L-379.6 518.1 L-369.0 543.8 L-357.1 568.8 L-343.8 593.2 L-329.3 616.9 L-313.6 639.8 L-296.7 661.8 L-278.6 683.0 L-259.5 703.1 L-239.4 722.2 L-218.2 740.3 L-196.2 757.2 L-173.3 772.9 L-149.6 787.4 L-125.2 800.7 L-100.2 812.6 L-74.5 823.2 L-48.3 832.5 L-21.7 840.4 L5.3 846.9 L32.6 851.9 L60.2 855.6 L87.8 857.7 L115.6 858.5 L143.4 857.7 L171.0 855.6 L198.6 851.9 L225.9 846.9 L252.9 840.4 L279.5 832.5 L305.7 823.2 L331.4 812.6 L356.4 800.7 L380.8 787.4 L404.5 772.9 L427.4 757.2 L449.4 740.3 L470.6 722.2 L490.7 703.1 L509.8 683.0 L527.9 661.8 L544.8 639.8 L560.5 616.9 L575.0 593.2 L588.3 568.8 L600.2 543.8 L610.8 518.1 L620.1 491.9 L628.0 465.3 L634.5 438.3 L639.5 411.0 L643.2 383.4 L645.3 355.8 L646.1 328.0" fill="none" stroke="#c2bcae" stroke-width="0.6" opacity="0.45"/><use href="#lands"/><use href="#gl"/><g clip-path="url(#iceclip)"><path d="M176.0 550.0 L180.0 556.0 L178.0 562.0 L182.0 574.0 L184.0 586.0 L180.0 594.0 L172.0 600.0 L168.0 610.0 L162.0 620.0 L156.0 630.0 L150.0 638.0 L144.0 648.0 L138.0 658.0 L136.0 668.0 L130.0 680.0 L126.0 690.0 L124.0 701.0 L124.0 711.0 L122.0 719.0 L119.0 715.0 L114.0 709.0 L108.0 713.0 L102.0 715.0 L96.0 707.0 L91.0 695.0 L88.0 681.0 L89.0 667.0 L87.0 651.0 L89.0 638.0 L91.0 630.0 L89.0 614.0 L92.0 602.0 L91.0 580.0 L88.0 564.0 L80.0 558.0 L77.0 540.0 L75.0 524.0 L74.0 514.0 L66.0 502.0 L56.0 497.0" fill="none" stroke="#cfcbf7" stroke-width="26" opacity="0.85" filter="url(#blur6)"/><path d="M56.0 497.0 L49.0 492.0 L56.0 482.0 L50.0 472.0 L46.0 467.0 L60.0 464.0 L70.0 458.0 L82.0 454.0 L83.0 444.0 L96.0 442.0 L108.0 442.0 L118.0 435.0 L128.0 434.0 L136.0 439.0 L148.0 440.0 L156.0 446.0 L166.0 456.0 L170.0 466.0 L171.0 480.0 L172.0 492.0 L176.0 502.0 L184.0 508.0 L188.0 514.0 L180.0 522.0 L172.0 530.0 L170.0 540.0 L176.0 550.0" fill="none" stroke="#d8d4f8" stroke-width="14" opacity="0.7" filter="url(#blur6)"/><g filter="url(#blur6)"><ellipse cx="110" cy="580" rx="50" ry="140" fill="#ebe8fc" opacity="0.8"/><ellipse cx="100" cy="640" rx="24" ry="70" fill="#d9d5f8" opacity="0.8"/><ellipse cx="92" cy="520" rx="16" ry="50" fill="#dfdbf9" opacity="0.8"/><ellipse cx="108" cy="607" rx="30" ry="20" fill="#aaa7f4" opacity="0.7"/><ellipse cx="132" cy="528" rx="26" ry="10" fill="#fdeeee" opacity="0.8"/><ellipse cx="120" cy="470" rx="20" ry="10" fill="#fbf3f8" opacity="0.6"/></g><g filter="url(#blur3)"><ellipse cx="72" cy="460" rx="10" ry="7" fill="#b6b3f5" opacity="0.85"/><ellipse cx="78" cy="480" rx="10" ry="16" fill="#cac6f7" opacity="0.75"/><ellipse cx="84" cy="547.4" rx="5" ry="6" fill="#5c5cec" opacity="0.9"/><ellipse cx="86" cy="546" rx="11" ry="14" fill="#a09ef4" opacity="0.7"/><ellipse cx="82.6" cy="503" rx="5" ry="7" fill="#9a98f3" opacity="0.7"/><ellipse cx="76" cy="519" rx="3.5" ry="5" fill="#7c7af0" opacity="0.8"/><ellipse cx="102" cy="603" rx="13" ry="8" fill="#6c6aee" opacity="0.8"/><ellipse cx="106" cy="605" rx="20" ry="13" fill="#8e8cf2" opacity="0.6"/><ellipse cx="108.6" cy="657" rx="4" ry="9" fill="#7d7bf0" opacity="0.85"/><ellipse cx="104" cy="645" rx="9" ry="20" fill="#b0adf5" opacity="0.7"/><ellipse cx="100" cy="625" rx="8" ry="14" fill="#bab7f6" opacity="0.6"/><ellipse cx="172" cy="601.5" rx="4.5" ry="4.5" fill="#8482f0" opacity="0.85"/><ellipse cx="150" cy="639.5" rx="7" ry="5" fill="#a4a2f4" opacity="0.75"/><ellipse cx="135" cy="665" rx="6" ry="11" fill="#bcb9f6" opacity="0.7"/><ellipse cx="146" cy="468" rx="8" ry="4" fill="#c0bdf6" opacity="0.7"/><ellipse cx="148" cy="505" rx="7" ry="10" fill="#c8c5f7" opacity="0.6"/><ellipse cx="170" cy="456" rx="6" ry="9" fill="#bcb9f6" opacity="0.75"/><ellipse cx="125" cy="700" rx="14" ry="20" fill="#d6d3f8" opacity="0.7"/></g><g filter="url(#blur1)"><ellipse cx="100" cy="603" rx="5" ry="3.5" fill="#2a2ae2" opacity="1"/></g><g mask="url(#mmask)"><rect x="40" y="430" width="150" height="300" filter="url(#mottle)"/></g><g filter="url(#blur6)"><ellipse cx="140" cy="612" rx="16" ry="20" fill="#fff" opacity="0.6"/><ellipse cx="135" cy="480" rx="22" ry="20" fill="#fff" opacity="0.45"/><ellipse cx="150" cy="545" rx="16" ry="22" fill="#fff" opacity="0.45"/><ellipse cx="118" cy="675" rx="7" ry="14" fill="#fff" opacity="0.4"/></g><path d="M76.4 328.0 L-429.6 328.0 M77.7 338.2 L-411.0 469.1 M81.6 347.6 L-356.6 600.6 M87.9 355.7 L-269.9 713.5 M96.0 362.0 L-157.0 800.2 M105.4 365.9 L-25.5 854.6 M115.6 367.2 L115.6 873.2 M125.8 365.9 L256.7 854.6 M135.2 362.0 L388.2 800.2 M143.3 355.7 L501.1 713.5 M149.6 347.6 L587.8 600.6 M153.5 338.2 L642.2 469.1 M154.8 328.0 L660.8 328.0 M37.1 328.0 L37.2 332.1 L37.5 336.2 L38.1 340.3 L38.8 344.3 L39.8 348.3 L40.9 352.3 L42.3 356.1 L43.9 359.9 L45.6 363.6 L47.6 367.3 L49.8 370.8 L52.1 374.1 L54.6 377.4 L57.3 380.5 L60.1 383.5 L63.1 386.3 L66.2 389.0 L69.5 391.5 L72.8 393.8 L76.3 396.0 L80.0 398.0 L83.7 399.7 L87.5 401.3 L91.3 402.7 L95.3 403.8 L99.3 404.8 L103.3 405.5 L107.4 406.1 L111.5 406.4 L115.6 406.5 L119.7 406.4 L123.8 406.1 L127.9 405.5 L131.9 404.8 L135.9 403.8 L139.9 402.7 L143.7 401.3 L147.5 399.7 L151.2 398.0 L154.9 396.0 L158.4 393.8 L161.7 391.5 L165.0 389.0 L168.1 386.3 L171.1 383.5 L173.9 380.5 L176.6 377.4 L179.1 374.1 L181.4 370.8 L183.6 367.3 L185.6 363.6 L187.3 359.9 L188.9 356.1 L190.3 352.3 L191.4 348.3 L192.4 344.3 L193.1 340.3 L193.7 336.2 L194.0 332.1 L194.1 328.0 M-2.3 328.0 L-2.1 334.2 L-1.6 340.3 L-0.8 346.4 L0.3 352.5 L1.7 358.5 L3.5 364.4 L5.5 370.2 L7.9 376.0 L10.6 381.5 L13.5 386.9 L16.7 392.2 L20.2 397.3 L24.0 402.2 L28.0 406.9 L32.2 411.4 L36.7 415.6 L41.4 419.6 L46.3 423.4 L51.4 426.9 L56.7 430.1 L62.1 433.0 L67.6 435.7 L73.4 438.1 L79.2 440.1 L85.1 441.9 L91.1 443.3 L97.2 444.4 L103.3 445.2 L109.4 445.7 L115.6 445.9 L121.8 445.7 L127.9 445.2 L134.0 444.4 L140.1 443.3 L146.1 441.9 L152.0 440.1 L157.8 438.1 L163.6 435.7 L169.1 433.0 L174.5 430.1 L179.8 426.9 L184.9 423.4 L189.8 419.6 L194.5 415.6 L199.0 411.4 L203.2 406.9 L207.2 402.2 L211.0 397.3 L214.5 392.2 L217.7 386.9 L220.6 381.5 L223.3 376.0 L225.7 370.2 L227.7 364.4 L229.5 358.5 L230.9 352.5 L232.0 346.4 L232.8 340.3 L233.3 334.2 L233.5 328.0 M-41.8 328.0 L-41.6 336.2 L-41.0 344.5 L-39.9 352.6 L-38.4 360.7 L-36.5 368.8 L-34.1 376.7 L-31.4 384.4 L-28.2 392.0 L-24.7 399.5 L-20.8 406.7 L-16.4 413.8 L-11.8 420.5 L-6.8 427.1 L-1.4 433.4 L4.3 439.3 L10.2 445.0 L16.5 450.4 L23.1 455.4 L29.8 460.0 L36.9 464.4 L44.1 468.3 L51.6 471.8 L59.2 475.0 L66.9 477.7 L74.8 480.1 L82.9 482.0 L91.0 483.5 L99.1 484.6 L107.4 485.2 L115.6 485.4 L123.8 485.2 L132.1 484.6 L140.2 483.5 L148.3 482.0 L156.4 480.1 L164.3 477.7 L172.0 475.0 L179.6 471.8 L187.1 468.3 L194.3 464.4 L201.4 460.0 L208.1 455.4 L214.7 450.4 L221.0 445.0 L226.9 439.3 L232.6 433.4 L238.0 427.1 L243.0 420.5 L247.6 413.8 L252.0 406.7 L255.9 399.5 L259.4 392.0 L262.6 384.4 L265.3 376.7 L267.7 368.8 L269.6 360.7 L271.1 352.6 L272.2 344.5 L272.8 336.2 L273.0 328.0 M-81.6 328.0 L-81.3 338.3 L-80.5 348.6 L-79.2 358.9 L-77.3 369.0 L-74.9 379.0 L-72.0 388.9 L-68.5 398.7 L-64.6 408.2 L-60.1 417.5 L-55.2 426.6 L-49.8 435.4 L-44.0 443.9 L-37.7 452.1 L-31.0 460.0 L-23.9 467.5 L-16.4 474.6 L-8.5 481.3 L-0.3 487.6 L8.2 493.4 L17.0 498.8 L26.1 503.7 L35.4 508.2 L44.9 512.1 L54.7 515.6 L64.6 518.5 L74.6 520.9 L84.7 522.8 L95.0 524.1 L105.3 524.9 L115.6 525.2 L125.9 524.9 L136.2 524.1 L146.5 522.8 L156.6 520.9 L166.6 518.5 L176.5 515.6 L186.3 512.1 L195.8 508.2 L205.1 503.7 L214.2 498.8 L223.0 493.4 L231.5 487.6 L239.7 481.3 L247.6 474.6 L255.1 467.5 L262.2 460.0 L268.9 452.1 L275.2 443.9 L281.0 435.4 L286.4 426.6 L291.3 417.5 L295.8 408.2 L299.7 398.7 L303.2 388.9 L306.1 379.0 L308.5 369.0 L310.4 358.9 L311.7 348.6 L312.5 338.3 L312.8 328.0 M-121.7 328.0 L-121.3 340.4 L-120.4 352.8 L-118.7 365.1 L-116.5 377.3 L-113.6 389.4 L-110.0 401.3 L-105.9 413.0 L-101.1 424.5 L-95.8 435.7 L-89.9 446.6 L-83.4 457.2 L-76.3 467.5 L-68.8 477.3 L-60.7 486.8 L-52.2 495.8 L-43.2 504.3 L-33.7 512.4 L-23.9 519.9 L-13.6 527.0 L-3.0 533.5 L7.9 539.4 L19.1 544.7 L30.6 549.5 L42.3 553.6 L54.2 557.2 L66.3 560.1 L78.5 562.3 L90.8 564.0 L103.2 564.9 L115.6 565.3 L128.0 564.9 L140.4 564.0 L152.7 562.3 L164.9 560.1 L177.0 557.2 L188.9 553.6 L200.6 549.5 L212.1 544.7 L223.3 539.4 L234.2 533.5 L244.8 527.0 L255.1 519.9 L264.9 512.4 L274.4 504.3 L283.4 495.8 L291.9 486.8 L300.0 477.3 L307.5 467.5 L314.6 457.2 L321.1 446.6 L327.0 435.7 L332.3 424.5 L337.1 413.0 L341.2 401.3 L344.8 389.4 L347.7 377.3 L349.9 365.1 L351.6 352.8 L352.5 340.4 L352.9 328.0 M-162.0 328.0 L-161.7 342.5 L-160.5 357.0 L-158.6 371.4 L-156.0 385.7 L-152.6 399.9 L-148.4 413.8 L-143.6 427.5 L-138.0 440.9 L-131.8 454.0 L-124.8 466.8 L-117.2 479.2 L-109.0 491.2 L-100.2 502.7 L-90.7 513.8 L-80.7 524.3 L-70.2 534.3 L-59.1 543.8 L-47.6 552.6 L-35.6 560.8 L-23.2 568.4 L-10.4 575.4 L2.7 581.6 L16.1 587.2 L29.8 592.0 L43.7 596.2 L57.9 599.6 L72.2 602.2 L86.6 604.1 L101.1 605.3 L115.6 605.6 L130.1 605.3 L144.6 604.1 L159.0 602.2 L173.3 599.6 L187.5 596.2 L201.4 592.0 L215.1 587.2 L228.5 581.6 L241.6 575.4 L254.4 568.4 L266.8 560.8 L278.8 552.6 L290.3 543.8 L301.4 534.3 L311.9 524.3 L321.9 513.8 L331.4 502.7 L340.2 491.2 L348.4 479.2 L356.0 466.8 L363.0 454.0 L369.2 440.9 L374.8 427.5 L379.6 413.8 L383.8 399.9 L387.2 385.7 L389.8 371.4 L391.7 357.0 L392.9 342.5 L393.2 328.0 M-202.8 328.0 L-202.4 344.7 L-201.1 361.3 L-198.9 377.8 L-195.9 394.2 L-192.0 410.4 L-187.2 426.4 L-181.7 442.1 L-175.3 457.5 L-168.1 472.6 L-160.2 487.2 L-151.4 501.4 L-142.0 515.2 L-131.9 528.4 L-121.0 541.1 L-109.5 553.1 L-97.5 564.6 L-84.8 575.5 L-71.6 585.6 L-57.8 595.0 L-43.6 603.8 L-29.0 611.7 L-13.9 618.9 L1.5 625.3 L17.2 630.8 L33.2 635.6 L49.4 639.5 L65.8 642.5 L82.3 644.7 L98.9 646.0 L115.6 646.4 L132.3 646.0 L148.9 644.7 L165.4 642.5 L181.8 639.5 L198.0 635.6 L214.0 630.8 L229.7 625.3 L245.1 618.9 L260.2 611.7 L274.8 603.8 L289.0 595.0 L302.8 585.6 L316.0 575.5 L328.7 564.6 L340.7 553.1 L352.2 541.1 L363.1 528.4 L373.2 515.2 L382.6 501.4 L391.4 487.2 L399.3 472.6 L406.5 457.5 L412.9 442.1 L418.4 426.4 L423.2 410.4 L427.1 394.2 L430.1 377.8 L432.3 361.3 L433.6 344.7 L434.0 328.0 M-244.0 328.0 L-243.5 346.8 L-242.1 365.6 L-239.6 384.3 L-236.2 402.8 L-231.8 421.1 L-226.4 439.1 L-220.2 456.9 L-212.9 474.3 L-204.8 491.3 L-195.9 507.8 L-186.0 523.9 L-175.4 539.4 L-163.9 554.3 L-151.7 568.6 L-138.7 582.3 L-125.0 595.3 L-110.7 607.5 L-95.8 619.0 L-80.3 629.6 L-64.2 639.5 L-47.7 648.4 L-30.7 656.5 L-13.3 663.8 L4.5 670.0 L22.5 675.4 L40.8 679.8 L59.3 683.2 L78.0 685.7 L96.8 687.1 L115.6 687.6 L134.4 687.1 L153.2 685.7 L171.9 683.2 L190.4 679.8 L208.7 675.4 L226.7 670.0 L244.5 663.8 L261.9 656.5 L278.9 648.4 L295.4 639.5 L311.5 629.6 L327.0 619.0 L341.9 607.5 L356.2 595.3 L369.9 582.3 L382.9 568.6 L395.1 554.3 L406.6 539.4 L417.2 523.9 L427.1 507.8 L436.0 491.3 L444.1 474.3 L451.4 456.9 L457.6 439.1 L463.0 421.1 L467.4 402.8 L470.8 384.3 L473.3 365.6 L474.7 346.8 L475.2 328.0 M-285.8 328.0 L-285.2 349.0 L-283.6 370.0 L-280.8 390.8 L-277.0 411.5 L-272.1 431.9 L-266.1 452.0 L-259.1 471.8 L-251.1 491.3 L-242.0 510.2 L-232.0 528.7 L-221.0 546.6 L-209.1 563.9 L-196.3 580.6 L-182.7 596.6 L-168.2 611.8 L-153.0 626.3 L-137.0 639.9 L-120.3 652.7 L-103.0 664.6 L-85.1 675.6 L-66.6 685.6 L-47.7 694.7 L-28.2 702.7 L-8.4 709.7 L11.7 715.7 L32.1 720.6 L52.8 724.4 L73.6 727.2 L94.6 728.8 L115.6 729.4 L136.6 728.8 L157.6 727.2 L178.4 724.4 L199.1 720.6 L219.5 715.7 L239.6 709.7 L259.4 702.7 L278.9 694.7 L297.8 685.6 L316.3 675.6 L334.2 664.6 L351.5 652.7 L368.2 639.9 L384.2 626.3 L399.4 611.8 L413.9 596.6 L427.5 580.6 L440.3 563.9 L452.2 546.6 L463.2 528.7 L473.2 510.2 L482.3 491.3 L490.3 471.8 L497.3 452.0 L503.3 431.9 L508.2 411.5 L512.0 390.8 L514.8 370.0 L516.4 349.0 L517.0 328.0 M-328.1 328.0 L-327.5 351.2 L-325.7 374.4 L-322.7 397.4 L-318.4 420.3 L-313.0 442.8 L-306.4 465.1 L-298.7 487.0 L-289.8 508.5 L-279.8 529.4 L-268.7 549.9 L-256.5 569.7 L-243.4 588.8 L-229.2 607.2 L-214.2 624.9 L-198.2 641.8 L-181.3 657.8 L-163.6 672.8 L-145.2 687.0 L-126.1 700.1 L-106.3 712.3 L-85.8 723.4 L-64.9 733.4 L-43.4 742.3 L-21.5 750.0 L0.8 756.6 L23.3 762.0 L46.2 766.3 L69.2 769.3 L92.4 771.1 L115.6 771.7 L138.8 771.1 L162.0 769.3 L185.0 766.3 L207.9 762.0 L230.4 756.6 L252.7 750.0 L274.6 742.3 L296.1 733.4 L317.0 723.4 L337.5 712.3 L357.3 700.1 L376.4 687.0 L394.8 672.8 L412.5 657.8 L429.4 641.8 L445.4 624.9 L460.4 607.2 L474.6 588.8 L487.7 569.7 L499.9 549.9 L511.0 529.4 L521.0 508.5 L529.9 487.0 L537.6 465.1 L544.2 442.8 L549.6 420.3 L553.9 397.4 L556.9 374.4 L558.7 351.2 L559.3 328.0 M-371.1 328.0 L-370.5 353.5 L-368.5 378.9 L-365.1 404.1 L-360.5 429.2 L-354.5 454.0 L-347.3 478.4 L-338.8 502.4 L-329.0 526.0 L-318.1 549.0 L-305.9 571.4 L-292.6 593.1 L-278.2 614.1 L-262.7 634.3 L-246.1 653.7 L-228.6 672.2 L-210.1 689.7 L-190.7 706.3 L-170.5 721.8 L-149.5 736.2 L-127.8 749.5 L-105.4 761.7 L-82.4 772.6 L-58.8 782.4 L-34.8 790.9 L-10.4 798.1 L14.4 804.1 L39.5 808.7 L64.7 812.1 L90.1 814.1 L115.6 814.7 L141.1 814.1 L166.5 812.1 L191.7 808.7 L216.8 804.1 L241.6 798.1 L266.0 790.9 L290.0 782.4 L313.6 772.6 L336.6 761.7 L359.0 749.5 L380.7 736.2 L401.7 721.8 L421.9 706.3 L441.3 689.7 L459.8 672.2 L477.3 653.7 L493.9 634.3 L509.4 614.1 L523.8 593.1 L537.1 571.4 L549.3 549.0 L560.2 526.0 L570.0 502.4 L578.5 478.4 L585.7 454.0 L591.7 429.2 L596.3 404.1 L599.7 378.9 L601.7 353.5 L602.3 328.0 M-414.9 328.0 L-414.1 355.8 L-412.0 383.4 L-408.3 411.0 L-403.3 438.3 L-396.8 465.3 L-388.9 491.9 L-379.6 518.1 L-369.0 543.8 L-357.1 568.8 L-343.8 593.2 L-329.3 616.9 L-313.6 639.8 L-296.7 661.8 L-278.6 683.0 L-259.5 703.1 L-239.4 722.2 L-218.2 740.3 L-196.2 757.2 L-173.3 772.9 L-149.6 787.4 L-125.2 800.7 L-100.2 812.6 L-74.5 823.2 L-48.3 832.5 L-21.7 840.4 L5.3 846.9 L32.6 851.9 L60.2 855.6 L87.8 857.7 L115.6 858.5 L143.4 857.7 L171.0 855.6 L198.6 851.9 L225.9 846.9 L252.9 840.4 L279.5 832.5 L305.7 823.2 L331.4 812.6 L356.4 800.7 L380.8 787.4 L404.5 772.9 L427.4 757.2 L449.4 740.3 L470.6 722.2 L490.7 703.1 L509.8 683.0 L527.9 661.8 L544.8 639.8 L560.5 616.9 L575.0 593.2 L588.3 568.8 L600.2 543.8 L610.8 518.1 L620.1 491.9 L628.0 465.3 L634.5 438.3 L639.5 411.0 L643.2 383.4 L645.3 355.8 L646.1 328.0" fill="none" stroke="#cfcfcf" stroke-width="0.6"/></g><g filter="url(#blur1)"><ellipse cx="175.4" cy="481.8" rx="4" ry="3" fill="#f06a6a" opacity="1"/><ellipse cx="181" cy="490" rx="2.2" ry="4" fill="#4a4ae8" opacity="0.95"/></g></g></g><rect x="515.6" y="403.0" width="250.8" height="340.0" fill="none" stroke="#8a8a86" stroke-width="0.9"/>
<path d="M770.2 419.0 L778.1 404.2 L786.0 419.0 L786.0 729.0 L778.1 743.6 L770.2 729.0 Z" fill="url(#cbar)" stroke="#5a3030" stroke-opacity="0.35" stroke-width="0.4"/>
<text x="793.8" y="422.2" text-anchor="middle" font-family="'Liberation Sans', sans-serif" font-size="8.8" font-weight="bold" fill="#111">2</text><text x="793.8" y="460.9" text-anchor="middle" font-family="'Liberation Sans', sans-serif" font-size="8.8" font-weight="bold" fill="#111">1.5</text><text x="793.8" y="499.7" text-anchor="middle" font-family="'Liberation Sans', sans-serif" font-size="8.8" font-weight="bold" fill="#111">1</text><text x="793.8" y="538.5" text-anchor="middle" font-family="'Liberation Sans', sans-serif" font-size="8.8" font-weight="bold" fill="#111">0.5</text><text x="793.8" y="577.2" text-anchor="middle" font-family="'Liberation Sans', sans-serif" font-size="8.8" font-weight="bold" fill="#111">0</text><text x="793.8" y="616.0" text-anchor="middle" font-family="'Liberation Sans', sans-serif" font-size="8.8" font-weight="bold" fill="#111">-0.5</text><text x="793.8" y="654.7" text-anchor="middle" font-family="'Liberation Sans', sans-serif" font-size="8.8" font-weight="bold" fill="#111">-1</text><text x="793.8" y="693.5" text-anchor="middle" font-family="'Liberation Sans', sans-serif" font-size="8.8" font-weight="bold" fill="#111">-1.5</text><text x="793.8" y="732.2" text-anchor="middle" font-family="'Liberation Sans', sans-serif" font-size="8.8" font-weight="bold" fill="#111">-2</text>
<text transform="translate(815.6 633.8) rotate(-90)" font-family="'Liberation Sans', sans-serif" font-size="8.9" font-weight="bold" fill="#111" stroke="#111" stroke-width="0.15" textLength="126.2" lengthAdjust="spacingAndGlyphs">Mass change [m ice eq. per year]</text>
</svg>
</body></html>
